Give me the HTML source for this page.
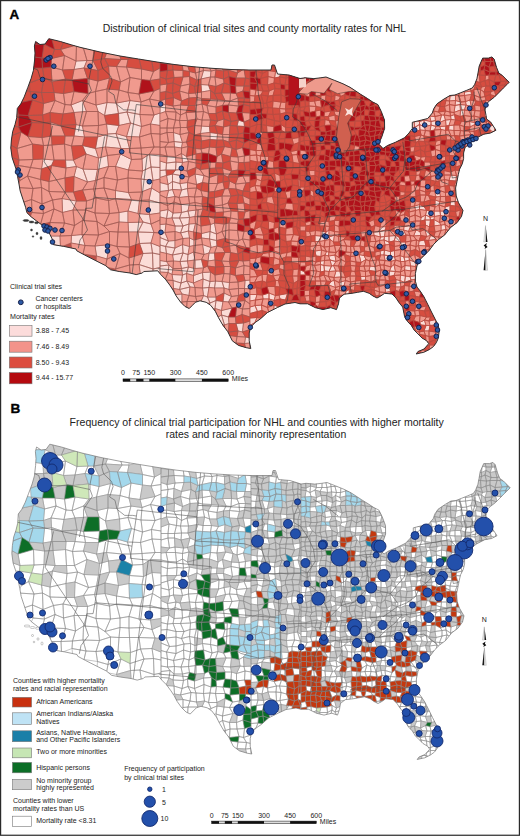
<!DOCTYPE html>
<html><head><meta charset="utf-8"><style>
html,body{margin:0;padding:0;background:#fff;}
body{width:520px;height:836px;position:relative;overflow:hidden;font-family:"Liberation Sans",sans-serif;color:#222;}
.t{position:absolute;white-space:nowrap;line-height:1;}
svg{position:absolute;left:0;top:0;}
</style></head><body>
<svg width="520" height="836" viewBox="0 0 520 836" font-family="Liberation Sans, sans-serif">
<defs><clipPath id="usA"><path d="M35.6,41.5 L40.0,44.5 L45.0,44.0 L48.8,38.7 L60.4,41.5 L71.9,45.0 L80.0,47.3 L100.0,52.0 L120.0,56.0 L138.5,59.0 L157.0,62.0 L175.0,64.6 L194.0,66.8 L212.0,68.3 L231.0,69.5 L249.0,70.0 L271.0,70.0 L272.0,65.0 L274.5,65.0 L277.5,74.0 L289.0,75.0 L300.0,78.5 L305.0,77.8 L313.8,78.6 L320.8,77.8 L326.0,77.0 L334.6,80.4 L343.0,83.8 L350.0,87.3 L355.4,90.8 L360.5,94.2 L367.5,98.5 L372.7,102.0 L377.9,104.6 L381.3,111.5 L384.5,120.0 L384.6,128.5 L381.5,137.7 L378.5,143.8 L383.0,148.5 L387.7,145.4 L395.4,142.3 L404.6,137.7 L409.0,133.0 L412.3,128.5 L412.3,122.3 L418.5,120.8 L427.7,118.5 L432.3,113.0 L433.8,108.5 L437.0,103.8 L444.0,99.0 L450.0,95.5 L455.0,95.0 L460.8,92.7 L466.5,90.4 L472.3,88.0 L474.6,84.6 L476.9,78.8 L478.0,73.0 L479.2,66.1 L482.7,58.1 L488.5,58.1 L491.9,56.9 L494.2,59.2 L496.5,67.3 L498.8,73.0 L502.3,75.4 L505.7,78.8 L509.2,82.3 L506.9,84.6 L503.4,88.0 L498.8,92.7 L494.2,97.3 L489.6,100.8 L486.1,104.2 L485.0,110.0 L486.1,115.7 L486.5,119.0 L490.6,122.0 L496.0,130.2 L490.6,133.0 L483.8,134.2 L475.8,138.3 L470.4,142.3 L465.0,147.7 L463.6,153.0 L463.6,158.5 L462.3,163.8 L459.6,169.2 L458.3,174.6 L457.0,181.3 L455.6,188.0 L456.2,196.0 L458.5,202.7 L463.0,210.4 L461.5,216.5 L457.0,222.7 L450.8,227.3 L444.6,235.0 L438.5,239.6 L433.8,244.2 L429.2,250.4 L424.6,255.0 L420.0,259.6 L417.0,265.8 L415.4,273.5 L415.4,281.2 L417.0,287.0 L420.0,290.8 L423.8,296.5 L427.7,304.2 L431.5,312.0 L435.4,319.6 L438.3,325.4 L439.2,331.0 L438.3,338.0 L436.3,342.7 L433.5,346.5 L429.6,349.4 L423.8,352.3 L419.0,353.3 L416.2,354.0 L418.0,351.5 L424.0,349.0 L428.7,343.7 L426.7,340.8 L422.0,338.0 L418.0,334.0 L414.2,330.2 L411.3,325.4 L407.5,321.5 L404.6,316.7 L403.7,312.0 L402.7,307.1 L398.8,302.3 L396.0,298.0 L392.0,294.0 L384.6,293.3 L380.8,296.0 L377.0,298.0 L373.0,296.0 L369.2,293.3 L363.5,291.3 L357.7,292.3 L352.0,293.3 L344.2,294.2 L339.4,298.0 L338.5,303.8 L336.5,309.6 L330.8,307.7 L323.0,309.6 L315.4,307.7 L307.7,303.8 L300.0,303.8 L295.0,302.5 L285.0,304.0 L277.5,307.5 L267.5,312.5 L260.0,319.2 L255.4,322.3 L250.8,327.0 L249.2,333.0 L249.2,340.8 L250.8,348.5 L246.2,347.7 L238.5,345.4 L232.3,340.8 L227.7,331.5 L223.0,325.4 L218.5,317.7 L215.4,311.5 L210.8,305.4 L206.2,302.3 L200.0,300.8 L195.4,302.3 L192.3,305.4 L189.2,308.5 L185.0,306.5 L180.5,302.0 L176.2,296.0 L173.0,290.0 L170.0,285.4 L165.4,279.2 L160.8,274.6 L157.7,270.8 L143.8,271.5 L142.3,273.0 L136.2,274.6 L130.0,273.0 L119.2,271.5 L110.6,269.8 L105.4,265.5 L95.0,260.3 L84.6,255.0 L76.8,250.8 L76.0,249.0 L63.8,246.4 L53.5,244.7 L52.5,239.6 L49.8,234.2 L47.1,228.8 L41.7,224.8 L36.3,220.8 L31.0,216.7 L26.9,212.7 L25.6,207.3 L22.9,199.2 L20.2,191.0 L18.8,183.0 L17.5,176.3 L16.2,169.6 L14.8,165.6 L12.1,157.5 L10.8,148.0 L11.4,140.0 L12.7,131.5 L15.0,124.6 L16.7,117.7 L17.3,108.5 L20.8,103.8 L24.2,96.9 L27.7,87.7 L31.1,78.5 L33.4,70.4 L34.6,60.0 L35.0,53.0 L34.4,46.0 Z"/></clipPath>
<clipPath id="usB"><path d="M35.6,41.5 L40.0,44.5 L45.0,44.0 L48.8,38.7 L60.4,41.5 L71.9,45.0 L80.0,47.3 L100.0,52.0 L120.0,56.0 L138.5,59.0 L157.0,62.0 L175.0,64.6 L194.0,66.8 L212.0,68.3 L231.0,69.5 L249.0,70.0 L271.0,70.0 L272.0,65.0 L274.5,65.0 L277.5,74.0 L289.0,75.0 L300.0,78.5 L305.0,77.8 L313.8,78.6 L320.8,77.8 L326.0,77.0 L334.6,80.4 L343.0,83.8 L350.0,87.3 L355.4,90.8 L360.5,94.2 L367.5,98.5 L372.7,102.0 L377.9,104.6 L381.3,111.5 L384.5,120.0 L384.6,128.5 L381.5,137.7 L378.5,143.8 L383.0,148.5 L387.7,145.4 L395.4,142.3 L404.6,137.7 L409.0,133.0 L412.3,128.5 L412.3,122.3 L418.5,120.8 L427.7,118.5 L432.3,113.0 L433.8,108.5 L437.0,103.8 L444.0,99.0 L450.0,95.5 L455.0,95.0 L460.8,92.7 L466.5,90.4 L472.3,88.0 L474.6,84.6 L476.9,78.8 L478.0,73.0 L479.2,66.1 L482.7,58.1 L488.5,58.1 L491.9,56.9 L494.2,59.2 L496.5,67.3 L498.8,73.0 L502.3,75.4 L505.7,78.8 L509.2,82.3 L506.9,84.6 L503.4,88.0 L498.8,92.7 L494.2,97.3 L489.6,100.8 L486.1,104.2 L485.0,110.0 L486.1,115.7 L486.5,119.0 L490.6,122.0 L496.0,130.2 L490.6,133.0 L483.8,134.2 L475.8,138.3 L470.4,142.3 L465.0,147.7 L463.6,153.0 L463.6,158.5 L462.3,163.8 L459.6,169.2 L458.3,174.6 L457.0,181.3 L455.6,188.0 L456.2,196.0 L458.5,202.7 L463.0,210.4 L461.5,216.5 L457.0,222.7 L450.8,227.3 L444.6,235.0 L438.5,239.6 L433.8,244.2 L429.2,250.4 L424.6,255.0 L420.0,259.6 L417.0,265.8 L415.4,273.5 L415.4,281.2 L417.0,287.0 L420.0,290.8 L423.8,296.5 L427.7,304.2 L431.5,312.0 L435.4,319.6 L438.3,325.4 L439.2,331.0 L438.3,338.0 L436.3,342.7 L433.5,346.5 L429.6,349.4 L423.8,352.3 L419.0,353.3 L416.2,354.0 L418.0,351.5 L424.0,349.0 L428.7,343.7 L426.7,340.8 L422.0,338.0 L418.0,334.0 L414.2,330.2 L411.3,325.4 L407.5,321.5 L404.6,316.7 L403.7,312.0 L402.7,307.1 L398.8,302.3 L396.0,298.0 L392.0,294.0 L384.6,293.3 L380.8,296.0 L377.0,298.0 L373.0,296.0 L369.2,293.3 L363.5,291.3 L357.7,292.3 L352.0,293.3 L344.2,294.2 L339.4,298.0 L338.5,303.8 L336.5,309.6 L330.8,307.7 L323.0,309.6 L315.4,307.7 L307.7,303.8 L300.0,303.8 L295.0,302.5 L285.0,304.0 L277.5,307.5 L267.5,312.5 L260.0,319.2 L255.4,322.3 L250.8,327.0 L249.2,333.0 L249.2,340.8 L250.8,348.5 L246.2,347.7 L238.5,345.4 L232.3,340.8 L227.7,331.5 L223.0,325.4 L218.5,317.7 L215.4,311.5 L210.8,305.4 L206.2,302.3 L200.0,300.8 L195.4,302.3 L192.3,305.4 L189.2,308.5 L185.0,306.5 L180.5,302.0 L176.2,296.0 L173.0,290.0 L170.0,285.4 L165.4,279.2 L160.8,274.6 L157.7,270.8 L143.8,271.5 L142.3,273.0 L136.2,274.6 L130.0,273.0 L119.2,271.5 L110.6,269.8 L105.4,265.5 L95.0,260.3 L84.6,255.0 L76.8,250.8 L76.0,249.0 L63.8,246.4 L53.5,244.7 L52.5,239.6 L49.8,234.2 L47.1,228.8 L41.7,224.8 L36.3,220.8 L31.0,216.7 L26.9,212.7 L25.6,207.3 L22.9,199.2 L20.2,191.0 L18.8,183.0 L17.5,176.3 L16.2,169.6 L14.8,165.6 L12.1,157.5 L10.8,148.0 L11.4,140.0 L12.7,131.5 L15.0,124.6 L16.7,117.7 L17.3,108.5 L20.8,103.8 L24.2,96.9 L27.7,87.7 L31.1,78.5 L33.4,70.4 L34.6,60.0 L35.0,53.0 L34.4,46.0 Z" transform="translate(1,405.5)"/></clipPath></defs>
<g clip-path="url(#usA)"><rect x="0" y="30" width="520" height="340" fill="#c05048"/><path d="M76 61l11-.5l-3 7.5l-10 1.5zM71 105l11.5-4.5l4 11l-12.5 1zM96 105l11-2.5l-2.5 13l-6.5-4zM107 102.5l9.5 .5l2 10.5l-14 2zM116.5 103l13.5-2.5l-3 11.5l-8.5 1.5zM130 100.5l11 1.5l-1 12.5l-13-2.5zM118.5 113.5l8.5-1.5l3.5 11l-11.5 2.5zM127 112l13 2.5l1.5 12l-11-3.5zM154 115l6-2l0 12.5l-9.5-1.5zM76 124.5l6.5 1.5l2 11l-10.5-1zM106.5 124l12.5 1.5l-3 8l-8.5 .5zM130.5 123l11 3.5l-2 10.5l-13-.5zM97.5 137l10-3l-2 13l-10 1.5zM107.5 134l8.5-.5l5 15l-15.5-1.5zM116 133.5l10.5 3l3 12l-8.5 0zM82.5 145.5l13 3l3 9.5l-12.5-4zM43 159l11 1l-2.5 5.5l-10 3.5zM65.5 160l8 0l3 6.5l-10.5 1.5zM98.5 158l9-2.5l1 11l-11 3zM120.5 154l11 5.5l-3 10.5l-13-3.5zM142 159l7.5-5l1.5 13l-8.5 4zM149.5 154l10.5 .5l0 13l-9-.5zM76.5 166.5l6.5 2.5l4.5 13l-13.5-5.5zM83 169l14.5 .5l-2 11l-8 1.5zM142.5 171l8.5-4l2 13.5l-12-1.5zM151 167l9 .5l0 11.5l-7 1.5zM141 179l12 1.5l-1.5 7.5l-10 4zM115.5 190.5l13 2l3 7l-16-1zM151.5 188l8.5 5l0 10l-11-3zM62 198.5l14.5 2.5l-3.5 9l-10.5 2.5zM131.5 199.5l8 1l-1.5 13l-10-2.5zM149 200l11 3l0 10l-10.5 1.5zM119 212.5l9-1.5l0 11.5l-9-.5zM138 213.5l11.5 1l1.5 9.5l-8-2zM128 222.5l15-.5l-5 10l-9.5 0zM143 222l8 2l3 8.5l-16-.5zM49 236l11 0l.5 11l-10-4zM71.5 235.5l10.5-1l3 11l-14-2.5zM138 232l16 .5l-3 10.5l-11.5 .5zM95 246l14.5-1.5l-2.5 14.5l-10.5-3zM139.5 243.5l11.5-.5l1.5 10l-9.5 .5zM151 243l9 3.5l0 8l-7.5-1.5zM143 253.5l9.5-.5l.5 16l-14-4.5zM152.5 253l7.5 1.5l0 13l-7 1.5zM139 264.5l14 4.5l0 6.5l-12 4zM153 269l7-1.5l0 10l-7-2zM160 57.5l8.5-2l-1 8.5l-7.5-1zM203.5 70.5l7.5 .5l-.5 6l-9.5 2zM201 84.5l7.5 .5l2 5.5l-9 1.5zM160 105.5l5.5-1l0 7l-5.5 2zM238.5 120l5.5 2l.5 4.5l-7.5-.5zM201.5 126l8 .5l.5 6l-9.5 1zM173.5 132.5l6.5 2l2.5 8l-8.5-1zM210 132.5l7.5 1l-.5 6.5l-7-.5zM174 141.5l8.5 1l-1 5.5l-7-1zM167 156l8.5 .5l.5 5.5l-9.5 1zM181.5 153.5l5 3l2 5l-6 1zM160 161l6.5 2l-.5 7l-6 .5zM166.5 163l9.5-1l-.5 8l-9.5 0zM176 162l6.5 .5l-1.5 7l-5.5 .5zM160 170.5l6-.5l.5 5.5l-6.5 2zM175.5 170l5.5-.5l-.5 6l-8-1.5zM166.5 175.5l6-1.5l0 7.5l-4.5 3zM172.5 174l8 1.5l-.5 8l-7.5-2zM195 174l9 1.5l-1.5 7l-6 2zM160 182.5l8 2l.5 6l-8.5 1zM168 184.5l4.5-3l0 8l-4 1zM172.5 181.5l7.5 2l1.5 6.5l-9-.5zM180 183.5l7.5-1l0 6l-6 1.5zM168.5 190.5l4-1l2.5 7l-8.5 1.5zM181.5 190l6-1.5l1 8l-9.5 1zM181 204.5l8.5-1l-1.5 7.5l-6.5 1.5zM160 211l8-1.5l-1.5 9l-6.5-1.5zM168 209.5l5 3.5l-1 5l-5.5 .5zM173 213l8.5-.5l-2 5.5l-7.5 0zM181.5 212.5l6.5-1.5l1.5 6.5l-10 .5zM188 211l8-1l-1 6.5l-5.5 1zM172 218l7.5 0l3.5 8l-8 0zM179.5 218l10-.5l-.5 6.5l-6 2zM160 224.5l6-.5l-1 8.5l-5 1.5zM175 226l8 0l-2.5 7l-5.5-1.5zM183 226l6-2l-.5 7l-8 2zM189 224l6.5-.5l-2 8.5l-5-1zM210.5 224.5l4-1.5l2 11l-6.5-2.5zM160 234l5-1.5l3.5 8.5l-8.5-3.5zM180.5 233l8-2l1 7l-6.5 .5zM201.5 233.5l8.5-2l-.5 7.5l-8-1zM210 231.5l6.5 2.5l0 6.5l-7-1.5zM160 237.5l8.5 3.5l-3 5.5l-5.5-1.5zM168.5 241l6.5-.5l0 7.5l-9.5-1.5zM189.5 238l4.5 2l0 5.5l-4.5 1zM209.5 239l7 1.5l.5 5.5l-6 1.5zM160 245l5.5 1.5l1 7l-6.5-1.5zM165.5 246.5l9.5 1.5l-2.5 7l-6-1.5zM175 248l7.5-3.5l.5 8.5l-10.5 2zM182.5 244.5l7 2l-1.5 8l-5-1.5zM202.5 244.5l8.5 3l-2 5.5l-5 1.5zM172.5 255l10.5-2l-3 8.5l-6.5-.5zM183 253l5 1.5l-.5 6.5l-7.5 .5zM188 254.5l5.5-2.5l1.5 8l-7.5 1zM209 253l5.5 0l.5 7l-7 1zM160 260.5l6.5 1l2.5 3.5l-9 1zM180 261.5l7.5-.5l1 6l-7 1.5zM195 260l6.5-.5l2 8.5l-8.5 .5zM160 266l9-1l-1 7.5l-8-.5zM169 265l4 3.5l-1 6l-4-2zM181.5 268.5l7-1.5l-2 6.5l-4 1.5zM188.5 267l6.5 1.5l-1.5 7l-7-2zM172 274.5l10.5 .5l-1.5 8l-8-2.5zM182.5 275l4-1.5l.5 7.5l-6 2zM193.5 275.5l9-3l.5 6.5l-9.5 4zM202.5 272.5l8-.5l-.5 9.5l-7-2.5zM173 280.5l8 2.5l-1.5 6.5l-6-1zM181 283l6-2l3 6l-10.5 2.5zM187 281l6.5 2l1.5 4.5l-5-.5zM203 279l7 2.5l-1 6l-6.5 .5zM210 281.5l5.5-.5l-1 7l-5.5-.5zM215.5 281l6.5 .5l2 6.5l-9.5 0zM222 281.5l7.5 1l-.5 7l-5-1.5zM245 280.5l5-.5l0 9l-5.5-.5zM179.5 289.5l10.5-2.5l-1 8.5l-7-1.5zM202.5 288l6.5-.5l-1.5 9.5l-4-1.5zM175 294.5l7-.5l0 8l-7.5-.5zM203.5 295.5l4 1.5l2.5 6l-10 .5zM207.5 297l8.5 0l0 3.5l-6 2.5zM224 293l7.5 3.5l-3 5.5l-5.5-.5zM210 303l6-2.5l-1 8l-7.5 1.5zM216 300.5l7 1l-1.5 9l-6.5-2zM221.5 310.5l10.5-2.5l-3.5 9l-7-2zM217 317.5l4.5-2.5l3 10l-6.5 0zM221.5 315l7 2l.5 6.5l-4.5 1.5zM236 323.5l7.5-.5l-1 9l-4.5-1zM224.5 329.5l4 2.5l.5 3.5l-4.5 0zM245.5 337l4.5 1l0 5l-5.5 .5z" fill="#fbdcd7" stroke="#9c5851" stroke-width="0.6"/><path d="M60.5 49.5l16-4.5l-.5 16l-11.5-5.5zM76.5 45l7 3.5l3.5 12l-11 .5zM83.5 48.5l10.5-1.5l-1 13.5l-6 0zM108 49l10 1l3 9.5l-16.5-1zM51.5 58.5l13-3l-2 14.5l-11.5-3zM64.5 55.5l11.5 5.5l-2 8.5l-11.5 .5zM87 60.5l6 0l5 10l-14-2.5zM121 59.5l7 0l-1.5 7.5l-10-.5zM51 67l11.5 3l3 9l-13.5 3zM74 69.5l10-1.5l3.5 10.5l-15.5 1.5zM108.5 66l8 .5l4 15.5l-11-4zM116.5 66.5l10 .5l3.5 10.5l-9.5 4.5zM126.5 67l15 2l0 10.5l-11.5-2zM141.5 69l12 2.5l-3.5 9l-8.5-1zM153.5 71.5l6.5-3.5l0 11l-10 1.5zM87.5 78.5l10.5 2.5l-2.5 10.5l-7.5 2zM98 81l11.5-3l-2.5 11l-11.5 2.5zM120.5 82l9.5-4.5l-2 15l-9-2.5zM130 77.5l11.5 2l-2.5 14.5l-11-1.5zM54 92.5l9.5 1l1.5 11l-10-4zM63.5 93.5l10.5-2l-3 13.5l-6-.5zM74 91.5l14 2l-5.5 7l-11.5 4.5zM88 93.5l7.5-2l.5 13.5l-13.5-4.5zM95.5 91.5l11.5-2.5l0 13.5l-11 2.5zM107 89l12 1l-2.5 13l-9.5-.5zM119 90l9 2.5l2 8l-13.5 2.5zM128 92.5l11 1.5l2 8l-11-1.5zM139 94l15-3l-4.5 8l-8.5 3zM154 91l6-2.5l0 12.5l-10.5-2zM43.5 103.5l11.5-3l-5 12l-7.5 2.5zM55 100.5l10 4l-2 9.5l-13-1.5zM65 104.5l6 .5l3 7.5l-11 1.5zM82.5 100.5l13.5 4.5l2 6.5l-11.5 0zM141 102l8.5-3l4.5 16l-14-.5zM149.5 99l10.5 2l0 12l-6 2zM74 112.5l12.5-1l-4 14.5l-6.5-1.5zM86.5 111.5l11.5 0l.5 14l-16 .5zM98 111.5l6.5 4l2 8.5l-8 1.5zM140 114.5l14 .5l-3.5 9l-9 2.5zM50.5 122l10.5 3.5l4 10.5l-13.5 0zM82.5 126l16-.5l-1 11.5l-13 0zM98.5 125.5l8-1.5l1 10l-10 3zM119 125.5l11.5-2.5l-4 13.5l-10.5-3zM141.5 126.5l9-2.5l.5 9.5l-11.5 3.5zM150.5 124l9.5 1.5l0 8.5l-9-.5zM21 132l7 4.5l4.5 7.5l-15.5 4.5zM28 136.5l14 1l1.5 8l-11-1.5zM42 137.5l9.5-1.5l.5 9l-8.5 .5zM65 136l9 0l-2.5 10l-7-2zM74 136l10.5 1l-2 8.5l-11 .5zM126.5 136.5l13 .5l1.5 11l-11.5 .5zM139.5 137l11.5-3.5l3 13.5l-13 1zM151 133.5l9 .5l0 13l-6 0zM17 148.5l15.5-4.5l.5 15.5l-14 .5zM43.5 145.5l8.5-.5l2 15l-11-1zM52 145l12.5-1l1 16l-11.5 0zM64.5 144l7 2l2 14l-8 0zM95.5 148.5l10-1.5l2 8.5l-9 2.5zM105.5 147l15.5 1.5l-.5 5.5l-13 1.5zM121 148.5l8.5 0l2 11l-11-5.5zM129.5 148.5l11.5-.5l1 11l-10.5 .5zM141 148l13-1l-4.5 7l-7.5 5zM154 147l6 0l0 7.5l-10.5-.5zM19 160l14-.5l-2.5 8l-12-2zM33 159.5l10-.5l-1.5 10l-11-1.5zM73.5 160l12.5-6l-3 15l-6.5-2.5zM86 154l12.5 4l-1 11.5l-14.5-.5zM107.5 155.5l13-1.5l-5 12.5l-7 0zM131.5 159.5l10.5-.5l.5 12l-14-1zM18.5 165.5l12 2l-3 8.5l-7.5 4.5zM30.5 167.5l11 1.5l-1 10.5l-13-3.5zM51.5 165.5l14.5 2.5l-1 10l-16 3.5zM66 168l10.5-1.5l-2.5 10l-9 1.5zM97.5 169.5l11-3l-4.5 11l-8.5 3zM108.5 166.5l7 0l2 13.5l-13.5-2.5zM115.5 166.5l13 3.5l-.5 8l-10.5 2zM128.5 170l14 1l-1.5 8l-13-1zM20 180.5l7.5-4.5l5.5 12.5l-15.5-1zM27.5 176l13 3.5l1 8l-8.5 1zM40.5 179.5l8.5 2l0 10l-7.5-4zM49 181.5l16-3.5l.5 14l-16.5-.5zM74 176.5l13.5 5.5l-5 8l-9 2zM87.5 182l8-1.5l-2 8.5l-11 1zM95.5 180.5l8.5-3l0 10.5l-10.5 1zM104 177.5l13.5 2.5l-2 10.5l-11.5-2.5zM117.5 180l10.5-2l.5 14.5l-13-2zM128 178l13 1l.5 13l-13 .5zM153 180.5l7-1.5l0 14l-8.5-5zM17.5 187.5l15.5 1l-1.5 11l-13.5 4.5zM33 188.5l8.5-1l.5 16.5l-10.5-4.5zM41.5 187.5l7.5 4l3.5 8.5l-10.5 4zM49 191.5l16.5 .5l-3.5 6.5l-9.5 1.5zM65.5 192l8 0l3 9l-14.5-2.5zM82.5 190l11-1l2.5 9l-9.5 3zM93.5 189l10.5-1l4.5 12.5l-12.5-2.5zM104 188l11.5 2.5l0 8l-7 2zM128.5 192.5l13-.5l-2 8.5l-8-1zM141.5 192l10-4l-2.5 12l-9.5 .5zM18 204l13.5-4.5l.5 13l-11.5-3zM31.5 199.5l10.5 4.5l1.5 9.5l-11.5-1zM42 204l10.5-4l1.5 9l-10.5 4.5zM52.5 200l9.5-1.5l.5 14l-8.5-3.5zM76.5 201l10 0l-.5 9l-13 0zM86.5 201l9.5-3l-1 15l-9-3zM96 198l12.5 2.5l1 13l-14.5-.5zM108.5 200.5l7-2l3.5 14l-9.5 1zM115.5 198.5l16 1l-3.5 11.5l-9 1.5zM139.5 200.5l9.5-.5l.5 14.5l-11.5-1zM32 212.5l11.5 1l-3 11l-12-3.5zM43.5 213.5l10.5-4.5l-4 13.5l-9.5 2zM54 209l8.5 3.5l2 10.5l-14.5-.5zM62.5 212.5l10.5-2.5l1.5 15.5l-10-2.5zM73 210l13 0l-3.5 10.5l-8 5zM86 210l9 3l2 8.5l-14.5-1zM95 213l14.5 .5l-5.5 12.5l-7-4.5zM109.5 213.5l9.5-1l0 9.5l-15 4zM128 211l10 2.5l5 8.5l-15 .5zM149.5 214.5l10.5-1.5l0 7l-9 4zM50 222.5l14.5 .5l-4.5 13l-11 0zM64.5 223l10 2.5l-3 10l-11.5 .5zM74.5 225.5l8-5l-.5 14l-10.5 1zM82.5 220.5l14.5 1l1.5 13.5l-16.5-.5zM97 221.5l7 4.5l5.5 5.5l-11 3.5zM104 226l15-4l-1 10l-8.5-.5zM119 222l9 .5l.5 9.5l-10.5 0zM151 224l9-4l0 13l-6-.5zM60 236l11.5-.5l-.5 7.5l-10.5 4zM82 234.5l16.5 .5l-3.5 11l-10-.5zM98.5 235l11-3.5l0 13l-14.5 1.5zM109.5 231.5l8.5 .5l-1 14.5l-7.5-2zM118 232l10.5 0l1 15l-12.5-.5zM128.5 232l9.5 0l1.5 11.5l-10 3.5zM154 232.5l6 .5l0 13.5l-9-3.5zM71 243l14 2.5l-2 8.5l-10.5 3zM85 245.5l10 .5l1.5 10l-13.5-2zM109.5 244.5l7.5 2l3 7l-13 5.5zM117 246.5l12.5 .5l-.5 11l-9-4.5zM96.5 256l10.5 3l-1.5 8l-10 3zM107 259l13-5.5l-4.5 15.5l-10-2zM120 253.5l9 4.5l.5 7l-14 4zM129 258l14-4.5l-4 11l-9.5 .5zM115.5 269l14-4l1 15.5l-11.5-1zM129.5 265l9.5-.5l2 15l-10.5 1zM182 62.5l5 1l2.5 8l-6.5-1zM194.5 64.5l8-.5l1 6.5l-8 2.5zM202.5 64l5-.5l3.5 7.5l-7.5-.5zM207.5 63.5l7.5-1l1 7.5l-5 1zM215 62.5l6 3l2.5 5.5l-7.5-1zM229 63.5l8 .5l.5 9l-9.5-3zM173 70l10 .5l0 6.5l-9 .5zM189.5 71.5l6 1.5l1.5 7l-7.5-3.5zM195.5 73l8-2.5l-2.5 8.5l-4 1zM211 71l5-1l-1 7l-4.5 0zM237.5 73l6.5-4l1.5 9l-9.5 0zM183 77l6.5-.5l.5 7.5l-9.5 2zM201 79l9.5-2l-2 8l-7.5-.5zM210.5 77l4.5 0l1 9.5l-7.5-1.5zM215 77l8.5 2l.5 4l-8 3.5zM160 85l7-1l-1 7.5l-6 1zM180.5 86l9.5-2l-1.5 9.5l-9-2.5zM235.5 86l8.5 0l-1 5l-7 2.5zM179.5 91l9 2.5l.5 4.5l-7.5 3zM188.5 93.5l7-.5l1.5 4.5l-8 .5zM195.5 93l6-1l0 6.5l-4.5-1zM201.5 92l9-1.5l0 8.5l-9-.5zM221.5 93l9 0l-.5 8l-5-.5zM230.5 93l5.5 .5l2 4.5l-8 3zM160 101l5.5-2l0 5.5l-5.5 1zM173.5 97.5l8 3.5l-1 4l-7.5 1zM197 97.5l4.5 1l.5 5.5l-7 1.5zM210.5 99l7 .5l-1.5 7.5l-9-1.5zM217.5 99.5l7.5 1l-2.5 5l-6.5 1.5zM225 100.5l5 .5l-1.5 4l-6 .5zM230 101l8-3l.5 8l-10-1zM165.5 104.5l7.5 1.5l3 6l-10.5-.5zM173 106l7.5-1l0 10l-4.5-3zM180.5 105l8 .5l-2.5 7l-5.5 2.5zM195 105.5l7-1.5l1.5 7.5l-8 .5zM202 104l5 1.5l1.5 8l-5-2zM207 105.5l9 1.5l0 6.5l-7.5 0zM228.5 105l10 1l-2 7l-8-.5zM160 113.5l5.5-2l2.5 7l-8 3zM165.5 111.5l10.5 .5l-.5 8l-7.5-1.5zM176 112l4.5 3l-1 5.5l-4-.5zM180.5 115l5.5-2.5l1.5 8l-8 0zM186 112.5l9.5-.5l1.5 7l-9.5 1.5zM195.5 112l8-.5l-1.5 8.5l-5-1zM203.5 111.5l5 2l2 6.5l-8.5 0zM242 112.5l8 .5l0 6.5l-6 2.5zM160 121.5l8-3l-1 9.5l-7 0zM168 118.5l7.5 1.5l-2 8l-6.5 0zM175.5 120l4 .5l1 7l-7 .5zM179.5 120.5l8 0l-.5 7l-6.5 0zM197 119l5 1l-.5 6l-7-.5zM202 120l8.5 0l-1 6.5l-8-.5zM217.5 121l6.5-2l-.5 8l-8.5-1.5zM160 128l7 0l0 4.5l-7 2zM167 128l6.5 0l0 4.5l-6.5 0zM173.5 128l7-.5l-.5 7l-6.5-2zM180.5 127.5l6.5 0l2 5l-9 2zM194.5 125.5l7 .5l-1 7.5l-6 1.5zM223.5 127l6.5-1.5l-.5 9l-7 0zM160 134.5l7-2l1.5 10l-8.5-1zM167 132.5l6.5 0l.5 9l-5.5 1zM180 134.5l9-2l-2.5 9.5l-4 .5zM200.5 133.5l9.5-1l0 7l-8.5 1.5zM217.5 133.5l5 1l.5 5.5l-6 0zM222.5 134.5l7 0l-.5 7.5l-6-2zM160 141.5l8.5 1l-3.5 4.5l-5 .5zM168.5 142.5l5.5-1l.5 5.5l-9.5 0zM182.5 142.5l4-.5l1.5 4.5l-6.5 1.5zM160 147.5l5-.5l2 9l-7-1.5zM165 147l9.5 0l1 9.5l-8.5-.5zM174.5 147l7 1l0 5.5l-6 3zM181.5 148l6.5-1.5l-1.5 10l-5-3zM195.5 148.5l5.5 .5l1 4l-6 1zM201 149l8.5-2l-1 6.5l-6.5-.5zM209.5 147l6.5 .5l1 9l-8.5-3zM224.5 146.5l7.5 1.5l-1.5 8.5l-9-2.5zM236 149.5l6.5-2l2 8.5l-6.5 1zM160 154.5l7 1.5l-.5 7l-6.5-2zM175.5 156.5l6-3l1 9l-6.5-.5zM186.5 156.5l9.5-2.5l0 9l-7.5-1.5zM217 156.5l4.5-2.5l1.5 9l-7-.5zM230.5 156.5l7.5 .5l.5 5.5l-8.5-1.5zM238 157l6.5-1l-.5 6.5l-5.5 0zM244.5 156l5.5-1l0 7l-6 .5zM182.5 162.5l6-1l-1.5 9.5l-6-1.5zM188.5 161.5l7.5 1.5l0 4.5l-9 3.5zM208.5 162.5l7.5 0l-.5 5.5l-6.5 .5zM230 161l8.5 1.5l-.5 7.5l-6.5 1zM181 169.5l6 1.5l2 6l-8.5-1.5zM196 167.5l4 2l4 6l-9-1.5zM200 169.5l9-1l.5 9l-5.5-2zM222.5 168l9 3l-3.5 6l-4.5-2zM160 177.5l6.5-2l1.5 9l-8-2zM180.5 175.5l8.5 1.5l-1.5 5.5l-7.5 1zM189 177l6-3l1.5 10.5l-9-2zM204 175.5l5.5 2l-1 6l-6-1zM209.5 177.5l8.5-3l-.5 9l-9 0zM238 177l5-1l3 7l-10.5 1zM243 176l7 0l0 6.5l-4 .5zM187.5 182.5l9 2l0 3.5l-9 .5zM208.5 183.5l9 0l-3 8l-5.5 .5zM217.5 183.5l5.5-1.5l1.5 7l-10 2.5zM229.5 181l6 3l.5 5l-7.5-.5zM235.5 184l10.5-1l-3 8l-7-2zM160 191.5l8.5-1l-2 7.5l-6.5-3zM172.5 189.5l9 .5l-2.5 7.5l-4-1zM187.5 188.5l9-.5l-2 9l-6-.5zM196.5 188l4.5 2.5l1.5 6l-8 .5zM201 190.5l8 1.5l-.5 6l-6-1.5zM224.5 189l4-.5l2.5 7.5l-9 0zM160 195l6.5 3l1 7.5l-7.5-3zM166.5 198l8.5-1.5l-1 5.5l-6.5 3.5zM175 196.5l4 1l2 7l-7-2.5zM179 197.5l9.5-1l1 7l-8.5 1zM188.5 196.5l6 .5l.5 5.5l-5.5 1zM194.5 197l8-.5l-.5 7.5l-7-1.5zM214.5 197.5l7.5-1.5l.5 9l-8 1zM222 196l9 0l-3 7l-5.5 2zM242.5 195.5l7.5 3.5l0 6l-6-2zM160 202.5l7.5 3l.5 4l-8 1.5zM167.5 205.5l6.5-3.5l-1 11l-5-3.5zM174 202l7 2.5l.5 8l-8.5 .5zM189.5 203.5l5.5-1l1 7.5l-8 1zM195 202.5l7 1.5l1 5l-7 1zM214.5 206l8-1l1 7l-8 .5zM222.5 205l5.5-2l3 8l-7.5 1zM237 203.5l7-.5l1 9l-7-.5zM196 210l7-1l-2.5 8l-5.5-.5zM223.5 212l7.5-1l-.5 7l-7.5-1.5zM231 211l7 .5l.5 8l-8-1.5zM245 212l5-1.5l0 8l-6.5 .5zM160 217l6.5 1.5l-.5 5.5l-6 .5zM166.5 218.5l5.5-.5l3 8l-9-2zM189.5 217.5l5.5-1l.5 7l-6.5 .5zM195 216.5l5.5 .5l.5 9l-5.5-2.5zM208 216.5l6.5 2l0 4.5l-4 1.5zM230.5 218l8 1.5l-1 4l-8.5-.5zM166 224l9 2l0 5.5l-10 1zM195.5 223.5l5.5 2.5l.5 7.5l-8-1.5zM201 226l9.5-1.5l-.5 7l-8.5 2zM214.5 223l9.5 1l-2 7.5l-5.5 2.5zM224 224l5-1l0 7l-7 1.5zM229 223l8.5 .5l0 7l-8.5-.5zM165 232.5l10-1l0 9l-6.5 .5zM175 231.5l5.5 1.5l2.5 5.5l-8 2zM188.5 231l5 1l.5 8l-4.5-2zM216.5 234l5.5-2.5l3 7l-8.5 2zM222 231.5l7-1.5l0 9.5l-4-1zM229 230l8.5 .5l1.5 10l-10-1zM237.5 230.5l6.5 1l-1.5 7.5l-3.5 1.5zM244 231.5l6-.5l0 9l-7.5-1zM175 240.5l8-2l-.5 6l-7.5 3.5zM183 238.5l6.5-.5l0 8.5l-7-2zM194 240l7.5-2l1 6.5l-8.5 1zM201.5 238l8 1l1.5 8.5l-8.5-3zM229 239.5l10 1l-2.5 4.5l-7 1zM239 240.5l3.5-1.5l3.5 8.5l-9.5-2.5zM242.5 239l7.5 1l0 8l-4-.5zM189.5 246.5l4.5-1l-.5 6.5l-5.5 2.5zM194 245.5l8.5-1l1.5 10l-10.5-2.5zM211 247.5l6-1.5l-2.5 7l-5.5 0zM217 246l5.5 1.5l2.5 5l-10.5 .5zM229.5 246l7-1l1.5 9l-7.5-1.5zM160 252l6.5 1.5l0 8l-6.5-1zM166.5 253.5l6 1.5l1 6l-7 .5zM193.5 252l10.5 2.5l-2.5 5l-6.5 .5zM204 254.5l5-1.5l-1 8l-6.5-1.5zM225 252.5l5.5 0l-1 9l-8-.5zM166.5 261.5l7-.5l-.5 7.5l-4-3.5zM173.5 261l6.5 .5l1.5 7l-8.5 0zM187.5 261l7.5-1l0 8.5l-6.5-1.5zM208 261l7-1l.5 7l-8-1zM221.5 261l8 .5l1 5l-6.5 0zM239 260.5l4 .5l1 4.5l-8.5 2.5zM243 261l7-.5l0 6l-6-1zM173 268.5l8.5 0l1 6.5l-10.5-.5zM195 268.5l8.5-.5l-1 4.5l-9 3zM203.5 268l4-2l3 6l-8 .5zM224 266.5l6.5 0l-.5 7.5l-6-.5zM235.5 268l8.5-2.5l-.5 9l-8 1zM244 265.5l6 1l0 8l-6.5 0zM160 272l8 .5l-3 7.5l-5 1zM168 272.5l4 2l1 6l-8-.5zM186.5 273.5l7 2l0 7.5l-6.5-2zM210.5 272l4.5 3l.5 6l-5.5 .5zM215 275l9-1.5l-2 8l-6.5-.5zM224 273.5l6 .5l-.5 8.5l-7.5-1zM230 274l5.5 1.5l2.5 6.5l-8.5 .5zM243.5 274.5l6.5 0l0 5.5l-5 .5zM165 280l8 .5l.5 8l-5.5 1.5zM193.5 283l9.5-4l-.5 9l-7.5-.5zM229.5 282.5l8.5-.5l.5 6.5l-9.5 1zM238 282l7-1.5l-.5 8l-6 0zM173.5 288.5l6 1l2.5 4.5l-7 .5zM190 287l5 .5l.5 9l-6.5-1zM195 287.5l7.5 .5l1 7.5l-8 1zM209 287.5l5.5 .5l1.5 9l-8.5 0zM214.5 288l9.5 0l0 5l-8 4zM224 288l5 1.5l2.5 7l-7.5-3.5zM229 289.5l9.5-1l0 7l-7 1zM238.5 288.5l6 0l0 4.5l-6 2.5zM244.5 288.5l5.5 .5l0 6l-5.5-2zM182 294l7 1.5l-2 6l-5 .5zM189 295.5l6.5 1l1.5 5l-10 0zM195.5 296.5l8-1l-3.5 8l-3-2zM231.5 296.5l7-1l-1.5 6l-8.5 .5zM244.5 293l5.5 2l0 9l-5-3.5zM182 302l5-.5l-.5 9l-5.5 0zM187 301.5l10 0l-4 6l-6.5 3zM223 301.5l5.5 .5l3.5 6l-10.5 2.5zM228.5 302l8.5-.5l-.5 5.5l-4.5 1zM237 301.5l8-1l-2.5 8.5l-6-2zM245 300.5l5 3.5l0 4.5l-7.5 .5zM215 308.5l6.5 2l0 4.5l-4.5 2.5zM236.5 307l6 2l-.5 5.5l-6.5 2.5zM242.5 309l7.5-.5l0 8.5l-8-2.5zM228.5 317l7 0l.5 6.5l-7 0zM224.5 325l4.5-1.5l-.5 8.5l-4-2.5zM243.5 323l6.5-2l0 8.5l-7.5 2.5zM238 331l4.5 1l3 5l-8.5-.5zM229 335.5l8 1l-1 6.5l-5.5 .5zM237 336.5l8.5 .5l-1 6.5l-8.5-.5zM244.5 343.5l5.5-.5l0 8.5l-4-2z" fill="#f09a8e" stroke="#9c5851" stroke-width="0.6"/><path d="M51.5 38l13.5 .5l-4.5 11l-6 0zM65 38.5l8.5-.5l3 7l-16 4.5zM44 44l10.5 5.5l-3 9l-9.5-.5zM54.5 49.5l6 0l4 6l-13 3zM94 47l14 2l-3.5 9.5l-11.5 2zM118 50l11-2l-1 11.5l-7 0zM93 60.5l11.5-2l4 7.5l-10.5 4.5zM104.5 58.5l16.5 1l-4.5 7l-8-.5zM128 59.5l10.5-3l3 12.5l-15-2zM138.5 56.5l12.5 0l2.5 15l-12-2.5zM151 56.5l9 3.5l0 8l-6.5 3.5zM30.5 68l12 0l1.5 9.5l-14.5 5.5zM42.5 68l8.5-1l1 15l-8-4.5zM62.5 70l11.5-.5l-2 10.5l-6.5-1zM84 68l14 2.5l0 10.5l-10.5-2.5zM98 70.5l10.5-4.5l1 12l-11.5 3zM29.5 83l14.5-5.5l-2.5 15l-11.5-1zM44 77.5l8 4.5l2 10.5l-12.5 0zM52 82l13.5-3l-2 14.5l-9.5-1zM65.5 79l6.5 1l2 11.5l-10.5 2zM109.5 78l11 4l-1.5 8l-12-1zM150 80.5l10-1.5l0 9.5l-6 2.5zM17.5 89.5l12.5 2l2.5 8.5l-16 3.5zM30 91.5l11.5 1l2 11l-11-3.5zM41.5 92.5l12.5 0l1 8l-11.5 3zM32.5 100l11 3.5l-1 11.5l-14.5 .5zM8 113l10.5 2l0 12l-10.5-2zM28 115.5l14.5-.5l1 8l-11.5-.5zM42.5 115l7.5-2.5l.5 9.5l-7 1zM50 112.5l13 1.5l-2 11.5l-10.5-3.5zM63 114l11-1.5l2 12l-15 1zM104.5 115.5l14-2l.5 12l-12.5-1.5zM8 125l10.5 2l2.5 5l-13 5zM32 122.5l11.5 .5l-1.5 14.5l-14-1zM43.5 123l7-1l1 14l-9.5 1.5zM61 125.5l15-1l-2 11.5l-9 0zM8 137l13-5l-4 16.5l-9-5zM51.5 136l13.5 0l-.5 8l-12.5 1zM84.5 137l13 0l-2 11.5l-13-3zM8 143.5l9 5l2 11.5l-11-4zM32.5 144l11 1.5l-.5 13.5l-10 .5zM71.5 146l11-.5l3.5 8.5l-12.5 6zM8 156l11 4l-.5 5.5l-10.5 0zM54 160l11.5 0l.5 8l-14.5-2.5zM41.5 169l10-3.5l-2.5 16l-8.5-2zM65 178l9-1.5l-.5 15.5l-8 0zM73.5 192l9-2l4 11l-10 0zM40.5 224.5l9.5-2l-1 13.5l-7.5-2.5zM129.5 247l10-3.5l3.5 10l-14 4.5zM167.5 64l5 .5l.5 5.5l-5.5 .5zM172.5 64.5l9.5-2l1 8l-10-.5zM187 63.5l7.5 1l1 8.5l-6-1.5zM221 65.5l8-2l-1 6.5l-4.5 1zM237 64l6 0l1 5l-6.5 4zM160 71.5l7.5-1l-1.5 8.5l-6-2zM167.5 70.5l5.5-.5l1 7.5l-8 1.5zM183 70.5l6.5 1l0 5l-6.5 .5zM216 70l7.5 1l0 8l-8.5-2zM223.5 71l4.5-1l1 6.5l-5.5 2.5zM228 70l9.5 3l-1.5 5l-7-1.5zM244 69l6 1l0 9l-4.5-1zM160 77l6 2l1 5l-7 1zM166 79l8-1.5l-1 5.5l-6 1zM174 77.5l9-.5l-2.5 9l-7.5-3zM189.5 76.5l7.5 3.5l-2.5 6.5l-4.5-2.5zM197 80l4-1l0 5.5l-6.5 2zM223.5 79l5.5-2.5l1 8.5l-6-2zM236 78l9.5 0l-1.5 8l-8.5 0zM245.5 78l4.5 1l0 7l-6 0zM167 84l6-1l-.5 10.5l-6.5-2zM173 83l7.5 3l-1 5l-7 2.5zM190 84l4.5 2.5l1 6.5l-7 .5zM194.5 86.5l6.5-2l.5 7.5l-6 1zM208.5 85l7.5 1.5l-1.5 7l-4-3zM216 86.5l8-3.5l-2.5 10l-7 .5zM224 83l6 2l.5 8l-9 0zM244 86l6 0l0 6l-7-1zM160 92.5l6-1l-.5 7.5l-5.5 2zM166 91.5l6.5 2l1 4l-8 1.5zM172.5 93.5l7-2.5l2 10l-8-3.5zM210.5 90.5l4 3l3 6l-7-.5zM214.5 93.5l7-.5l3.5 7.5l-7.5-1zM236 93.5l7-2.5l1.5 7l-6.5 0zM165.5 99l8-1.5l-.5 8.5l-7.5-1.5zM181.5 101l7.5-3l-.5 7.5l-8-.5zM189 98l8-.5l-2 8l-6.5 0zM201.5 98.5l9 .5l-3.5 6.5l-5-1.5zM238 98l6.5 0l-1 6.5l-5 1.5zM244.5 98l5.5 .5l0 7.5l-6.5-1.5zM188.5 105.5l6.5 0l.5 6.5l-9.5 .5zM216 107l6.5-1.5l0 5.5l-6.5 2.5zM243.5 104.5l6.5 1.5l0 7l-8-.5zM208.5 113.5l7.5 0l1.5 7.5l-7-1zM216 113.5l6.5-2.5l1.5 8l-6.5 2zM222.5 111l6 1.5l2.5 9l-7-2.5zM228.5 112.5l8 .5l2 7l-7.5 1.5zM187.5 120.5l9.5-1.5l-2.5 6.5l-7.5 2zM210.5 120l7 1l-2.5 4.5l-5.5 1zM224 119l7 2.5l-1 4l-6.5 1.5zM231 121.5l7.5-1.5l-1.5 6l-7-.5zM244 122l6-2.5l0 8l-5.5-1zM187 127.5l7.5-2l0 9.5l-5.5-2.5zM209.5 126.5l5.5-1l2.5 8l-7.5-1zM215 125.5l8.5 1.5l-1 7.5l-5-1zM230 125.5l7 .5l1.5 8l-9 .5zM237 126l7.5 .5l-1 6.5l-5 1zM189 132.5l5.5 2.5l-1 4.5l-7 2.5zM194.5 135l6-1.5l1 7.5l-8-1.5zM229.5 134.5l9-.5l-2 6l-7.5 2zM238.5 134l5-1l.5 10l-7.5-3zM186.5 142l7-2.5l2 9l-7.5-2zM193.5 139.5l8 1.5l-.5 8l-5.5-.5zM201.5 141l8.5-1.5l-.5 7.5l-8.5 2zM210 139.5l7 .5l-1 7.5l-6.5-.5zM217 140l6 0l1.5 6.5l-8.5 1zM223 140l6 2l3 6l-7.5-1.5zM229 142l7.5-2l-.5 9.5l-4-1.5zM236.5 140l7.5 3l-1.5 4.5l-6.5 2zM244 143l6-3l0 9l-7.5-1.5zM188 146.5l7.5 2l.5 5.5l-9.5 2.5zM216 147.5l8.5-1l-3 7.5l-4.5 2.5zM232 148l4 1.5l2 7.5l-7.5-.5zM196 154l6-1l-.5 11l-5.5-1zM221.5 154l9 2.5l-.5 4.5l-7 2zM196 163l5.5 1l-1.5 5.5l-4-2zM201.5 164l7-1.5l.5 6l-9 1zM216 162.5l7 .5l-.5 5l-7 0zM223 163l7-2l1.5 10l-9-3zM238.5 162.5l5.5 0l1.5 8l-7.5-.5zM244 162.5l6-.5l0 8.5l-4.5 0zM166 170l9.5 0l-3 4l-6 1.5zM187 171l9-3.5l-1 6.5l-6 3zM209 168.5l6.5-.5l2.5 6.5l-8.5 3zM215.5 168l7 0l1 7l-5.5-.5zM231.5 171l6.5-1l0 7l-10 0zM245.5 170.5l4.5 0l0 5.5l-7 0zM218 174.5l5.5 .5l-.5 7l-5.5 1.5zM223.5 175l4.5 2l1.5 4l-6.5 1zM228 177l10 0l-2.5 7l-6-3zM196.5 184.5l6-2l-1.5 8l-4.5-2.5zM202.5 182.5l6 1l.5 8.5l-8-1.5zM223 182l6.5-1l-1 7.5l-4 .5zM246 183l4-.5l0 9l-7-.5zM209 192l5.5-.5l0 6l-6 .5zM214.5 191.5l10-2.5l-2.5 7l-7.5 1.5zM228.5 188.5l7.5 .5l2.5 6l-7.5 1zM236 189l7 2l-.5 4.5l-4-.5zM243 191l7 .5l0 7.5l-7.5-3.5zM202.5 196.5l6 1.5l-.5 5l-6 1zM208.5 198l6-.5l0 8.5l-6.5-3zM231 196l7.5-1l-1.5 8.5l-9-.5zM238.5 195l4 .5l1.5 7.5l-7 .5zM202 204l6-1l2 8.5l-7-2.5zM228 203l9 .5l1 8l-7-.5zM244 203l6 2l0 5.5l-5 1.5zM203 209l7 2.5l-2 5l-7.5 .5zM210 211.5l5.5 1l-1 6l-6.5-2zM215.5 212.5l8-.5l-.5 4.5l-8.5 2zM238 211.5l7 .5l-1.5 7l-5 .5zM200.5 217l7.5-.5l2.5 8l-9.5 1.5zM214.5 218.5l8.5-2l1 7.5l-9.5-1zM223 216.5l7.5 1.5l-1.5 5l-5 1zM238.5 219.5l5-.5l1 7l-7-2.5zM244.5 226l5.5 0l0 5l-6 .5zM193.5 232l8 1.5l0 4.5l-7.5 2zM216.5 240.5l8.5-2l-2.5 9l-5.5-1.5zM225 238.5l4 1l.5 6.5l-7 1.5zM222.5 247.5l7-1.5l1 6.5l-5.5 0zM236.5 245l9.5 2.5l-3.5 4l-4.5 2.5zM214.5 253l10.5-.5l-3.5 8.5l-6.5-1zM230.5 252.5l7.5 1.5l1 6.5l-9.5 1zM238 254l4.5-2.5l.5 9.5l-4-.5zM242.5 251.5l7.5 2l0 7l-7 .5zM201.5 259.5l6.5 1.5l-.5 5l-4 2zM215 260l6.5 1l2.5 5.5l-8.5 .5zM229.5 261.5l9.5-1l-3.5 7.5l-5-1.5zM207.5 266l8 1l-.5 8l-4.5-3zM215.5 267l8.5-.5l0 7l-9 1.5zM230.5 266.5l5 1.5l0 7.5l-5.5-1.5zM235.5 275.5l8-1l1.5 6l-7 1.5zM216 297l8-4l-1 8.5l-7-1zM238.5 295.5l6-2.5l.5 7.5l-8 1zM235.5 317l6.5-2.5l1.5 8.5l-7.5 .5zM242 314.5l8 2.5l0 4l-6.5 2zM218 325l6.5 0l0 4.5l-7 2zM229 323.5l7 0l2 7.5l-9.5 1zM228.5 332l9.5-1l-1 5.5l-8-1zM242.5 332l7.5-2.5l0 8.5l-4.5-1zM236 343l8.5 .5l1.5 6l-8.5 2z" fill="#d64d40" stroke="#9c5851" stroke-width="0.6"/><path d="M29 34.5l14.5 2.5l.5 7l-16.5 .5zM43.5 37l8 1l3 11.5l-10.5-5.5zM27.5 44.5l16.5-.5l-2 14l-11.5-1.5zM30.5 56.5l11.5 1.5l.5 10l-12 0zM42 58l9.5 .5l-.5 8.5l-8.5 1zM72 80l15.5-1.5l.5 15l-14-2zM141.5 79.5l8.5 1l4 10.5l-15 3zM16.5 103.5l16-3.5l-4.5 15.5l-9.5-.5zM18.5 115l9.5 .5l4 7l-13.5 4.5zM18.5 127l13.5-4.5l-4 14l-7-4.5zM160 63l7.5 1l0 6.5l-7.5 1zM243 64l7 1.5l0 4.5l-6-1zM229 76.5l7 1.5l-.5 8l-5.5-1zM230 85l5.5 1l.5 7.5l-5.5-.5zM243 91l7 1l0 6.5l-5.5-.5zM222.5 105.5l6-.5l0 7.5l-6-1.5zM238.5 106l5-1.5l-1.5 8l-5.5 .5zM236.5 113l5.5-.5l2 9.5l-5.5-2zM244.5 126.5l5.5 1l0 6l-6.5-.5zM243.5 133l6.5 .5l0 6.5l-6 3zM242.5 147.5l7.5 1.5l0 6l-5.5 1zM202 153l6.5 .5l0 9l-7 1.5zM208.5 153.5l8.5 3l-1 6l-7.5 0zM238 170l7.5 .5l-2.5 5.5l-5 1zM208 203l6.5 3l1 6.5l-5.5-1zM243.5 219l6.5-.5l0 7.5l-5.5 0zM237.5 223.5l7 2.5l-.5 5.5l-6.5-1zM246 247.5l4 .5l0 5.5l-7.5-2zM232 308l4.5-1l-1 10l-7 0z" fill="#b0121b" stroke="#9c5851" stroke-width="0.6"/><path d="M275.5 71.5l6 .5l-2 5l-5 1zM250 294.5l7 0l-1.5 5.5l-5.5 1zM262.5 295l6.5-2l0 6l-6 0zM269 293l6.5 2.5l-1.5 5l-5-1.5zM279 295l8.5-1.5l-2 6.5l-5.5-1zM250 307l5-1.5l2.5 6l-7.5 2zM255 305.5l6.5-.5l.5 5.5l-4.5 1zM274 305l6.5 2.5l0 4.5l-7 0zM250 318l7-.5l-2 5l-5 3zM250 325.5l5-3l2.5 8.5l-7.5-1.5zM464.5 92l6.5-1l.5 3.5l-7 1zM450 96l5.5-1l0 5.5l-6 .5zM455.5 100.5l5.5 1.5l-1 2.5l-5 1zM465.5 101.5l4.5-1.5l1.5 7l-5.5-2zM429 106l7-.5l-2.5 5.5l-4.5 0zM455 105.5l5-1l.5 5.5l-6.5 2.5zM460 104.5l6 .5l-1.5 5l-4 0zM460.5 110l4 0l-.5 5.5l-4 1zM429.5 116l5.5 .5l.5 4l-4.5 1zM441.5 115l2.5 0l1.5 5l-6 2.5zM450.5 116l4-1.5l1 5.5l-4.5-.5zM409 122.5l5-2.5l.5 7.5l-6-.5zM414 120l5.5 1.5l0 3l-5 3zM419.5 121.5l4.5-1.5l.5 7l-5-2.5zM424 120l7 1.5l0 3.5l-6.5 2zM431 121.5l4.5-1l.5 6l-5-1.5zM435.5 120.5l4 2l0 4l-3.5 0zM445.5 120l5.5-.5l-2 6l-3 .5zM469.5 121.5l5.5 1l0 2l-5 2.5zM408.5 127l6 .5l0 4.5l-5-1zM414.5 127.5l5-3l.5 5.5l-5.5 2zM419.5 124.5l5 2.5l1 3.5l-5.5-.5zM431 125l5 1.5l-1.5 3.5l-4.5 1zM439.5 126.5l6.5-.5l-.5 4.5l-4.5-1zM449 125.5l5-.5l0 5.5l-5.5-.5zM489 126l7-1l-2 7l-4-1.5zM450.5 175l6 .5l-.5 5.5l-7-.5zM456.5 175.5l3.5 2l.5 3.5l-4.5 0zM434.5 191l5-.5l1 6l-4.5 .5zM456 197l5.5-1.5l-.5 6.5l-6-.5zM435 200l5 1.5l-1 3.5l-4 2zM450.5 201.5l4.5 0l.5 4.5l-5.5-.5zM414.5 206l5-1.5l0 5l-4 1zM419.5 204.5l5 2.5l2 3.5l-7-1zM445 207l5-1.5l0 5.5l-5 0zM426.5 210.5l2.5 0l1 6.5l-4.5-2zM434 211l6 0l.5 4.5l-6 1zM440 211l5 0l-.5 5.5l-4-1zM421 217.5l4.5-2.5l-.5 5l-4.5 1zM425.5 215l4.5 2l.5 3l-5.5 0zM430 217l4.5-.5l-.5 3l-3.5 .5zM425 220l5.5 0l-1 7l-4-2zM434 219.5l5.5 3l1.5 2.5l-7 1zM380 227l6-.5l-.5 3.5l-6 1.5zM404 226.5l7-1l-2.5 6l-5-1.5zM441 225l4-.5l1 5l-5 1zM321 231l5 1l-2 4.5l-3-.5zM326 232l3-2l0 7l-5-.5zM373.5 232l6-.5l1 5.5l-6.5-1.5zM379.5 231.5l6-1.5l-1 6.5l-4 .5zM399.5 229.5l4 .5l2.5 5l-7 2zM416 230l4 1.5l1 4l-7.5 .5zM425 229.5l3.5 2l2 4l-4 1zM315 235.5l6 .5l-1.5 5.5l-4.5 0zM321 236l3 .5l1 4l-5.5 1zM324 236.5l5 .5l1 2.5l-5 1zM329 237l5.5-2l-1 7l-3.5-2.5zM380.5 237l4-.5l-.5 3.5l-4.5 .5zM384.5 236.5l4.5-.5l0 6l-5-2zM389 236l7-.5l-2 5.5l-5 1zM396 235.5l3 1.5l2 5l-7-1zM430.5 235.5l3.5 1l2 3l-7.5 1zM384 240l5 2l.5 2.5l-4.5 .5zM401 242l4.5 0l0 4l-6-.5zM419 241l5.5-1l1.5 6l-7.5-.5zM399.5 245.5l6 .5l-.5 4.5l-4-1zM315 251l6.5-1l-.5 6.5l-5-.5zM326.5 251.5l2.5 .5l-.5 4l-3.5-1zM380 251l4.5-1l-.5 5l-3.5 0zM384.5 250l6 1.5l0 4.5l-6.5-1zM390.5 251.5l4-1l0 6.5l-4-1zM328.5 256l6.5-1l1 6.5l-6-1.5zM359 254.5l5 1l2 4l-5 3zM384 255l6.5 1l.5 5.5l-6-1zM390.5 256l4 1l1 3l-4.5 1.5zM400 255.5l4 1.5l1 4.5l-4.5 0zM404 257l5 0l.5 3l-4.5 1.5zM320.5 261l4-.5l-.5 5l-3.5-1zM330 260l6 1.5l-2.5 4l-2 .5zM409.5 260l7 2.5l-1 4l-5-.5zM320.5 264.5l3.5 1l.5 5.5l-4 1zM324 265.5l7.5 .5l-2.5 5.5l-4.5-.5zM331.5 266l2-.5l2.5 5.5l-7 .5zM370 266l5 .5l1.5 5l-7.5-1zM391 267l3-2.5l1.5 7l-6-.5zM405 265.5l5.5 .5l.5 5l-6.5-1zM300 270l4.5 1.5l1 3.5l-5.5 0zM336 271l4 0l1 6l-7 .5zM384.5 270l5 1l-.5 5.5l-4.5-2zM389.5 271l6 .5l-1.5 4l-5 1zM360.5 276.5l5 0l0 3.5l-4.5 .5zM400.5 275l5 1l-1 6.5l-4.5-2zM405.5 276l4.5 .5l1 3.5l-6.5 2.5zM410 276.5l6.5-1l-1.5 4l-4 .5zM416.5 275.5l4 0l.5 6l-6-2zM331 281.5l3-1.5l1.5 7.5l-7-2.5zM339 282.5l6.5-2l-1.5 5.5l-4 0zM396 279.5l4 1l1 6.5l-5.5 0zM385 285l4.5 0l1 6.5l-5 1zM346 291l3.5-1.5l-.5 5.5l-4 0zM419.5 322.5l5-2.5l1.5 5.5l-5-.5zM429 321l7-1.5l-1 5.5l-5 .5zM436 319.5l3.5 1l2 6.5l-6.5-2zM426 325.5l4 0l-1 5.5l-5 0zM435.5 335.5l3.5 1l.5 5l-3.5-2zM416 345.5l3 1.5l2 3l-7 2z" fill="#fbdcd7" stroke="#b94c42" stroke-width="0.75"/><path d="M268 70.5l7.5 1l-1 6.5l-6.5-1.5zM268 76.5l6.5 1.5l-.5 5l-6.5 2zM250 89l6 1l-1 6l-5-.5zM256 90l7 1l-2 4l-6 1zM269 91l6-2.5l-2 7l-5 .5zM250 95.5l5 .5l-.5 5.5l-4.5 1zM273 101l8 1l-1.5 6.5l-7-.5zM281 102l5 .5l-.5 6.5l-6-.5zM279.5 108.5l6 .5l.5 3.5l-6 1.5zM266.5 125.5l7.5 1l-.5 5.5l-6.5 1zM281 124.5l4.5 3l.5 5.5l-4.5-2.5zM255 133l8.5-1.5l-3 6l-3.5 2zM292 138.5l7-1l0 5l-5.5 2zM257 143l4 1l1.5 6.5l-6.5 0zM250 149.5l6 1l.5 4.5l-6.5 .5zM256 150.5l6.5 0l-2 5.5l-4-1zM290.5 151.5l7.5-1.5l-1 4.5l-5 .5zM250 155.5l6.5-.5l1 7l-7.5-1.5zM256.5 155l4 1l0 6l-3 0zM260.5 156l8 .5l0 4l-8 1.5zM292 155l5-.5l2.5 9l-6.5-1zM268.5 160.5l5 1l.5 7.5l-7-1zM255.5 172.5l7.5 .5l-1.5 8l-5-2zM274.5 173l5.5 2.5l.5 5.5l-5 .5zM256.5 179l5 2l-1 5l-5.5-.5zM298 179l2 1l0 7.5l-1.5-1.5zM250 187.5l5-2l1.5 6l-6.5 1zM255 185.5l5.5 .5l1.5 6.5l-5.5-1zM274 187.5l6.5 0l0 3.5l-6 .5zM285 192l6-1.5l-.5 7.5l-3.5 .5zM267 197l5.5-.5l2 8l-8-2zM286 203l7 .5l.5 7l-9-1.5zM250 223.5l6.5-3l-2 9l-4.5-1.5zM268.5 221l6 1.5l-.5 6l-5.5 1zM279 222.5l7 0l0 6l-7.5-1.5zM254.5 229.5l6-3l3 8.5l-9-.5zM274 228.5l4.5-1.5l.5 7l-5-1.5zM286 228.5l7-1.5l.5 7.5l-8 .5zM254.5 234.5l9 .5l0 4.5l-7.5-1zM285.5 235l8-.5l-2.5 6.5l-5 .5zM293.5 234.5l6 1l-1.5 6l-7-.5zM274.5 240.5l6-1.5l0 7.5l-6.5 1zM291 241l7 .5l0 5l-7-1zM298 241.5l2-1l0 4l-2 2zM250 246.5l7-2l.5 8.5l-7.5 0zM257 244.5l6.5 .5l-.5 8.5l-5.5-.5zM274 247.5l6.5-1l.5 7l-7-2.5zM263 253.5l6-1l.5 5l-8.5-1zM269 252.5l5-1.5l0 6.5l-4.5 0zM274 251l7 2.5l-1.5 6l-5.5-2zM281 253.5l6-1l-1 4.5l-6.5 2.5zM287 252.5l4.5-1l0 5.5l-5.5 0zM250 258.5l6-.5l-1.5 6.5l-4.5-1zM256 258l5-1.5l-.5 6l-6 2zM274 257.5l5.5 2l.5 4.5l-7 1.5zM291.5 257l7 .5l0 6l-7-1zM298.5 257.5l1.5-.5l0 8l-1.5-1.5zM254.5 264.5l6-2l2.5 8l-8.5-.5zM280 264l4.5 .5l.5 6l-6-2zM250 268.5l4.5 1.5l3 6.5l-7.5 .5zM267 270.5l6 0l0 5.5l-5.5-1.5zM273 270.5l6-2l1.5 6l-7.5 1.5zM293 269.5l5.5-.5l-.5 7l-5.5 0zM250 277l7.5-.5l-3 6l-4.5 0zM257.5 276.5l4.5-2l.5 6.5l-8 1.5zM262 274.5l5.5 0l-1 8l-4-1.5zM273 276l7.5-1.5l-2 6l-3 0zM292.5 276l5.5 0l0 4.5l-4.5 3zM275.5 280.5l3 0l1.5 6.5l-5-.5zM250 289.5l6.5-2l.5 7l-7 0zM267 286.5l8 0l.5 9l-6.5-2.5zM257 294.5l5.5 .5l.5 4l-7.5 1zM275.5 295.5l3.5-.5l1 4l-6 1.5zM250 301l5.5-1l-.5 5.5l-5 1.5zM255.5 300l7.5-1l-1.5 6l-6.5 .5zM263 299l6 0l-1.5 8.5l-6-2.5zM269 299l5 1.5l0 4.5l-6.5 2.5zM261.5 305l6 2.5l1.5 5.5l-7-2.5zM267.5 307.5l6.5-2.5l-.5 7l-4.5 1zM257 317.5l6 1l0 5.5l-8-1.5zM250 341.5l4.5-.5l0 7.5l-4.5-1zM315.5 75l5.5 .5l0 6.5l-5.5 0zM321 75.5l3.5 0l1.5 6.5l-5 0zM473.5 74.5l6 .5l.5 7.5l-5.5-1.5zM485.5 75.5l3.5-.5l0 4.5l-4 1zM340 81l5.5 0l-1 4.5l-5 1.5zM305 85l4 2l1 4l-6 .5zM309 87l5-2.5l1.5 7.5l-5.5-1zM339.5 87l5-1.5l.5 5l-6 1.5zM344.5 85.5l5 .5l1 4.5l-5.5 0zM465.5 85.5l4-.5l1.5 6l-6.5 1zM469.5 85l6 0l-1.5 4.5l-3 1.5zM481.5 87l4.5-1l-2 6l-3.5-2.5zM304 91.5l6-.5l-.5 6l-4.5-1.5zM315.5 92l4.5-2l1 5.5l-6 .5zM339 92l6-1.5l0 4l-4.5 2zM449 92l6-1.5l.5 4.5l-5.5 1zM455 90.5l4 0l0 5.5l-3.5-1zM459 90.5l5.5 1.5l0 3.5l-5.5 .5zM474 89.5l6.5 0l-.5 8l-6.5-2.5zM480.5 89.5l3.5 2.5l1 4.5l-5 1zM491 91.5l3.5-1l1.5 6l-6-2zM500 91l4-.5l1 6l-5.5-2zM321 95.5l5-.5l-.5 5.5l-5-.5zM335 95l5.5 1.5l-1.5 3.5l-4.5 1zM439 97.5l7-1.5l0 4.5l-5-1zM446 96l4 0l-.5 5l-3.5-.5zM455.5 95l3.5 1l2 6l-5.5-1.5zM459 96l5.5-.5l1 6l-4.5 .5zM464.5 95.5l7-1l-1.5 5.5l-4.5 1.5zM473.5 95l6.5 2.5l0 4l-4-.5zM480 97.5l5-1l1 3.5l-6 1.5zM309 101.5l5.5-.5l1.5 5.5l-7-.5zM314.5 101l6-1l1 7.5l-5.5-1zM446 100.5l3.5 .5l0 3.5l-5 2zM449.5 101l6-.5l-.5 5l-5.5-1zM461 102l4.5-.5l.5 3.5l-6-.5zM470 100l6 1l-1.5 4l-3 2zM486 100l5 1l-2.5 5.5l-4-1zM309 106l7 .5l-.5 4.5l-6 1.5zM436 105.5l4 1l-1.5 5.5l-5-1zM444.5 106.5l5-2l.5 7.5l-4.5-1zM449.5 104.5l5.5 1l-1 7l-4-.5zM466 105l5.5 2l-2.5 3.5l-4.5-.5zM474.5 105l6 1l0 5l-5.5-.5zM484.5 105.5l4 1l2.5 3.5l-6.5-.5zM315.5 111l5-1l0 6l-4.5 1zM324.5 112l6.5-1l-2.5 5.5l-4.5 0zM334 111l5.5 .5l1 5.5l-5.5-2zM339.5 111.5l6.5 .5l0 4l-5.5 1zM429 111l4.5 0l1.5 5.5l-5.5-.5zM433.5 111l5 1l3 3l-6.5 1.5zM438.5 112l7-1l-1.5 4l-2.5 0zM445.5 111l4.5 1l.5 4l-6.5-1zM450 112l4 .5l.5 2l-4 1.5zM454 112.5l6.5-2.5l-.5 6.5l-5.5-2zM464.5 110l4.5 .5l2.5 6l-7.5-1zM469 110.5l6 0l-1 5.5l-2.5 .5zM475 110.5l5.5 .5l-.5 6.5l-6-1.5zM484.5 109.5l6.5 .5l-.5 6l-6 .5zM328.5 116.5l6.5-1.5l.5 6l-6.5-.5zM416 117l3 .5l.5 4l-5.5-1.5zM419 117.5l5-2l0 4.5l-4.5 1.5zM424 115.5l5.5 .5l1.5 5.5l-7-1.5zM435 116.5l6.5-1.5l-2 7.5l-4-2zM444 115l6.5 1l.5 3.5l-5.5 .5zM464 115.5l7.5 1l-2 5l-3.5 .5zM471.5 116.5l2.5-.5l1 6.5l-5.5-1zM474 116l6 1.5l-.5 4l-4.5 1zM325 119.5l4 1l2 4.5l-6.5 .5zM335.5 121l3.5-1l0 6.5l-2.5 1zM439.5 122.5l6-2.5l.5 6l-6.5 .5zM451 119.5l4.5 .5l-1.5 5l-5 .5zM461.5 121l4.5 1l-2 4.5l-4.5-1.5zM466 122l3.5-.5l.5 5.5l-6-.5zM479.5 121.5l7 .5l-.5 3l-4.5 .5zM486.5 122l2-1.5l.5 5.5l-3-1zM424.5 127l6.5-2l-1 6l-4.5-.5zM436 126.5l3.5 0l1.5 3l-6.5 .5zM454 125l5.5 0l1 5.5l-6.5 0zM459.5 125l4.5 1.5l0 4.5l-3.5-.5zM470 127l5-2.5l-1 7l-5-.5zM475 124.5l6.5 1l-2.5 4l-5 2zM486 125l3 1l1 4.5l-6 1zM420 130l5.5 .5l-1.5 5.5l-3-1zM425.5 130.5l4.5 .5l.5 6l-6.5-1zM434.5 130l6.5-.5l-1 6l-5 1.5zM441 129.5l4.5 1l.5 5l-6 0zM445.5 130.5l3-.5l2.5 6l-5-.5zM448.5 130l5.5 .5l.5 5l-3.5 .5zM454 130.5l6.5 0l-1 5.5l-5-.5zM460.5 130.5l3.5 .5l0 4.5l-4.5 .5zM464 131l5 0l2 3.5l-7 1zM469 131l5 .5l1 5l-4-2zM490 130.5l4 1.5l-.5 5l-3 0zM414.5 136.5l6.5-1.5l-2.5 6l-2.5 1.5zM421 135l3 1l.5 5.5l-6-.5zM446 135.5l5 .5l-.5 4l-4 0zM451 136l3.5-.5l1.5 5l-5.5-.5zM459.5 136l4.5-.5l2 6l-5.5 0zM464 135.5l7-1l-1.5 6.5l-3.5 .5zM479 135l7.5-.5l-1.5 6l-5-1zM436 141l5-1l-.5 4.5l-5.5 1.5zM466 141.5l3.5-.5l1 6l-5.5 0zM354.5 145.5l5 1l-.5 3.5l-5.5 1.5zM410 147l5-.5l-1 5.5l-3.5 0zM435 146l5.5-1.5l0 6.5l-5-1.5zM451 147l5-.5l0 4.5l-6.5-1zM300 150l6 1l.5 3.5l-6.5 .5zM430.5 151l5-1.5l0 6.5l-4 1zM435.5 149.5l5 1.5l.5 6.5l-5.5-1.5zM449.5 150l6.5 1l-1.5 5l-5-.5zM414 155l7 2l-.5 2.5l-4.5 1.5zM421 157l5-.5l-1.5 5.5l-4-2.5zM441 157.5l4.5-1.5l0 4.5l-4.5 1zM460.5 156.5l5-1.5l-.5 6l-5.5-.5zM424.5 162l5.5 0l1 4l-7 1.5zM456.5 160l3 .5l1.5 5l-5.5 1.5zM439.5 166.5l5 0l-.5 4l-4 1zM309 170.5l6 0l0 5l-5 .5zM416 171.5l5-1l-1.5 4.5l-3.5 .5zM425.5 170l4 1.5l1.5 5l-7 .5zM429.5 171.5l7-1l-1 5l-4.5 1zM444 170.5l6.5 1.5l0 3l-6.5 0zM450.5 172l4.5-2l1.5 5.5l-6-.5zM455 170l6 .5l-1 7l-3.5-2zM404 176l5.5-.5l1 5.5l-5.5 1zM416 175.5l3.5-.5l1 5l-5.5 1zM431 176.5l4.5-1l.5 6l-5.5-1.5zM435.5 175.5l6 1l-2.5 4.5l-3 .5zM441.5 176.5l2.5-1.5l.5 4.5l-5.5 1.5zM444 175l6.5 0l-1.5 5.5l-4.5-1zM400.5 181.5l4.5 .5l1 4l-7-1zM410.5 181l4.5 0l-1 3.5l-3 1zM420.5 180l5.5 0l-.5 7l-5.5-.5zM439 181l5.5-1.5l.5 6.5l-5 1zM444.5 179.5l4.5 1l0 5l-4 .5zM456 181l4.5 0l-2 4.5l-4.5 .5zM300 187l4.5 0l-.5 3l-4 2zM411 185.5l3-1l1.5 6l-4.5 1.5zM414 184.5l6 2l-.5 3.5l-4 .5zM420 186.5l5.5 .5l0 5l-6-2zM430.5 186.5l3.5-1.5l.5 6l-4 0zM440 187l5-1l.5 6.5l-6-2zM449 185.5l5 .5l.5 4.5l-4 1zM454 186l4.5-.5l.5 5.5l-4.5-.5zM310.5 190l3 1.5l.5 5.5l-4-2zM400 191.5l5 .5l0 3l-5 1zM411 192l4.5-1.5l.5 6l-6.5 .5zM419.5 190l6 2l.5 3l-6 0zM430.5 191l4 0l1.5 6l-7.5-1.5zM439.5 190.5l6 2l0 4l-5 0zM445.5 192.5l5-1l-.5 4.5l-4.5 .5zM454.5 190.5l4.5 .5l2.5 4.5l-5.5 1.5zM394 197l6-1l-1 6.5l-3.5-1.5zM420 195l6 0l-2 7l-3.5 0zM426 195l2.5 .5l2 4.5l-6.5 2zM436 197l4.5-.5l-.5 5l-5-1.5zM440.5 196.5l5 0l.5 6l-6-1zM450 196l6 1l-1 4.5l-4.5 0zM411 200l4.5 1l-1 5l-4.5 1zM415.5 201l5 1l-1 2.5l-5 1.5zM440 201.5l6 1l-1 4.5l-6-2zM410 207l4.5-1l1 4.5l-6.5 1.5zM429.5 205.5l5.5 1.5l-1 4l-5-.5zM435 207l4-2l1 6l-6 0zM439 205l6 2l0 4l-5 0zM395 210l6 2.5l-1.5 3.5l-3 1zM401 212.5l4.5-2.5l-1 4.5l-5 1.5zM409 212l6.5-1.5l-.5 4.5l-5.5 2zM415.5 210.5l4-1l1.5 8l-6-2.5zM419.5 209.5l7 1l-1 4.5l-4.5 2.5zM429 210.5l5 .5l.5 5.5l-4.5 .5zM445 211l5 0l-1 5l-4.5 .5zM455.5 211.5l5-1.5l-1.5 6.5l-2.5 .5zM330 215l6.5 1l-2 4.5l-5.5 1zM399.5 216l5-1.5l1 7l-4.5-.5zM404.5 214.5l5 2.5l0 5l-4-.5zM409.5 217l5.5-2l.5 6l-6 1zM415 215l6 2.5l-.5 3.5l-5 0zM434.5 216.5l6-1l-1 7l-5.5-3zM440.5 215.5l4 1l0 4l-5 2zM444.5 216.5l4.5-.5l1 5.5l-5.5-1zM459 216.5l4.5-.5l.5 5.5l-3-1zM305 222.5l6-1.5l0 4l-5 1zM320 222l4.5-1l.5 5l-5.5 0zM324.5 221l4.5 .5l.5 5l-4.5-.5zM334.5 220.5l5 0l-.5 6l-4.5-1.5zM368.5 222l5.5-2.5l1 6l-4 1.5zM381.5 220.5l4.5-1l0 7l-6 .5zM405.5 221.5l4 .5l1.5 3.5l-7 1zM409.5 222l6-1l-1.5 5.5l-3-1zM415.5 221l5 0l-.5 4.5l-6 1zM439.5 222.5l5-2l.5 4l-4 .5zM444.5 220.5l5.5 1l-.5 6l-4.5-3zM450 221.5l6-2l-1 5.5l-5.5 2.5zM300 226l6 0l-.5 5l-5.5 0zM325 226l4.5 .5l-.5 3.5l-3 2zM334.5 225l4.5 1.5l.5 5.5l-5-.5zM375 225.5l5 1.5l-.5 4.5l-6 .5zM394 225.5l5-.5l.5 4.5l-5.5 2zM399 225l5 1.5l-.5 3.5l-4-.5zM411 225.5l3 1l2 3.5l-7.5 1.5zM414 226.5l6-1l0 6l-4-1.5zM425.5 225l4 2l-1 4.5l-3.5-2zM434 226l7-1l0 5.5l-6 1.5zM445 224.5l4.5 3l1 4l-4.5-2zM449.5 227.5l5.5-2.5l-.5 5l-4 1.5zM305.5 231l4 .5l1.5 4.5l-5 1zM309.5 231.5l6-1l-.5 5l-4 .5zM315.5 230.5l5.5 .5l0 5l-6-.5zM329 230l5.5 1.5l0 3.5l-5.5 2zM334.5 231.5l5 .5l-1 4.5l-4-1.5zM360.5 231.5l5.5-1l-1 6l-3.5 .5zM370 230l3.5 2l.5 3.5l-3.5 .5zM385.5 230l3.5 0l0 6l-4.5 .5zM389 230l5 1.5l2 4l-7 .5zM403.5 230l5 1.5l1.5 4l-4-.5zM408.5 231.5l7.5-1.5l-2.5 6l-3.5-.5zM420 231.5l5-2l1.5 7l-5.5-1zM435 232l6-1.5l-2.5 6.5l-4.5-.5zM441 230.5l5-1l-2 7.5l-5.5 0zM446 229.5l4.5 2l-.5 3.5l-6 2zM334.5 235l4 1.5l.5 5.5l-5.5 0zM338.5 236.5l7.5 .5l-2.5 2.5l-4.5 2.5zM370.5 236l3.5-.5l2 6l-6 0zM374 235.5l6.5 1.5l-1 3.5l-3.5 1zM406 235l4 .5l1 5.5l-5.5 1zM410 235.5l3.5 .5l3 4l-5.5 1zM413.5 236l7.5-.5l-2 5.5l-2.5-1zM426.5 236.5l4-1l-2 5l-4-.5zM434 236.5l4.5 .5l1.5 5l-4-2.5zM438.5 237l5.5 0l2 2.5l-6 2.5zM300 241l4 1l1.5 3.5l-5.5 1zM311 241.5l4 0l1 4l-6 1zM315 241.5l4.5 0l1 4l-4.5 0zM319.5 241.5l5.5-1l-1 6.5l-3.5-1.5zM325 240.5l5-1l-.5 7l-5.5 .5zM330 239.5l3.5 2.5l1 3.5l-5 1zM339 242l4.5-2.5l3 6.5l-5.5-.5zM343.5 239.5l7.5 .5l-.5 6.5l-4-.5zM356 241l5-1l-1 6l-6.5 .5zM361 240l4 1.5l-.5 5.5l-4.5-1zM370 241.5l6 0l-2 6l-5-2zM376 241.5l3.5-1l.5 5.5l-6 1.5zM379.5 240.5l4.5-.5l1 5l-5 1zM394 241l7 1l-1.5 3.5l-5 1zM405.5 242l5.5-1l-1 4l-4.5 1zM411 241l5.5-1l-.5 6.5l-6-1.5zM416.5 240l2.5 1l-.5 4.5l-2.5 1zM428.5 240.5l7.5-1l-1 5.5l-5.5 1.5zM436 239.5l4 2.5l0 2.5l-5 .5zM310 246.5l6-1l-1 5.5l-5-1zM316 245.5l4.5 0l1 4.5l-6.5 1zM320.5 245.5l3.5 1.5l2.5 4.5l-5-1.5zM324 247l5.5-.5l-.5 5.5l-2.5-.5zM329.5 246.5l5-1l1.5 7l-7-.5zM334.5 245.5l6.5 0l-2 4.5l-3 2.5zM341 245.5l5.5 .5l-.5 6l-7-2zM346.5 246l4 .5l.5 6l-5-.5zM350.5 246.5l3 0l1.5 6l-4 0zM353.5 246.5l6.5-.5l1 6l-6 .5zM364.5 247l4.5-1.5l1.5 6.5l-6-1zM369 245.5l5 2l1 4.5l-4.5 0zM385 245l4.5-.5l1 7l-6-1.5zM394.5 246.5l5-1l1.5 4l-6.5 1zM405.5 246l4.5-1l.5 6l-5.5-.5zM410 245l6 1.5l-.5 3l-5 1.5zM416 246.5l2.5-1l1.5 6.5l-4.5-2.5zM418.5 245.5l7.5 .5l-1 3.5l-5 2.5zM426 246l3.5 .5l-.5 3.5l-4-.5zM429.5 246.5l5.5-1.5l-.5 5.5l-5.5-.5zM321.5 250l5 1.5l-1.5 3.5l-4 1.5zM329 252l7 .5l-1 2.5l-6.5 1zM336 252.5l3-2.5l0 7.5l-4-2.5zM346 252l5 .5l-.5 4l-6-2zM351 252.5l4 0l0 3.5l-4.5 .5zM355 252.5l6-.5l-2 2.5l-4 1.5zM361 252l3.5-1l-.5 4.5l-5-1zM375 252l5-1l.5 4l-5.5 1.5zM394.5 250.5l6.5-1l-1 6l-5.5 1.5zM401 249.5l4 1l-1 6.5l-4-1.5zM405 250.5l5.5 .5l-1.5 6l-5 0zM420 252l5-2.5l-.5 6.5l-4.5 1.5zM425 249.5l4 .5l1.5 4.5l-6 1.5zM305.5 256l5.5 1l0 3.5l-5.5 1.5zM311 257l5-1l0 6l-5-1.5zM321 256.5l4-1.5l-.5 5.5l-4 .5zM325 255l3.5 1l1.5 4l-5.5 .5zM335 255l4 2.5l2 2l-5 2zM339 257.5l5.5-3l1.5 7.5l-5-2.5zM350.5 256.5l4.5-.5l1 6l-6-1zM355 256l4-1.5l2 8l-5-.5zM364 255.5l7.5 1.5l-2 4l-3.5-1.5zM371.5 257l3.5-.5l1.5 3.5l-7 1zM380.5 255l3.5 0l1 5.5l-6-.5zM394.5 257l5.5-1.5l.5 6l-5-1.5zM409 257l5.5-2.5l2 8l-7-2.5zM414.5 254.5l5.5 3l1 5l-4.5 0zM420 257.5l4.5-1.5l1.5 4l-5 2.5zM300 262l5.5 0l.5 4l-6 .5zM311 260.5l5 1.5l-1.5 3.5l-3.5-1zM316 262l4.5-1l0 3.5l-6 1zM324.5 260.5l5.5-.5l1.5 6l-7.5-.5zM336 261.5l5-2l-2.5 6.5l-5-.5zM341 259.5l5 2.5l-1.5 4.5l-6-.5zM350 261l6 1l0 4l-5.5-.5zM361 262.5l5-3l-2 6.5l-4.5 .5zM366 259.5l3.5 1.5l.5 5l-6 0zM369.5 261l7-1l-1.5 6.5l-5-.5zM376.5 260l2.5 0l1 5l-5 1.5zM379 260l6 .5l-1 4.5l-4 0zM385 260.5l6 1l0 5.5l-7-2zM391 261.5l4.5-1.5l-1.5 4.5l-3 2.5zM395.5 260l5 1.5l1 6l-7.5-3zM400.5 261.5l4.5 0l0 4l-3.5 2zM405 261.5l4.5-1.5l1 6l-5.5-.5zM416.5 262.5l4.5 0l0 3l-5.5 1zM306 266l5-1.5l-1 6l-5.5 1zM311 264.5l3.5 1l2 5.5l-6.5-.5zM314.5 265.5l6-1l0 7.5l-4-1zM333.5 265.5l5 .5l1.5 5l-4 0zM350.5 265.5l5.5 .5l-1 5.5l-4-.5zM359.5 266.5l4.5-.5l1.5 5.5l-6-1zM364 266l6 0l-1 4.5l-3.5 1zM375 266.5l5-1.5l1 5l-4.5 1.5zM380 265l4 0l.5 5l-3.5 0zM384 265l7 2l-1.5 4l-5-1zM394 264.5l7.5 3l-1 4.5l-5-.5zM401.5 267.5l3.5-2l-.5 4.5l-4 2zM410.5 266l5 .5l.5 3.5l-5 1zM415.5 266.5l5.5-1l-2 6l-3-1.5zM310 270.5l6.5 .5l-1.5 6l-5-1.5zM316.5 271l4 1l-1 4.5l-4.5 .5zM324.5 271l4.5 .5l-.5 5l-4.5-1.5zM329 271.5l7-.5l-2 6.5l-5.5-1zM340 271l3.5 1l2 5.5l-4.5-.5zM351 271l4 .5l1 4.5l-6 0zM359.5 270.5l6 1l0 5l-5 0zM365.5 271.5l3.5-1l2 5l-5.5 1zM376.5 271.5l4.5-1.5l-1 6.5l-5.5-1.5zM381 270l3.5 0l0 4.5l-4.5 2zM395.5 271.5l5 .5l0 3l-6.5 .5zM400.5 272l4-2l1 6l-5-1zM404.5 270l6.5 1l-1 5.5l-4.5-.5zM411 271l5-1l.5 5.5l-6.5 1zM305.5 275l4.5 .5l0 5.5l-5-.5zM310 275.5l5 1.5l.5 4l-5.5 0zM315 277l4.5-.5l1 4.5l-5 0zM319.5 276.5l4.5-1.5l2.5 6l-6 0zM324 275l4.5 1.5l2.5 5l-4.5-.5zM328.5 276.5l5.5 1l0 2.5l-3 1.5zM334 277.5l7-.5l-2 5.5l-5-2.5zM341 277l4.5 .5l0 3l-6.5 2zM345.5 277.5l4.5-1.5l.5 6l-5-1.5zM350 276l6 0l-.5 5l-5 1zM365.5 276.5l5.5-1l0 6.5l-5.5-2zM371 275.5l3.5-.5l.5 5l-4 2zM374.5 275l5.5 1.5l-.5 3.5l-4.5 0zM380 276.5l4.5-2l1 5.5l-6 0zM384.5 274.5l4.5 2l.5 4.5l-4-1zM394 275.5l6.5-.5l-.5 5.5l-4-1zM315.5 281l5 0l.5 5l-5.5-.5zM320.5 281l6 0l-2 5l-3.5 0zM334 280l5 2.5l1 3.5l-4.5 1.5zM345.5 280.5l5 1.5l.5 4.5l-7-.5zM350.5 282l5-1l-.5 4l-4 1.5zM355.5 281l5.5-.5l-1 5.5l-5-1zM379.5 280l6 0l-.5 5l-6 1.5zM400 280.5l4.5 2l0 3l-3.5 1.5zM411 280l4-.5l-1 7.5l-5-1zM415 279.5l6 2l0 3l-7 2.5zM328.5 285l7 2.5l0 2l-4.5 2.5zM335.5 287.5l4.5-1.5l-1 4.5l-3.5-1zM340 286l4 0l2 5l-7-.5zM351 286.5l4-1.5l-.5 5.5l-5-1zM374.5 287.5l4.5-1l.5 5.5l-5.5-2zM379 286.5l6-1.5l.5 7.5l-6-.5zM395.5 287l5.5 0l-2 4.5l-3.5-1zM404.5 285.5l4.5 .5l0 6l-5-1.5zM409 286l5 1l0 4l-5 1zM304.5 290.5l5-.5l0 5.5l-5 .5zM335.5 289.5l3.5 1l0 5l-5.5-.5zM339 290.5l7 .5l-1 4l-6 .5zM361.5 291l2 0l3 5l-5.5 1.5zM374 290l5.5 2l-.5 3.5l-3.5 .5zM379.5 292l6 .5l0 2.5l-6.5 .5zM385.5 292.5l5-1l-1 3.5l-4 0zM414 291l7 1l-1.5 5l-4-.5zM304.5 296l5-.5l.5 5.5l-4 .5zM315.5 297l5-2l-.5 7l-4.5 .5zM370.5 297.5l5-1.5l.5 4.5l-6.5 0zM424.5 297.5l6.5-2.5l-1 6.5l-5.5-.5zM315.5 302.5l4.5-.5l-1.5 5l-3-2zM405 301l4-.5l.5 5l-3.5 0zM415 301.5l4.5 .5l1.5 5l-5-2zM416 305l5 2l-2 3l-4.5 1zM421 307l5.5-1l-2 5l-5.5-1zM405.5 311l3.5-.5l1.5 4.5l-4 1.5zM409 310.5l5.5 .5l1 5l-5-1zM414.5 311l4.5-1l1 5.5l-4.5 .5zM399.5 316l7 .5l-.5 4l-7 .5zM415.5 316l4.5-.5l-.5 7l-6-2zM420 315.5l6.5 1.5l-2 3l-5 2.5zM426.5 317l4 0l-1.5 4l-4.5-1zM406 320.5l4 1l-1.5 5.5l-4.5-2zM424.5 320l4.5 1l1 4.5l-4 0zM414.5 327l6.5-2l-2 7l-3.5-1.5zM435 325l6.5 2l-1 3l-5 2zM415.5 330.5l3.5 1.5l1 2.5l-5 1zM419 332l5-1l1.5 4.5l-5.5-1zM424 331l5 0l0 5.5l-3.5-1zM429 331l6.5 1l0 3.5l-6.5 1zM435.5 332l5-2l-1.5 6.5l-3.5-1zM415 335.5l5-1l1.5 5.5l-5 1.5zM425.5 335.5l3.5 1l.5 5.5l-3.5 0zM426 342l3.5 0l0 3l-4 2zM436 339.5l3.5 2l-.5 5l-4.5-1.5zM429.5 345l5 0l1 6l-6.5 .5zM421 350l4 0l.5 5.5l-5.5 1.5z" fill="#f09a8e" stroke="#b94c42" stroke-width="0.75"/><path d="M268.5 61.5l4.5-3l1 9l-6-2.5zM250 64.5l7.5 .5l-1.5 6l-6 .5zM257.5 65l3-.5l2 9l-6.5-2.5zM260.5 64.5l7.5 .5l0 5.5l-5.5 3zM268 65l6 2.5l1.5 4l-7.5-1zM274 67.5l7-2.5l.5 7l-6-.5zM256 71l6.5 2.5l-2 5l-6-1zM262.5 73.5l5.5-3l0 6l-7.5 2zM281.5 72l5.5-1.5l-1 7.5l-6.5-1zM287 70.5l6 .5l-1 5.5l-6 1.5zM293 71l3.5-.5l.5 7l-5-1zM296.5 70.5l3.5 2l0 6.5l-3-1.5zM260.5 78.5l7.5-2l-.5 8.5l-6.5-.5zM274.5 78l5-1l1 7l-6.5-1zM279.5 77l6.5 1l-1 7l-4.5-1zM286 78l6-1.5l-.5 7.5l-6.5 1zM292 76.5l5 1l0 6l-5.5 .5zM257.5 83.5l3.5 1l2 6.5l-7-1zM261 84.5l6.5 .5l1.5 6l-6 0zM267.5 85l6.5-2l1 5.5l-6 2.5zM274 83l6.5 1l0 5l-5.5-.5zM285 85l6.5-1l1.5 5.5l-8 0zM297 83.5l3 1l0 4.5l-3.5-.5zM263 91l6 0l-1 5l-7-1zM275 88.5l5.5 .5l.5 6l-8 .5zM280.5 89l4.5 .5l0 7l-4-1.5zM255 96l6-1l2.5 8.5l-9-2zM261 95l7 1l-1.5 7l-3 .5zM268 96l5-.5l0 5.5l-6.5 2zM273 95.5l8-.5l0 7l-8-1zM281 95l4 1.5l1 6l-5-.5zM292.5 95l5.5 2l-1 3.5l-6 0zM298 97l2 .5l0 3.5l-3-.5zM250 102.5l4.5-1l1 7.5l-5.5 .5zM254.5 101.5l9 2l0 4.5l-8 1zM263.5 103.5l3-.5l1.5 4.5l-4.5 .5zM266.5 103l6.5-2l-.5 7l-4.5-.5zM286 102.5l5-2l1.5 8l-7 .5zM291 100.5l6 0l2 6l-6.5 2zM263.5 108l4.5-.5l-1 6.5l-6.5-.5zM268 107.5l4.5 .5l.5 6.5l-6-.5zM272.5 108l7 .5l.5 5.5l-7 .5zM285.5 109l7-.5l0 5l-6.5-1zM292.5 108.5l6.5-2l-2 7.5l-4.5-.5zM299 106.5l1 1.5l0 6l-3 0zM250 114.5l7 0l-.5 6.5l-6.5-2.5zM267 114l6 .5l1.5 6l-8-2zM273 114.5l7-.5l0 7.5l-5.5-1zM280 114l6-1.5l0 6.5l-6 2.5zM286 112.5l6.5 1l1 7l-7.5-1.5zM297 114l3 0l0 5l-2.5 2zM250 118.5l6.5 2.5l.5 3.5l-7 2.5zM256.5 121l7-2.5l-2 6l-4.5 0zM263.5 118.5l3 0l0 7l-5-1zM266.5 118.5l8 2l-.5 6l-7.5-1zM274.5 120.5l5.5 1l1 3l-7 2zM280 121.5l6-2.5l-.5 8.5l-4.5-3zM286 119l7.5 1.5l-1.5 7l-6.5 0zM293.5 120.5l4 .5l.5 5l-6 1.5zM297.5 121l2.5-2l0 6l-2 1zM250 127l7-2.5l-2 8.5l-5-.5zM257 124.5l4.5 0l2 7l-8.5 1.5zM261.5 124.5l5 1l.5 7.5l-3.5-1.5zM285.5 127.5l6.5 0l-1 4l-5 1.5zM292 127.5l6-1.5l-.5 4.5l-6.5 1zM298 126l2-1l0 6l-2.5-.5zM263.5 131.5l3.5 1.5l1.5 6l-8-1.5zM273.5 132l8-1.5l-3 8.5l-4-2zM281.5 130.5l4.5 2.5l-1 5.5l-6.5 .5zM291 131.5l6.5-1l1.5 7l-7 1zM250 139l7 .5l0 3.5l-7 1.5zM260.5 137.5l8 1.5l-.5 4l-7 1zM274.5 137l4 2l.5 3.5l-4 2zM278.5 139l6.5-.5l-.5 4.5l-5.5-.5zM285 138.5l7 0l1.5 6l-9-1.5zM299 137.5l1-.5l0 5.5l-1 0zM250 144.5l7-1.5l-1 7.5l-6-1zM261 144l7-1l-1 8l-4.5-.5zM275 144.5l4-2l0 7.5l-3.5 .5zM293.5 144.5l5.5-2l-1 7.5l-7.5 1.5zM299 142.5l1 0l0 8l-2-.5zM262.5 150.5l4.5 .5l1.5 5.5l-8-.5zM267 151l8.5-.5l-1.5 6.5l-5.5-.5zM279 150l5.5-1.5l3 9l-6.5-3zM284.5 148.5l6 3l1.5 3.5l-4.5 2.5zM268.5 156.5l5.5 .5l-.5 4.5l-5-1zM281 154.5l6.5 3l-2 3l-6.5 0zM287.5 157.5l4.5-2.5l1 7.5l-7.5-2zM297 154.5l3 2l0 4.5l-.5 2.5zM250 160.5l7.5 1.5l-2.5 7.5l-5-1zM257.5 162l3 0l2.5 5l-8 2.5zM273.5 161.5l5.5-1l-.5 7l-4.5 1.5zM285.5 160.5l7.5 2l0 5.5l-6 .5zM293 162.5l6.5 1l0 4.5l-6.5 0zM250 168.5l5 1l.5 3l-5.5 0zM255 169.5l8-2.5l0 6l-7.5-.5zM267 168l7 1l.5 4l-5.5 2.5zM274 169l4.5-1.5l1.5 8l-5.5-2.5zM287 168.5l6-.5l-2 6l-6.5 1zM293 168l6.5 0l-.5 6.5l-8-.5zM263 173l6 2.5l-.5 3.5l-7 2zM269 175.5l5.5-2.5l1 8.5l-7-2.5zM280 175.5l4.5-.5l0 4l-4 2zM284.5 175l6.5-1l1 5.5l-7.5-.5zM299 174.5l1-1l0 6.5l-2-1zM250 180.5l6.5-1.5l-1.5 6.5l-5 2zM261.5 181l7-2l-2 7l-6 0zM280.5 181l4-2l2.5 8l-6.5 .5zM284.5 179l7.5 .5l.5 5.5l-5.5 2zM292 179.5l6-.5l.5 7l-6-1zM292.5 185l6 1l0 4.5l-7.5 0zM298.5 186l1.5 1.5l0 5l-1.5-2zM250 192.5l6.5-1l0 8l-6.5-1zM262 192.5l5.5 1l-.5 3.5l-3.5 1.5zM267.5 193.5l7-2l-2 5l-5.5 .5zM274.5 191.5l6-.5l-1 7l-7-1.5zM280.5 191l4.5 1l2 6.5l-7.5-.5zM291 190.5l7.5 0l-1 6l-7 1.5zM298.5 190.5l1.5 2l0 5.5l-2.5-1.5zM250 198.5l6.5 1l1 6l-7.5-.5zM256.5 199.5l7-1l-2.5 4.5l-3.5 2.5zM263.5 198.5l3.5-1.5l-.5 5.5l-5.5 .5zM272.5 196.5l7 1.5l-1 7.5l-4-1zM279.5 198l7.5 .5l-1 4.5l-7.5 2.5zM290.5 198l7-1.5l1.5 7.5l-6-.5zM297.5 196.5l2.5 1.5l0 7l-1-1zM250 205l7.5 .5l0 3.5l-7.5 2.5zM261 203l5.5-.5l2.5 8.5l-7-1.5zM266.5 202.5l8 2l0 6.5l-5.5 0zM274.5 204.5l4 1l1.5 3.5l-5.5 2zM278.5 205.5l7.5-2.5l-1.5 6l-4.5 0zM293 203.5l6 .5l-1.5 7l-4-.5zM299 204l1 1l0 6l-2.5 0zM250 211.5l7.5-2.5l-.5 5.5l-7 2.5zM257.5 209l4.5 .5l0 5l-5 0zM262 209.5l7 1.5l-2 3.5l-5 0zM269 211l5.5 0l-.5 6l-7-2.5zM274.5 211l5.5-2l0 8l-6 0zM297.5 211l2.5 0l0 4.5l-2 0zM257 214.5l5 0l.5 7l-6-1zM267 214.5l7 2.5l.5 5.5l-6-1.5zM280 217l6-.5l0 6l-7 0zM286 216.5l6.5-1l1 6l-7.5 1zM292.5 215.5l5.5 0l-.5 5l-4 1zM298 215.5l2 0l0 5l-2.5 0zM256.5 220.5l6 1l-2 5l-6 3zM262.5 221.5l6-.5l0 8.5l-8-3zM274.5 222.5l4.5 0l-.5 4.5l-4.5 1.5zM293.5 221.5l4-1l-1 6l-3.5 .5zM297.5 220.5l2.5 0l0 8.5l-3.5-2.5zM260.5 226.5l8 3l.5 4l-5.5 1.5zM278.5 227l7.5 1.5l-.5 6.5l-6.5-1zM293 227l3.5-.5l3 9l-6-1zM296.5 226.5l3.5 2.5l0 6l-.5 .5zM263.5 235l5.5-1.5l-.5 6l-5 0zM279 234l6.5 1l.5 6.5l-5.5-2.5zM250 240.5l6-2l1 6l-7 2zM256 238.5l7.5 1l0 5.5l-6.5-.5zM268.5 239.5l6 1l-.5 7l-5-2.5zM280.5 239l5.5 2.5l1.5 5.5l-7-.5zM286 241.5l5-.5l0 4.5l-3.5 1.5zM263.5 245l5.5 0l0 7.5l-6 1zM280.5 246.5l7 .5l-.5 5.5l-6 1zM287.5 247l3.5-1.5l.5 6l-4.5 1zM250 253l7.5 0l-1.5 5l-6 .5zM257.5 253l5.5 .5l-2 3l-5 1.5zM296.5 252l3.5 1l0 4l-1.5 .5zM269.5 257.5l4.5 0l-1 8l-3.5-1zM279.5 259.5l6.5-2.5l-1.5 7.5l-4.5-.5zM286 257l5.5 0l0 5.5l-7 2zM250 263.5l4.5 1l0 5.5l-4.5-1.5zM260.5 262.5l9 2l-2.5 6l-4 0zM269.5 264.5l3.5 1l0 5l-6 0zM273 265.5l7-1.5l-1 4.5l-6 2zM284.5 264.5l7-2l1.5 7l-8 1zM291.5 262.5l7 1l0 5.5l-5.5 .5zM254.5 270l8.5 .5l-1 4l-4.5 2zM263 270.5l4 0l.5 4l-5.5 0zM279 268.5l6 2l1 6l-5.5-2zM285 270.5l8-1l-.5 6.5l-6.5 .5zM298.5 269l1.5 1.5l0 6l-2-.5zM267.5 274.5l5.5 1.5l2.5 4.5l-9 2zM280.5 274.5l5.5 2l0 4.5l-7.5-.5zM286 276.5l6.5-.5l1 7.5l-7.5-2.5zM298 276l2 .5l0 4l-2 0zM250 282.5l4.5 0l2 5l-6.5 2zM254.5 282.5l8-1.5l-1.5 7.5l-4.5-1zM262.5 281l4 1.5l.5 4l-6 2zM266.5 282.5l9-2l-.5 6l-8 0zM278.5 280.5l7.5 .5l-.5 7.5l-5.5-1.5zM286 281l7.5 2.5l-1 5.5l-7-.5zM293.5 283.5l4.5-3l-1 8l-4.5 .5zM298 280.5l2 0l0 7l-3 1zM256.5 287.5l4.5 1l1.5 6.5l-5.5-.5zM275 286.5l5 .5l-1 8l-3.5 .5zM280 287l5.5 1.5l2 5l-8.5 1.5zM292.5 289l4.5-.5l0 5.5l-3.5 1.5zM297 288.5l3-1l0 7.5l-3-1zM287.5 293.5l6 2l-2 5l-6-.5zM297 294l3 1l0 3.5l-.5 2zM274 300.5l6-1.5l.5 8.5l-6.5-2.5zM280 299l5.5 1l.5 6.5l-5.5 1zM285.5 300l6 .5l-1 5l-4.5 1zM291.5 300.5l8 0l-.5 6.5l-8.5-1.5zM299.5 300.5l.5-2l0 6l-1 2.5zM250 313.5l7.5-2l-.5 6l-7 .5zM257.5 311.5l4.5-1l1 8l-6-1zM262 310.5l7 2.5l.5 5.5l-6.5 0zM481 60.5l4 1l0 3.5l-4.5 2zM476 66l4.5 1l0 4l-5 1zM489 67l5.5-1l1.5 6l-6 0zM494.5 66l5 1l1.5 3.5l-5 1.5zM475.5 72l5-1l-1 4l-6-.5zM480.5 71l3.5-1.5l1.5 6l-6-.5zM324.5 75.5l5 1l.5 4.5l-4 1zM329.5 76.5l5-2l-.5 6.5l-4 0zM479.5 75l6 .5l-.5 5l-5 2zM489 75l7 0l-2 7l-5-2.5zM496 75l3 0l2 6.5l-7 .5zM499 75l5.5 1l2 5l-5.5 .5zM305 82.5l4.5-2l-.5 6.5l-4-2zM315.5 82l5.5 0l-2 4l-5-1.5zM321 82l5 0l.5 5l-7.5-1zM326 82l4-1l.5 5.5l-4 .5zM330 81l4 0l1.5 6l-5-.5zM334 81l6 0l-.5 6l-4 0zM345.5 81l6-1l-2 6l-5-.5zM474.5 81l5.5 1.5l1.5 4.5l-6-2zM480 82.5l5-2l1 5.5l-4.5 1zM485 80.5l4-1l1 6.5l-4 0zM489 79.5l5 2.5l1 3.5l-5 .5zM501 81.5l5.5-.5l-2 4l-5.5 .5zM506.5 81l3 1l-1 3.5l-4-.5zM300 84.5l5 .5l-1 6.5l-4 .5zM314 84.5l5 1.5l1 4l-4.5 2zM319 86l7.5 1l-1 3l-5.5 0zM330.5 86.5l5 .5l-1 3l-3.5 2.5zM335.5 87l4 0l-.5 5l-4.5-2zM475.5 85l6 2l-1 2.5l-6.5 0zM486 86l4 0l1 5.5l-7 .5zM490 86l5-.5l-.5 5l-3.5 1zM495 85.5l4 0l1 5.5l-5.5-.5zM499 85.5l5.5-.5l-.5 5.5l-4 .5zM504.5 85l4 .5l1.5 5l-6 0zM300 92l4-.5l1 4l-5-1zM325.5 90l5.5 2.5l.5 4.5l-5.5-2zM331 92.5l3.5-2.5l.5 5l-3.5 2zM334.5 90l4.5 2l1.5 4.5l-5.5-1.5zM356 91.5l4.5 0l-.5 4.5l-4 1zM445 90.5l4 1.5l1 4l-4 0zM471 91l3-1.5l-.5 5.5l-2-.5zM484 92l7-.5l-1 3l-5 2zM494.5 90.5l5.5 .5l-.5 3.5l-3.5 2zM309.5 97l5.5-1l-.5 5l-5.5 .5zM315 96l6-.5l-.5 4.5l-6 1zM326 95l5.5 2l-1 5l-5-1.5zM331.5 97l3.5-2l-.5 6l-4 1zM340.5 96.5l4.5-2l-.5 5.5l-5.5 0zM345 94.5l4.5 1.5l1.5 3.5l-6.5 .5zM349.5 96l6.5 1l-2 3.5l-3-1zM356 97l4-1l0 3.5l-6 1zM471.5 94.5l2 .5l2.5 6l-6-1zM485 96.5l5-2l1 6.5l-5-1zM490 94.5l6 2l-1 5l-4-.5zM300 101.5l5-1l.5 6l-5.5 1zM305 100.5l4 1l0 4.5l-3.5 .5zM334.5 101l4.5-1l2 7.5l-5.5-2.5zM339 100l5.5 0l.5 6l-4 1.5zM344.5 100l6.5-.5l0 6.5l-6 0zM351 99.5l3 1l0 6.5l-3-1zM354 100.5l6-1l0 7l-6 .5zM364 100.5l7 .5l-2 6l-3.5-2zM374.5 102.5l5.5-1.5l-1.5 5.5l-4.5-1zM434 101.5l7-2l-1 7l-4-1zM441 99.5l5 1l-1.5 6l-4.5 0zM476 101l4 .5l.5 4.5l-6-1zM480 101.5l6-1.5l-1.5 5.5l-4 .5zM300 107.5l5.5-1l-2 4.5l-3.5-.5zM305.5 106.5l3.5-.5l.5 6.5l-6-1.5zM316 106.5l5.5 1l-1 2.5l-5 1zM321.5 107.5l2-1l1 5.5l-4-2zM323.5 106.5l5.5-1.5l2 6l-6.5 1zM335.5 105l5.5 2.5l-1.5 4l-5.5-.5zM341 107.5l4-1.5l1 6l-6.5-.5zM345 106l6 0l0 4.5l-5 1.5zM351 106l3 1l2.5 4l-5.5-.5zM440 106.5l4.5 0l1 4.5l-7 1zM471.5 107l3-2l.5 5.5l-6 0zM480.5 106l4-.5l0 4l-4 1.5zM300 110.5l3.5 .5l1 5l-4.5 .5zM331 111l3 0l1 4l-6.5 1.5zM364.5 109.5l5 .5l-1 5.5l-4 0zM375 111l6-1.5l-1.5 7.5l-4.5-1zM480.5 111l4-1.5l0 7l-4.5 1zM304.5 116l5.5 1l-1.5 3.5l-3.5 1zM310 117l6 0l-1 3.5l-6.5 0zM320.5 116l3.5 .5l1 3l-5 .5zM324 116.5l4.5 0l.5 4l-4-1zM335 115l5.5 2l-1.5 3l-3.5 1zM340.5 117l5.5-1l-1.5 6l-5.5-2zM355.5 117.5l5-2.5l.5 6l-6 0zM360.5 115l4 .5l-.5 4.5l-3 1zM454.5 114.5l5.5 2l1.5 4.5l-6-1zM460 116.5l4-1l2 6.5l-4.5-1zM480 117.5l4.5-1l2 5.5l-7-.5zM484.5 116.5l6-.5l-2 4.5l-2 1.5zM305 121.5l3.5-1l3 5l-5 1zM308.5 120.5l6.5 0l-.5 7l-3-2zM320 120l5-.5l-.5 6l-5.5 1.5zM329 120.5l6.5 .5l1 6.5l-5.5-2.5zM339 120l5.5 2l-.5 3.5l-5 1zM349 121.5l6-.5l-.5 6.5l-5-1.5zM355 121l6 0l.5 6l-7 .5zM379 120l6 2.5l0 4.5l-4 .5zM455.5 120l6 1l-2 4l-5.5 0zM475 122.5l4.5-1l2 4l-6.5-1zM488.5 120.5l6 .5l1.5 4l-7 1zM311.5 125.5l3 2l1 2.5l-7 .5zM319 127l5.5-1.5l1.5 6.5l-5.5-.5zM331 125l5.5 2.5l-1 2.5l-4.5 .5zM344 125.5l5.5 .5l2 5l-7.5 1zM385 127l4-2l1 5.5l-5.5 1zM446 126l3-.5l-.5 4.5l-3 .5zM464 126.5l6 .5l-1 4l-5 0zM481.5 125.5l4.5-.5l-2 6.5l-5-2zM496 125l4 .5l.5 4l-6.5 2.5zM305.5 131l3-.5l1 5.5l-5.5 .5zM308.5 130.5l7-.5l-.5 6l-5.5 0zM315.5 130l5 1.5l0 4l-5.5 .5zM335.5 130l4 1.5l-.5 5l-4-1zM339.5 131.5l4.5 .5l1.5 5l-6.5-.5zM344 132l7.5-1l-1 5l-5 1zM351.5 131l2.5-1l2 4.5l-5.5 1.5zM354 130l5-.5l-.5 7l-2.5-2zM404.5 130.5l5 .5l.5 4.5l-6 .5zM409.5 131l5 1l0 4.5l-4.5-1zM414.5 132l5.5-2l1 5l-6.5 1.5zM474 131.5l5-2l0 5.5l-4 1.5zM479 129.5l5 2l2.5 3l-7.5 .5zM484 131.5l6-1l.5 6.5l-4-2.5zM300 136l4 .5l0 4l-4 1.5zM304 136.5l5.5-.5l0 4.5l-5.5 0zM309.5 136l5.5 0l.5 4.5l-6 0zM335 135.5l4 1l.5 4.5l-5-1zM396 136l3.5-.5l-1 5.5l-4-1zM410 135.5l4.5 1l1.5 6l-5-1.5zM424 136l6.5 1l-2 5l-4-.5zM435 137l5-1.5l1 4.5l-5 1zM440 135.5l6 0l.5 4.5l-5.5 0zM454.5 135.5l5 .5l1 5.5l-4.5-1zM471 134.5l4 2l1.5 4l-7 .5zM475 136.5l4-1.5l1 4.5l-3.5 1zM300 142l4-1.5l1 5l-5-1zM304 140.5l5.5 0l.5 5.5l-5-.5zM315.5 140.5l4.5 0l.5 5.5l-4.5 0zM320 140.5l4 0l.5 4.5l-4 1zM330 141.5l4.5-1.5l1 6.5l-5-1.5zM371 141.5l3.5-.5l1.5 4.5l-5.5-.5zM391 141.5l3.5-1.5l0 6.5l-4.5 .5zM394.5 140l4 1l3 4.5l-7 1zM398.5 141l6-1l0 7.5l-3-2zM411 141l5 1.5l-1 4l-5 .5zM416 142.5l2.5-1.5l1.5 5.5l-5 0zM418.5 141l6 .5l1.5 4l-6 1zM424.5 141.5l4 .5l1 2.5l-3.5 1zM428.5 142l7.5-1l-1 5l-5.5-1.5zM446.5 140l4 0l.5 7l-5.5-1.5zM450.5 140l5.5 .5l0 6l-5 .5zM456 140.5l4.5 1l-2 5.5l-2.5-.5zM460.5 141.5l5.5 0l-1 5.5l-6.5 0zM316 146l4.5 0l.5 4.5l-5 0zM324.5 145l6 0l0 5l-5-.5zM345.5 146l4-1.5l.5 6.5l-5 1zM349.5 144.5l5 1l-1 6l-3.5-.5zM401.5 145.5l3 2l1.5 3.5l-7-.5zM415 146.5l5 0l.5 3l-6.5 2.5zM420 146.5l6-1l-1.5 6.5l-4-2.5zM426 145.5l3.5-1l1 6.5l-6 1zM440.5 144.5l5 1l.5 6l-5.5-.5zM445.5 145.5l5.5 1.5l-1.5 3l-3.5 1.5zM458.5 147l6.5 0l-1 3.5l-3.5 1.5zM465 147l5.5 0l-.5 3l-6 .5zM316 150.5l5 0l-1.5 4.5l-3.5 1zM321 150.5l4.5-1l-.5 5.5l-5.5 0zM359 150l7 2l-1 4l-4.5-1zM410.5 152l3.5 0l0 3l-5 .5zM414 152l6.5-2.5l.5 7.5l-7-2zM420.5 149.5l4 2.5l1.5 4.5l-5 .5zM424.5 152l6-1l1 6l-5.5-.5zM440.5 151l5.5 .5l-.5 4.5l-4.5 1.5zM446 151.5l3.5-1.5l0 5.5l-4 .5zM456 151l4.5 1l0 4.5l-6-.5zM460.5 152l3.5-1.5l1.5 4.5l-5 1.5zM300 155l6.5-.5l-1.5 6l-5 1.5zM306.5 154.5l3.5 1.5l.5 5l-5.5-.5zM310 156l6 0l-1 5l-4.5 0zM316 156l3.5-1l-1 5l-3.5 1zM329.5 157l7-1l-1 4.5l-6.5 .5zM336.5 156l2-1l2 5l-5 .5zM345 157l4-1l0 6l-3-1.5zM380 155l5.5 0l-.5 4.5l-6 .5zM385.5 155l3 2l2.5 4.5l-6-2zM404.5 156l4.5-.5l0 5.5l-4.5 .5zM426 156.5l5.5 .5l-1.5 5l-5.5 0zM431.5 157l4-1l-.5 6l-5 0zM435.5 156l5.5 1.5l0 4l-6 .5zM445.5 156l4-.5l0 6l-4-1zM449.5 155.5l5 .5l2 4l-7 1.5zM310.5 161l4.5 0l1 5l-7 1zM315 161l3.5-1l0 6l-2.5 0zM318.5 160l6 .5l.5 6.5l-6.5-1zM364 162l5-.5l.5 4l-4 0zM379 160l6-.5l1.5 7l-7-2zM391 161.5l3.5 0l1.5 5l-5.5 0zM399 161l5.5 .5l0 5l-5 0zM430 162l5 0l-1 4l-3 0zM435 162l6-.5l-1.5 5l-5.5-.5zM445.5 160.5l4 1l1 5.5l-6-.5zM449.5 161.5l7-1.5l-1 7l-5 0zM459.5 160.5l5.5 .5l-1 4.5l-3 0zM300 164.5l5 2l.5 5.5l-5.5-2.5zM309 167l7-1l-1 4.5l-6 0zM316 166l2.5 0l1 6l-4.5-1.5zM318.5 166l6.5 1l.5 4l-6 1zM336 166.5l5 .5l-2 4.5l-4-1.5zM341 167l4-1l1 6l-7-.5zM354 166l7.5 1l-.5 4.5l-7.5-.5zM365.5 165.5l4 0l0 7l-3.5-2.5zM399.5 166.5l5 0l1 4l-6.5-.5zM419.5 165l4.5 2.5l1.5 2.5l-4.5 .5zM431 166l3 0l2.5 4.5l-7 1zM434 166l5.5 .5l.5 5l-3.5-1zM444.5 166.5l6 .5l0 5l-6.5-1.5zM450.5 167l5 0l-.5 3l-4.5 2zM455.5 167l5.5-1.5l0 5l-6-.5zM461 165.5l3 0l.5 5.5l-3.5-.5zM300 169.5l5.5 2.5l-.5 3.5l-5 0zM305.5 172l3.5-1.5l1 5.5l-5-.5zM315 170.5l4.5 1.5l-1 5.5l-3.5-2zM319.5 172l6-1l1 4.5l-8 2zM329 170.5l6-.5l0 4.5l-3.5 1.5zM339 171.5l7 .5l-1.5 3.5l-4 2zM346 172l4-.5l-.5 5.5l-5-1.5zM353.5 171l7.5 .5l-2.5 3.5l-4 2zM374.5 172l7 .5l-1.5 3.5l-6 0zM384.5 171.5l4.5 .5l2 3.5l-6.5 .5zM396 172l3-2l2 6.5l-7.5 0zM399 170l6.5 .5l-1.5 5.5l-3 .5zM409 170.5l7 1l0 4l-6.5 0zM421 170.5l4.5-.5l-1.5 7l-4.5-2zM436.5 170.5l3.5 1l1.5 5l-6-1zM440 171.5l4-1l0 4.5l-2.5 1.5zM300 175.5l5 0l.5 5.5l-5.5-.5zM305 175.5l5 .5l-1 6l-3.5-1zM310 176l5-.5l0 5l-6 1.5zM315 175.5l3.5 2l.5 4.5l-4-1.5zM318.5 177.5l8-2l-2.5 6l-5 .5zM340.5 177.5l4-2l0 6l-4.5-1zM344.5 175.5l5 1.5l.5 5l-5.5-.5zM365 175.5l4.5 .5l-.5 6l-4-1.5zM374 176l6 0l0 6l-4.5-1zM380 176l4.5 0l1.5 6l-6 0zM393.5 176.5l7.5 0l-.5 5l-6 0zM409.5 175.5l6.5 0l-1 5.5l-4.5 0zM424 177l7-.5l-.5 3.5l-4.5 0zM300 180.5l5.5 .5l-1 6l-4.5 0zM305.5 181l3.5 1l.5 4l-5 1zM324 181.5l6-2l-.5 5.5l-3.5 1.5zM330 179.5l4 2.5l0 3l-4.5 0zM350 182l4-1.5l2 4.5l-5.5 1.5zM390 180l4.5 1.5l1.5 5.5l-6.5-.5zM426 180l4.5 0l0 6.5l-5 .5zM430.5 180l5.5 1.5l-2 3.5l-3.5 1.5zM436 181.5l3-.5l1 6l-6-2zM449 180.5l7 .5l-2 5l-5-.5zM304.5 187l5-1l1 4l-6.5 0zM309.5 186l4.5-.5l-.5 6l-3-1.5zM314 185.5l5.5 0l1 5l-7 1zM334 185l7 .5l0 5l-6.5 2zM341 185.5l4.5 1l-.5 5l-4-1zM365 185.5l4 1.5l.5 3.5l-6-.5zM399 185l7 1l-1 6l-5-.5zM406 186l5-.5l0 6.5l-6 0zM425.5 187l5-.5l0 4.5l-5 1zM434 185l6 2l-.5 3.5l-5 .5zM445 186l4-.5l1.5 6l-5 1zM300 192l4-2l1 7l-5-1.5zM313.5 191.5l7-1l-2 4.5l-4.5 2zM334.5 192.5l6.5-2l-1.5 6.5l-5.5-1zM345 191.5l4 0l2.5 5.5l-8-1zM360.5 190l3 0l2.5 6l-5.5-1zM381.5 190.5l3.5 .5l-1 3.5l-4 3zM389 189.5l5 1l0 6.5l-3.5-.5zM405 192l6 0l-1.5 5l-4.5-2zM415.5 190.5l4-.5l.5 5l-4 1.5zM425.5 192l5-1l-2 4.5l-2.5-.5zM450.5 191.5l4-1l1.5 6.5l-6-1zM300 195.5l5 1.5l1 5l-6-.5zM305 197l5-2l0 6.5l-4 .5zM310 195l4 2l.5 3.5l-4.5 1zM314 197l4.5-2l2 6.5l-6-1zM318.5 195l6 2.5l1 4.5l-5-.5zM329 195l5 1l1 3.5l-4.5 2zM339.5 197l4-1l2 5.5l-5-1.5zM380 197.5l4-3l2 8l-6.5 0zM384 194.5l6.5 2l.5 3l-5 3zM400 196l5-1l-.5 5l-5.5 2.5zM405 195l4.5 2l1.5 3l-6.5 0zM409.5 197l6.5-.5l-.5 4.5l-4.5-1zM416 196.5l4-1.5l.5 7l-5-1zM428.5 195.5l7.5 1.5l-1 3l-4.5 0zM445.5 196.5l4.5-.5l.5 5.5l-4.5 1zM300 201.5l6 .5l-.5 4l-5.5-.5zM314.5 200.5l6 1l1 4l-6.5 0zM325.5 202l5-.5l-1 4l-4.5 1.5zM335 199.5l5.5 .5l0 7.5l-5.5-2.5zM376 200l3.5 2.5l.5 4l-5.5 0zM379.5 202.5l6.5 0l0 2.5l-6 1.5zM386 202.5l5-3l-1.5 5.5l-3.5 0zM404.5 200l6.5 0l-1 7l-4.5 0zM420.5 202l3.5 0l.5 5l-5-2.5zM424 202l6.5-2l-1 5.5l-5 1.5zM430.5 200l4.5 0l0 7l-5.5-1.5zM446 202.5l4.5-1l-.5 4l-5 1.5zM455 201.5l6 .5l-2 5l-3.5-1zM461 202l3-2l1.5 5l-6.5 2zM305.5 206l5.5 1l-2 4l-4.5-1zM311 207l4-1.5l.5 5l-6.5 .5zM346 205l2.5 1.5l2.5 5l-5 1zM374.5 206.5l5.5 0l-1 4l-3.5 1.5zM380 206.5l6-1.5l-.5 5l-6.5 .5zM386 205l3.5 0l1.5 7l-5.5-2zM405.5 207l4.5 0l-1 5l-3.5-2zM424.5 207l5-1.5l-.5 5l-2.5 0zM450 205.5l5.5 .5l0 5.5l-5.5-.5zM455.5 206l3.5 1l1.5 3l-5 1.5zM459 207l6.5-2l-.5 6l-4.5-1zM300 211.5l4.5-1.5l.5 7l-5-.5zM309 211l6.5-.5l.5 4l-5.5 1zM315.5 210.5l5.5 0l-1 5l-4-1zM321 210.5l4 2l0 5l-5-2zM334.5 210.5l5 .5l1 5.5l-4-.5zM351 211.5l3.5-1l1 5.5l-5 0zM361 210.5l3.5 1l1 4.5l-5 0zM364.5 211.5l4.5 0l2.5 5.5l-6-1zM379 210.5l6.5-.5l-1 7l-4-2zM385.5 210l5.5 2l-2 4l-4.5 1zM391 212l4-2l1.5 7l-7.5-1zM405.5 210l3.5 2l.5 5l-5-2.5zM450 211l5.5 .5l1 5.5l-7.5-1zM460.5 210l4.5 1l-1.5 5l-4.5 .5zM300 216.5l5 .5l0 5.5l-5-2.5zM316 214.5l4 1l0 6.5l-6 0zM320 215.5l5 2l-.5 3.5l-4.5 1zM325 217.5l5-2.5l-1 6.5l-4.5-.5zM336.5 216l4 .5l-1 4l-5 0zM340.5 216.5l5 .5l-1.5 3l-4.5 .5zM345.5 217l5-1l0 5l-6.5-1zM350.5 216l5 0l0 5.5l-5-.5zM355.5 216l5 0l-.5 5.5l-4.5 0zM360.5 216l5 0l0 4.5l-5.5 1zM371.5 217l3.5-2l-1 4.5l-5.5 2.5zM375 215l5.5 0l1 5.5l-7.5-1zM380.5 215l4 2l1.5 2.5l-4.5 1zM384.5 217l4.5-1l1.5 5.5l-4.5-2zM449 216l7.5 1l-.5 2.5l-6 2zM300 220l5 2.5l1 3.5l-6 0zM314 222l6 0l-.5 4l-4-.5zM329 221.5l5.5-1l0 4.5l-5 1.5zM350.5 221l5 .5l0 5.5l-4.5-2zM355.5 221.5l4.5 0l0 4l-4.5 1.5zM360 221.5l5.5-1l1 6l-6.5-1zM374 219.5l7.5 1l-1.5 6.5l-5-1.5zM386 219.5l4.5 2l-.5 4.5l-4 .5zM395 221l6 0l-2 4l-5 .5zM401 221l4.5 .5l-1.5 5l-5-1.5zM420.5 221l4.5-1l.5 5l-5.5 .5zM430.5 220l3.5-.5l0 6.5l-4.5 1zM456 219.5l5 1l0 6l-6-1.5zM306 226l5-1l-1.5 6.5l-4-.5zM311 225l4.5 .5l0 5l-6 1zM315.5 225.5l4 .5l1.5 5l-5.5-.5zM319.5 226l5.5 0l1 6l-5-1zM329.5 226.5l5-1.5l0 6.5l-5.5-1.5zM339 226.5l5-.5l2 4.5l-6.5 1.5zM344 226l7-1l-1 6.5l-4-1zM351 225l4.5 2l-.5 4.5l-5 0zM355.5 227l4.5-1.5l.5 6l-5.5 0zM360 225.5l6.5 1l-.5 4l-5.5 1zM366.5 226.5l4.5 .5l-1 3l-4 .5zM371 227l4-1.5l-1.5 6.5l-3.5-2zM386 226.5l4-.5l-1 4l-3.5 0zM390 226l4-.5l0 6l-5-1.5zM420 225.5l5.5-.5l-.5 4.5l-5 2zM429.5 227l4.5-1l1 6l-6.5-.5zM300 231l5.5 0l.5 6l-6-1zM339.5 232l6.5-1.5l0 6.5l-7.5-.5zM350 231.5l5 0l0 3.5l-6 1zM355 231.5l5.5 0l1 5.5l-6.5-2zM366 230.5l4-.5l.5 6l-5.5 .5zM394 231.5l5.5-2l-.5 7.5l-3-1.5zM428.5 231.5l6.5 .5l-1 4.5l-3.5-1zM300 236l6 1l-2 5l-4-1zM306 237l5-1l0 5.5l-7 .5zM311 236l4-.5l0 6l-4 0zM346 237l3-1l2 4l-7.5-.5zM355 235l6.5 2l-.5 3l-5 1zM365 236.5l5.5-.5l-.5 5.5l-5 0zM399 237l7-2l-.5 7l-4.5 0zM421 235.5l5.5 1l-2 3.5l-5.5 1zM304 242l7-.5l-1 5l-4.5-1zM333.5 242l5.5 0l2 3.5l-6.5 0zM351 240l5 1l-2.5 5.5l-3 0zM365 241.5l5 0l-1 4l-4.5 1.5zM389 242l5-1l.5 5.5l-5-2zM424.5 240l4 .5l1 6l-3.5-.5zM300 246.5l5.5-1l0 5.5l-5.5-.5zM305.5 245.5l4.5 1l0 3.5l-4.5 1zM360 246l4.5 1l0 4l-3.5 1zM374 247.5l6-1.5l0 5l-5 1zM380 246l5-1l-.5 5l-4.5 1zM389.5 244.5l5 2l0 4l-4 1zM300 250.5l5.5 .5l0 5l-5.5 0zM305.5 251l4.5-1l1 7l-5.5-1zM310 250l5 1l1 5l-5 1zM364.5 251l6 1l1 5l-7.5-1.5zM370.5 252l4.5 0l0 4.5l-3.5 .5zM410.5 251l5-1.5l-1 5l-5.5 2.5zM415.5 249.5l4.5 2.5l0 5.5l-5.5-3zM300 256l5.5 0l0 6l-5.5 0zM316 256l5 .5l-.5 4.5l-4.5 1zM344.5 254.5l6 2l-.5 4.5l-4 1zM375 256.5l5.5-1.5l-1.5 5l-2.5 0zM305.5 262l5.5-1.5l0 4l-5 1.5zM346 262l4-1l.5 4.5l-6 1zM356 262l5 .5l-1.5 4l-3.5-.5zM338.5 266l6 .5l-1 5.5l-3.5-1zM344.5 266.5l6-1l.5 5.5l-7.5 1zM356 266l3.5 .5l0 4l-4.5 1zM320.5 272l4-1l-.5 4l-4.5 1.5zM343.5 272l7.5-1l-1 5l-4.5 1.5zM355 271.5l4.5-1l1 6l-4.5-.5zM369 270.5l7.5 1l-2 3.5l-3.5 .5zM416 270l3 1.5l1.5 4l-4 0zM356 276l4.5 .5l.5 4l-5.5 .5zM389 276.5l5-1l2 4l-6.5 1.5zM305 280.5l5 .5l.5 5.5l-5-1.5zM310 281l5.5 0l0 4.5l-5 1zM326.5 281l4.5 .5l-2.5 3.5l-4 1zM361 280.5l4.5-.5l-.5 5.5l-5 .5zM365.5 280l5.5 2l-1 5l-5-1.5zM371 282l4-2l-.5 7.5l-4.5-.5zM375 280l4.5 0l-.5 6.5l-4.5 1zM385.5 280l4 1l0 4l-4.5 0zM389.5 281l6.5-1.5l-.5 7.5l-6-2zM404.5 282.5l6.5-2.5l-2 6l-4.5-.5zM305.5 285l5 1.5l-1 3.5l-5 .5zM321 286l3.5 0l0 5l-5.5 0zM324.5 286l4-1l2.5 7l-6.5-1zM344 286l7 .5l-1.5 3l-3.5 1.5zM355 285l5 1l1.5 5l-7-.5zM365 285.5l5 1.5l1.5 2.5l-8 1.5zM370 287l4.5 .5l-.5 2.5l-2.5-.5zM389.5 285l6 2l0 3.5l-5 1zM401 287l3.5-1.5l-.5 5l-5 1zM414 287l7-2.5l0 7.5l-7-1zM309.5 290l5-.5l1 7.5l-6-1.5zM319 291l5.5 0l-.5 5.5l-3.5-1.5zM331 292l4.5-2.5l-2 5.5l-4 2zM349.5 289.5l5 1l2 4l-7.5 .5zM354.5 290.5l7 .5l-.5 6.5l-4.5-3zM363.5 291l8-1.5l-1 8l-4-1.5zM371.5 289.5l2.5 .5l1.5 6l-5 1.5zM395.5 290.5l3.5 1l1.5 5.5l-5 0zM404 290.5l5 1.5l.5 3.5l-5 .5zM409 292l5-1l1.5 5.5l-6-1zM300 297l4.5-1l1.5 5.5l-6 1zM309.5 295.5l6 1.5l0 5.5l-5.5-1.5zM320.5 295l3.5 1.5l2 5l-6 .5zM324 296.5l5.5 .5l1.5 3l-5 1.5zM339 295.5l6-.5l-1 5.5l-4 0zM375.5 296l3.5-.5l1 5l-4 0zM379 295.5l6.5-.5l-1.5 5l-4 .5zM389.5 295l6 2l-.5 4.5l-4.5 0zM395.5 297l5 0l-1.5 4l-4 .5zM400.5 297l4-1l.5 5l-6 0zM409.5 295.5l6 1l-.5 5l-6-1zM415.5 296.5l4 .5l0 5l-4.5-.5zM419.5 297l5 .5l0 3.5l-5 1zM300 302.5l6-1l-.5 5l-5.5 0zM306 301.5l4-.5l.5 6.5l-5-1zM320 302l6-.5l.5 5.5l-8 0zM326 301.5l5-1.5l0 4.5l-4.5 2.5zM335.5 302.5l4.5-2l-.5 4.5l-5.5 1.5zM399 301l6 0l1 4.5l-7 .5zM409 300.5l6 1l1 3.5l-6.5 .5zM419.5 302l5-1l2 5l-5.5 1zM424.5 301l5.5 .5l0 3.5l-3.5 1zM310.5 307.5l5-2.5l-1 7l-5-1.5zM331 304.5l3 2l1.5 3l-6 .5zM334 306.5l5.5-1.5l-.5 7l-3.5-2.5zM399 306l7-.5l-.5 5.5l-6-.5zM409.5 305.5l6.5-.5l-1.5 6l-5.5-.5zM426.5 306l3.5-1l-.5 5.5l-5 .5zM430 305l6 1.5l-1.5 4l-5 0zM399.5 310.5l6 .5l1 5.5l-7-.5zM419 310l5.5 1l2 6l-6.5-1.5zM424.5 311l5-.5l1 6.5l-4 0zM429.5 310.5l5 0l-.5 5.5l-3.5 1zM406.5 316.5l4-1.5l-.5 6.5l-4-1zM410.5 315l5 1l-2 4.5l-3.5 1zM430.5 317l3.5-1l2 3.5l-7 1.5zM434 316l7.5 1l-2 3.5l-3.5-1zM408.5 327l6 0l1 3.5l-5 0zM421 325l5 .5l-2 5.5l-5 1zM430 325.5l5-.5l.5 7l-6.5-1zM420 334.5l5.5 1l.5 6.5l-4.5-2zM429 336.5l6.5-1l.5 4l-6.5 2.5zM429.5 342l6.5-2.5l-1.5 5.5l-5 0zM419 347l6.5 0l-.5 3l-4 0zM425.5 347l4-2l-.5 6.5l-4-1.5zM414 352l7-2l-1 7l-6 0zM425 350l4 1.5l2 5.5l-5.5-1.5z" fill="#d64d40" stroke="#b94c42" stroke-width="0.75"/><path d="M250 71.5l6-.5l-1.5 6.5l-4.5-.5zM250 77l4.5 .5l3 6l-7.5-.5zM254.5 77.5l6 1l.5 6l-3.5-1zM297 77.5l3 1.5l0 5.5l-3-1zM250 83l7.5 .5l-1.5 6.5l-6-1zM280.5 84l4.5 1l0 4.5l-4.5-.5zM291.5 84l5.5-.5l-.5 5l-3.5 1zM285 89.5l8 0l-.5 5.5l-7.5 1.5zM293 89.5l3.5-1l1.5 8.5l-5.5-2zM296.5 88.5l3.5 .5l0 8.5l-2-.5zM285 96.5l7.5-1.5l-1.5 5.5l-5 2zM297 100.5l3 .5l0 7l-1-1.5zM250 109.5l5.5-.5l1.5 5.5l-7 0zM255.5 109l8-1l-3 5.5l-3.5 1zM257 114.5l3.5-1l3 5l-7 2.5zM260.5 113.5l6.5 .5l-.5 4.5l-3 0zM292.5 113.5l4.5 .5l.5 7l-4-.5zM274 126.5l7-2l.5 6l-8 1.5zM250 132.5l5 .5l2 6.5l-7-.5zM267 133l6.5-1l1 5l-6 2zM286 133l5-1.5l1 7l-7 0zM297.5 130.5l2.5 .5l0 6l-1 .5zM257 139.5l3.5-2l.5 6.5l-4-1zM268.5 139l6-2l.5 7.5l-7-1.5zM268 143l7 1.5l.5 6l-8.5 .5zM279 142.5l5.5 .5l0 5.5l-5.5 1.5zM284.5 143l9 1.5l-3 7l-6-3zM275.5 150.5l3.5-.5l2 4.5l-7 2.5zM298 150l2 .5l0 6l-3-2zM274 157l7-2.5l-2 6l-5.5 1zM260.5 162l8-1.5l-1.5 7.5l-4-1zM279 160.5l6.5 0l1.5 8l-8.5-1zM299.5 163.5l.5-2.5l0 8.5l-.5-1.5zM263 167l4 1l2 7.5l-6-2.5zM278.5 167.5l8.5 1l-2.5 6.5l-4.5 .5zM299.5 168l.5 1.5l0 4l-1 1zM250 172.5l5.5 0l1 6.5l-6.5 1.5zM291 174l8 .5l-1 4.5l-6 .5zM268.5 179l7 2.5l-1.5 6l-7.5-1.5zM275.5 181.5l5-.5l0 6.5l-6.5 0zM260.5 186l6 0l1 7.5l-5.5-1zM266.5 186l7.5 1.5l.5 4l-7 2zM280.5 187.5l6.5-.5l-2 5l-4.5-1zM287 187l5.5-2l-1.5 5.5l-6 1.5zM256.5 191.5l5.5 1l1.5 6l-7 1zM287 198.5l3.5-.5l2.5 5.5l-7-.5zM257.5 205.5l3.5-2.5l1 6.5l-4.5-.5zM280 209l4.5 0l1.5 7.5l-6 .5zM284.5 209l9 1.5l-1 5l-6.5 1zM293.5 210.5l4 .5l.5 4.5l-5.5 0zM250 217l7-2.5l-.5 6l-6.5 3zM262 214.5l5 0l1.5 6.5l-6 .5zM274 217l6 0l-1 5.5l-4.5 0zM286 222.5l7.5-1l-.5 5.5l-7 1.5zM250 228l4.5 1.5l0 5l-4.5-2zM268.5 229.5l5.5-1l0 4l-5 1zM250 232.5l4.5 2l1.5 4l-6 2zM269 233.5l5-1l.5 8l-6-1zM274 232.5l5 1.5l1.5 5l-6 1.5zM299.5 235.5l.5-.5l0 5.5l-2 1zM263.5 239.5l5 0l.5 5.5l-5.5 0zM269 245l5 2.5l0 3.5l-5 1.5zM291 245.5l7 1l-1.5 5.5l-5-.5zM298 246.5l2-2l0 8.5l-3.5-1zM291.5 251.5l5 .5l2 5.5l-7-.5zM261 256.5l8.5 1l0 7l-9-2zM298.5 263.5l1.5 1.5l0 5.5l-1.5-1.5zM261 288.5l6-2l2 6.5l-6.5 2zM285.5 288.5l7 .5l1 6.5l-6-2zM293.5 295.5l3.5-1.5l2.5 6.5l-8 0zM481 55.5l2.5-.5l1.5 6.5l-4-1zM483.5 55l6.5 2l1 4.5l-6 0zM490 57l4.5-.5l-1 5l-2.5 0zM494.5 56.5l4-.5l2 4l-7 1.5zM476 60.5l5 0l-.5 6.5l-4.5-1zM485 61.5l6 0l-2 5.5l-4-2zM491 61.5l2.5 0l1 4.5l-5.5 1zM493.5 61.5l7-1.5l-1 7l-5-1zM480.5 67l4.5-2l-1 4.5l-3.5 1.5zM485 65l4 2l1 5l-6-2.5zM484 69.5l6 2.5l-1 3l-3.5 .5zM490 72l6 0l0 3l-7 0zM496 72l5-1.5l-2 4.5l-3 0zM501 70.5l3.5 0l0 5.5l-5.5-1zM300 75.5l4.5 .5l.5 6.5l-5-.5zM304.5 76l5 .5l0 4l-4.5 2zM309.5 76.5l6-1.5l0 7l-6-1.5zM504.5 76l5-.5l0 6.5l-3-1zM300 82l5 .5l0 2.5l-5-.5zM309.5 80.5l6 1.5l-1.5 2.5l-5 2.5zM494 82l7-.5l-2 4l-4 0zM509.5 82l2.5-.5l0 5.5l-3.5-1.5zM326.5 87l4-.5l.5 6l-5.5-2.5zM349.5 86l6-1l.5 6.5l-5.5-1zM310 91l5.5 1l-.5 4l-5.5 1zM320 90l5.5 0l.5 5l-5 .5zM345 90.5l5.5 0l-1 5.5l-4.5-1.5zM350.5 90.5l5.5 1l0 5.5l-6.5-1zM360.5 91.5l6 0l-3 5l-3.5-.5zM300 94.5l5 1l0 5l-5 1zM305 95.5l4.5 1.5l-.5 4.5l-4-1zM360 96l3.5 .5l.5 4l-4-1zM363.5 96.5l7-1.5l.5 6l-7-.5zM370.5 95l5.5 2l-1.5 5.5l-3.5-1.5zM320.5 100l5 .5l-2 6l-2 1zM325.5 100.5l5 1.5l-1.5 3l-5.5 1.5zM330.5 102l4-1l1 4l-6.5 0zM360 99.5l4 1l1.5 4.5l-5.5 1.5zM371 101l3.5 1.5l-.5 3l-5 1.5zM329 105l6.5 0l-1.5 6l-3 0zM354 107l6-.5l1 6l-4.5-1.5zM360 106.5l5.5-1.5l-1 4.5l-3.5 3zM365.5 105l3.5 2l.5 3l-5-.5zM369 107l5-1.5l1 5.5l-5.5-1zM374 105.5l4.5 1l2.5 3l-6 1.5zM378.5 106.5l5.5 0l2 4l-5-1zM303.5 111l6 1.5l.5 4.5l-5.5-1zM309.5 112.5l6-1.5l.5 6l-6 0zM320.5 110l4 2l-.5 4.5l-3.5-.5zM346 112l5-1.5l-.5 4l-4.5 1.5zM351 110.5l5.5 .5l-1 6.5l-5-3zM356.5 111l4.5 1.5l-.5 2.5l-5 2.5zM361 112.5l3.5-3l0 6l-4-.5zM369.5 110l5.5 1l0 5l-6.5-.5zM381 109.5l5 1l0 4.5l-6.5 2zM300 116.5l4.5-.5l.5 5.5l-5-.5zM316 117l4.5-1l-.5 4l-5 .5zM346 116l4.5-1.5l-1.5 7l-4.5 .5zM350.5 114.5l5 3l-.5 3.5l-6 .5zM364.5 115.5l4 0l1.5 5.5l-6-1zM368.5 115.5l6.5 .5l1 4.5l-6 .5zM375 116l4.5 1l-.5 3l-3 .5zM379.5 117l6.5-2l-1 7.5l-6-2.5zM300 121l5 .5l1.5 5l-6.5-1.5zM315 120.5l5-.5l-1 7l-4.5 .5zM344.5 122l4.5-.5l.5 4.5l-5.5-.5zM361 121l3-1l.5 5l-3 2zM364 120l6 1l0 4l-5.5 0zM370 121l6-.5l-1 6l-5-1.5zM376 120.5l3-.5l2 7.5l-6-1zM385 122.5l4-.5l0 3l-4 2zM300 125l6.5 1.5l-1 4.5l-5.5 1zM306.5 126.5l5-1l-3 5l-3 .5zM314.5 127.5l4.5-.5l1.5 4.5l-5-1.5zM324.5 125.5l6.5-.5l0 5.5l-5 1.5zM336.5 127.5l2.5-1l.5 5l-4-1.5zM339 126.5l5-1l0 6.5l-4.5-.5zM349.5 126l5 1.5l-.5 2.5l-2.5 1zM354.5 127.5l7-.5l-2.5 2.5l-5 .5zM361.5 127l3-2l1.5 5.5l-7-1zM364.5 125l5.5 0l-1.5 7l-2.5-1.5zM370 125l5 1.5l1 4l-7.5 1.5zM375 126.5l6 1l.5 2.5l-5.5 .5zM381 127.5l4-.5l-.5 4.5l-3-1.5zM300 132l5.5-1l-1.5 5.5l-4-.5zM320.5 131.5l5.5 .5l0 3l-5.5 .5zM326 132l5-1.5l0 5l-5-.5zM331 130.5l4.5-.5l-.5 5.5l-4 0zM359 129.5l7 1l-1.5 4.5l-6 1.5zM366 130.5l2.5 1.5l1.5 4.5l-5.5-1.5zM368.5 132l7.5-1.5l-1.5 5.5l-4.5 .5zM376 130.5l5.5-.5l-2.5 4.5l-4.5 1.5zM381.5 130l3 1.5l.5 5l-6-2zM430 131l4.5-1l.5 7l-4.5 0zM315 136l5.5-.5l-.5 5l-4.5 0zM320.5 135.5l5.5-.5l-2 5.5l-4 0zM326 135l5 .5l-1 6l-6-1zM331 135.5l4 0l-.5 4.5l-4.5 1.5zM339 136.5l6.5 .5l-1.5 5l-4.5-1zM345.5 137l5-1l-1 6.5l-5.5-.5zM350.5 136l5.5-1.5l-2 6.5l-4.5 1.5zM356 134.5l2.5 2l1.5 5l-6-.5zM358.5 136.5l6-1.5l1.5 5l-6 1.5zM364.5 135l5.5 1.5l1 5l-5-1.5zM370 136.5l4.5-.5l0 5l-3.5 .5zM374.5 136l4.5-1.5l0 6l-4.5 .5zM379 134.5l6 2l.5 5l-6.5-1zM399.5 135.5l4.5 .5l.5 4l-6 1zM404 136l6-.5l1 5.5l-6.5-1zM430.5 137l4.5 0l1 4l-7.5 1zM309.5 140.5l6 0l.5 5.5l-6 0zM324 140.5l6 1l.5 3.5l-6 0zM334.5 140l5 1l1 6.5l-5-1zM339.5 141l4.5 1l1.5 4l-5 1.5zM344 142l5.5 .5l0 2l-4 1.5zM349.5 142.5l4.5-1.5l.5 4.5l-5-1zM354 141l6 .5l-.5 5l-5-1zM360 141.5l6-1.5l-2 5.5l-4.5 1zM366 140l5 1.5l-.5 3.5l-6.5 .5zM374.5 141l4.5-.5l2.5 6l-5.5-1zM385.5 141.5l5.5 0l-1 5.5l-4.5-2zM404.5 140l6.5 1l-1 6l-5.5 .5zM441 140l5.5 0l-1 5.5l-5-1zM469.5 141l7-.5l-2.5 5.5l-3.5 1zM300 144.5l5 1l1 5.5l-6-1zM305 145.5l5 .5l-1 5l-3 0zM310 146l6 0l0 4.5l-7 .5zM320.5 146l4-1l1 4.5l-4.5 1zM330.5 145l5 1.5l-1 3.5l-4 0zM335.5 146.5l5 1l-1.5 4.5l-4.5-2zM340.5 147.5l5-1.5l-.5 6l-6 0zM359.5 146.5l4.5-1l2 6.5l-7-2zM364 145.5l6.5-.5l-1.5 6l-3 1zM370.5 145l5.5 .5l0 6.5l-7-1zM376 145.5l5.5 1l-2.5 4l-3 1.5zM381.5 146.5l4-1.5l0 7l-6.5-1.5zM385.5 145l4.5 2l1 5l-5.5 0zM390 147l4.5-.5l1 5l-4.5 .5zM394.5 146.5l7-1l-2.5 5l-3.5 1zM404.5 147.5l5.5-.5l.5 5l-4.5-1zM429.5 144.5l5.5 1.5l.5 3.5l-5 1.5zM456 146.5l2.5 .5l2 5l-4.5-1zM306 151l3 0l1 5l-3.5-1.5zM309 151l7-.5l0 5.5l-6 0zM325.5 149.5l5 .5l-1 7l-4.5-2zM330.5 150l4 0l2 6l-7 1zM334.5 150l4.5 2l-.5 3l-2 1zM339 152l6 0l0 5l-6.5-2zM345 152l5-1l-1 5l-4 1zM350 151l3.5 .5l.5 4l-5 .5zM353.5 151.5l5.5-1.5l1.5 5l-6.5 .5zM366 152l3-1l2.5 6.5l-6.5-1.5zM369 151l7 1l-1 3.5l-3.5 2zM376 152l3-1.5l1 4.5l-5 .5zM379 150.5l6.5 1.5l0 3l-5.5 0zM385.5 152l5.5 0l-2.5 5l-3-2zM391 152l4.5-.5l1 4l-8 1.5zM395.5 151.5l3.5-1l1.5 4l-4 1zM399 150.5l7 .5l-1.5 5l-4-1.5zM406 151l4.5 1l-1.5 3.5l-4.5 .5zM319.5 155l5.5 0l-.5 5.5l-6-.5zM325 155l4.5 2l-.5 4l-4.5-.5zM338.5 155l6.5 2l1 3.5l-5.5-.5zM349 156l5-.5l0 6l-5 .5zM354 155.5l6.5-.5l-1.5 6.5l-5 0zM360.5 155l4.5 1l-1 6l-5-.5zM365 156l6.5 1.5l-2.5 4l-5 .5zM371.5 157.5l3.5-2l-1 5.5l-5 .5zM375 155.5l5-.5l-1 5l-5 1zM388.5 157l8-1.5l-2 6l-3.5 0zM396.5 155.5l4-1l-1.5 6.5l-4.5 .5zM400.5 154.5l4 1.5l0 5.5l-5.5-.5zM409 155.5l5-.5l2 6l-7 0zM454.5 156l6 .5l-1 4l-3-.5zM300 162l5-1.5l0 6l-5-2zM305 160.5l5.5 .5l-1.5 6l-4-.5zM324.5 160.5l4.5 .5l0 5l-4 1zM329 161l6.5-.5l.5 6l-7-.5zM335.5 160.5l5-.5l.5 7l-5-.5zM340.5 160l5.5 .5l-1 5.5l-4 1zM346 160.5l3 1.5l1 3.5l-5 .5zM349 162l5-.5l0 4.5l-4-.5zM354 161.5l5 0l2.5 5.5l-7.5-1zM359 161.5l5 .5l1.5 3.5l-4 1.5zM369 161.5l5-.5l2 4.5l-6.5 0zM374 161l5-1l.5 4.5l-3.5 1zM385 159.5l6 2l-.5 5l-4 0zM394.5 161.5l4.5-.5l.5 5.5l-3.5 0zM404.5 161.5l4.5-.5l.5 6l-5-.5zM409 161l7 0l-1 4l-5.5 2zM416 161l4.5-1.5l-1 5.5l-4.5 0zM420.5 159.5l4 2.5l-.5 5.5l-4.5-2.5zM441 161.5l4.5-1l-1 6l-5 0zM305 166.5l4 .5l0 3.5l-3.5 1.5zM325 167l4-1l0 4.5l-3.5 .5zM329 166l7 .5l-1 3.5l-6 .5zM345 166l5-.5l0 6l-4 .5zM350 165.5l4 .5l-.5 5l-3.5 .5zM361.5 167l4-1.5l.5 4.5l-5 1.5zM369.5 165.5l6.5 0l-1.5 6.5l-5 .5zM376 165.5l3.5-1l2 8l-7-.5zM379.5 164.5l7 2l-2 5l-3 1zM386.5 166.5l4 0l-1.5 5.5l-4.5-.5zM390.5 166.5l5.5 0l0 5.5l-7 0zM396 166.5l3.5 0l-.5 3.5l-3 2zM404.5 166.5l5 .5l-.5 3.5l-3.5 0zM409.5 167l5.5-2l1 6.5l-7-1zM415 165l4.5 0l1.5 5.5l-5 1zM424 167.5l7-1.5l-1.5 5.5l-4-1.5zM325.5 171l3.5-.5l2.5 5.5l-5-.5zM335 170l4 1.5l1.5 6l-5.5-3zM350 171.5l3.5-.5l1 6l-5 0zM361 171.5l5-1.5l-1 5.5l-6.5-.5zM366 170l3.5 2.5l0 3.5l-4.5-.5zM369.5 172.5l5-.5l-.5 4l-4.5 0zM381.5 172.5l3-1l0 4.5l-4.5 0zM389 172l7 0l-2.5 4.5l-2.5-1zM405.5 170.5l3.5 0l.5 5l-5.5 .5zM326.5 175.5l5 .5l-1.5 3.5l-6 2zM331.5 176l3.5-1.5l-1 7.5l-4-2.5zM335 174.5l5.5 3l-.5 3l-6 1.5zM349.5 177l5 0l-.5 3.5l-4 1.5zM354.5 177l4-2l1.5 6l-6-.5zM358.5 175l6.5 .5l0 5l-5 .5zM369.5 176l4.5 0l1.5 5l-6.5 1zM384.5 176l6.5-.5l-1 4.5l-4 2zM391 175.5l2.5 1l1 5l-4.5-1.5zM401 176.5l3-.5l1 6l-4.5-.5zM419.5 175l4.5 2l2 3l-5.5 0zM309 182l6-1.5l-1 5l-4.5 .5zM315 180.5l4 1.5l.5 3.5l-5.5 0zM319 182l5-.5l2 5l-6.5-1zM334 182l6-1.5l1 5l-7-.5zM340 180.5l4.5 1l1 5l-4.5-1zM344.5 181.5l5.5 .5l.5 4.5l-5 0zM354 180.5l6 .5l1 3.5l-5 .5zM360 181l5-.5l0 5l-4-1zM365 180.5l4 1.5l0 5l-4-1.5zM369 182l6.5-1l-1 5.5l-5.5 .5zM375.5 181l4.5 1l-.5 5l-5-.5zM380 182l6 0l.5 4.5l-7 .5zM386 182l4-2l-.5 6.5l-3 0zM394.5 181.5l6 0l-1.5 3.5l-3 2zM405 182l5.5-1l.5 4.5l-5 .5zM415 181l5.5-1l-.5 6.5l-6-2zM319.5 185.5l6.5 1l-1 5l-4.5-1zM326 186.5l3.5-1.5l1 5l-5.5 1.5zM329.5 185l4.5 0l.5 7.5l-4-2.5zM345.5 186.5l5 0l-1.5 5l-4 0zM350.5 186.5l5.5-1.5l-1 6l-6 .5zM356 185l5-.5l-.5 5.5l-5.5 1zM361 184.5l4 1l-1.5 4.5l-3 0zM369 187l5.5-.5l0 5l-5-1zM374.5 186.5l5 .5l2 3.5l-7 1zM379.5 187l7-.5l-1.5 4.5l-3.5-.5zM386.5 186.5l3 0l-.5 3l-4 1.5zM389.5 186.5l6.5 .5l-2 3.5l-5-1zM396 187l3-2l1 6.5l-6-1zM304 190l6.5 0l-.5 5l-5 2zM320.5 190.5l4.5 1l-.5 6l-6-2.5zM325 191.5l5.5-1.5l-1.5 5l-4.5 2.5zM330.5 190l4 2.5l-.5 3.5l-5-1zM341 190.5l4 1l-1.5 4.5l-4 1zM349 191.5l6-.5l-.5 4l-3 2zM355 191l5.5-1l0 5l-6 0zM363.5 190l6 .5l-1 5l-2.5 .5zM369.5 190.5l5 1l1.5 5.5l-7.5-1.5zM374.5 191.5l7-1l-1.5 7l-4-.5zM385 191l4-1.5l1.5 7l-6.5-2zM394 190.5l6 1l0 4.5l-6 1zM324.5 197.5l4.5-2.5l1.5 6.5l-5 .5zM334 196l5.5 1l1 3l-5.5-.5zM343.5 196l8 1l-3 3.5l-3 1zM351.5 197l3-2l.5 4.5l-6.5 1zM354.5 195l6 0l-.5 7l-5-2.5zM360.5 195l5.5 1l-1 5.5l-5 .5zM366 196l2.5-.5l3 5l-6.5 1zM368.5 195.5l7.5 1.5l0 3l-4.5 .5zM376 197l4 .5l-.5 5l-3.5-2.5zM390.5 196.5l3.5 .5l1.5 4l-4.5-1.5zM306 202l4-.5l1 5.5l-5.5-1zM310 201.5l4.5-1l.5 5l-4 1.5zM320.5 201.5l5 .5l-.5 5l-3.5-1.5zM330.5 201.5l4.5-2l0 5.5l-5.5 .5zM340.5 200l5 1.5l.5 3.5l-5.5 2.5zM345.5 201.5l3-1l0 6l-2.5-1.5zM348.5 200.5l6.5-1l-1.5 6l-5 1zM355 199.5l5 2.5l1.5 5l-8-1.5zM360 202l5-.5l-.5 3.5l-3 2zM365 201.5l6.5-1l-2 6l-5-1.5zM371.5 200.5l4.5-.5l-1.5 6.5l-5 0zM391 199.5l4.5 1.5l-.5 5.5l-5.5-1.5zM395.5 201l3.5 1.5l.5 3l-4.5 1zM399 202.5l5.5-2.5l1 7l-6-1.5zM300 205.5l5.5 .5l-1 4l-4.5 1.5zM315 205.5l6.5 0l-.5 5l-5.5 0zM321.5 205.5l3.5 1.5l0 5.5l-4-2zM325 207l4.5-1.5l0 5.5l-4.5 1.5zM329.5 205.5l5.5-.5l-.5 5.5l-5 .5zM335 205l5.5 2.5l-1 3.5l-5-.5zM340.5 207.5l5.5-2.5l0 7.5l-6.5-1.5zM348.5 206.5l5-1l1 5l-3.5 1zM353.5 205.5l8 1.5l-.5 3.5l-6.5 0zM361.5 207l3-2l0 6.5l-3.5-1zM364.5 205l5 1.5l-.5 5l-4.5 0zM369.5 206.5l5 0l1 5.5l-6.5-.5zM389.5 205l5.5 1.5l0 3.5l-4 2zM395 206.5l4.5-1l1.5 7l-6-2.5zM399.5 205.5l6 1.5l0 3l-4.5 2.5zM304.5 210l4.5 1l1.5 4.5l-5.5 1.5zM325 212.5l4.5-1.5l.5 4l-5 2.5zM329.5 211l5-.5l2 5.5l-6.5-1zM339.5 211l6.5 1.5l-.5 4.5l-5-.5zM346 212.5l5-1l-.5 4.5l-5 1zM354.5 210.5l6.5 0l-.5 5.5l-5 0zM369 211.5l6.5 .5l-.5 3l-3.5 2zM375.5 212l3.5-1.5l1.5 4.5l-5.5 0zM305 217l5.5-1.5l.5 5.5l-6 1.5zM310.5 215.5l5.5-1l-2 7.5l-3-1zM365.5 216l6 1l-3 5l-3-1.5zM389 216l7.5 1l-1.5 4l-4.5 .5zM396.5 217l3-1l1.5 5l-6 0zM456.5 217l2.5-.5l2 4l-5-1zM311 221l3 1l1.5 3.5l-4.5-.5zM339.5 220.5l4.5-.5l0 6l-5 .5zM344 220l6.5 1l.5 4l-7 1zM365.5 220.5l3 1.5l2.5 5l-4.5-.5zM390.5 221.5l4.5-.5l-1 4.5l-4 .5zM346 230.5l4 1l-1 4.5l-3 1zM349 236l6-1l1 6l-5-1zM361.5 237l3.5-.5l0 5l-4-1.5zM339 250l7 2l-1.5 2.5l-5.5 3zM300 266.5l6-.5l-1.5 5.5l-4.5-1.5zM304.5 271.5l5.5-1l0 5l-4.5-.5zM300 275l5.5 0l-.5 5.5l-5 0zM300 280.5l5 0l.5 4.5l-5.5 2.5zM300 287.5l5.5-2.5l-1 5.5l-4.5 0zM310.5 286.5l5-1l-1 4l-5 .5zM315.5 285.5l5.5 .5l-2 5l-4.5-1.5zM360 286l5-.5l-1.5 5.5l-2 0zM300 290.5l4.5 0l0 5.5l-4.5 1zM314.5 289.5l4.5 1.5l1.5 4l-5 2zM324.5 291l6.5 1l-1.5 5l-5.5-.5zM390.5 291.5l5-1l0 6.5l-6-2zM399 291.5l5-1l.5 5.5l-4 1zM421 292l3.5-1l0 6.5l-5-.5zM329.5 297l4-2l2 7.5l-4.5-2.5zM333.5 295l5.5 .5l1 5l-4.5 2zM404.5 296l5-.5l-.5 5l-4 .5zM310 301l5.5 1.5l0 2.5l-5 2.5zM331 300l4.5 2.5l-1.5 4l-3-2zM395 301.5l4-.5l0 5l-3.5 1zM315.5 305l3 2l1 3.5l-5 1.5zM318.5 307l8 0l-1.5 4l-5.5-.5zM326.5 307l4.5-2.5l-1.5 5.5l-4.5 1zM406 305.5l3.5 0l-.5 5l-3.5 .5zM410 321.5l3.5-1l1 6.5l-6 0zM413.5 320.5l6 2l1.5 2.5l-6.5 2z" fill="#b0121b" stroke="#b94c42" stroke-width="0.75"/>
<path d="M298.0,93.3 L307.3,94.2 L311.4,91.6 L324.1,93.3 L331.9,83.2 L328.9,89.4 L337.6,93.7 L349.3,91.5 L362.0,91.5 L360.5,85.6 L327.3,76.4 L320.5,73.2 L318.2,76.9 L306.9,83.4 L298.0,93.3 Z" fill="#ee9a8c" stroke="#5a3a35" stroke-width="0.6"/>
<path d="M288.7,74 L299,76 L299,105 L288.7,105 Z" fill="#b5121c" stroke="#8a2a2a" stroke-width="0.5"/>
<path d="M299,79 L306,78 L306,87 L299,88 Z" fill="#f6d2ca"/>
<path d="M341.7,101.8 L338.6,117.8 L336.4,136.3 L339.9,148.3 L341.1,153.1 L345.6,152.8 L349.6,146.3 L351.3,135.2 L347.7,123.2 L355.2,110.4 L361.1,100.1 L358.5,99.1 L349.9,98.7 L341.7,101.8 Z" fill="#d0604f" stroke="#5a3a35" stroke-width="0.7"/>
<path d="M345,108 L349,110 L353,107 L352,112 L353,116 L349,114 L345,116 L347,112 Z" fill="#fbe3dd"/>
<path d="M31.4,67.3 L37.7,69.9 L40.1,77.7 L52.6,80.2 L66.6,80.1 L71.9,80.4 L89.0,84.0M95.2,48.6 L89.0,78.9 L89.0,84.0M89.0,84.0 L91.4,90.6 L82.6,103.7 L82.6,111.2 L78.4,131.5M16.1,116.7 L131.0,140.7M52.5,125.9 L44.2,161.8 L84.2,220.6M84.2,220.6 L87.5,230.0 L80.0,240.0 L78.3,248.3M104.6,136.5 L92.1,208.1 L85.7,208.3 L84.2,220.6M94.0,197.2 L277.7,212.4M141.0,204.2 L132.1,274.0M147.2,155.3 L141.0,204.2M131.0,140.7 L129.3,152.8 L210.2,161.2M103.1,50.2 L100.8,61.9 L102.6,68.3 L110.5,75.9 L112.1,81.0 L108.6,91.4 L114.0,94.8 L116.0,103.8 L123.7,109.9 L131.6,109.9 L135.4,110.5M136.3,104.5 L131.0,140.7M136.3,104.5 L196.1,111.3M199.9,63.4 L192.2,159.9M210.2,161.2 L207.2,210.5M209.4,173.5 L271.2,175.4M198.1,209.9 L197.7,216.1 L193.3,271.7 L157.7,268.6M197.7,216.1 L226.3,217.7 L225.3,241.7 L233.1,244.0 L239.8,247.9 L249.6,250.7 L258.4,252.7 L269.3,250.9 L279.4,254.1M197.0,99.9 L260.5,102.8M255.4,66.1 L257.1,79.3 L258.5,94.9 L260.5,102.8 L261.3,110.6 L261.1,132.4M194.1,135.5 L243.0,138.2 L251.7,140.8 L261.0,144.6M259.8,132.4 L261.0,144.6M261.1,132.4 L306.9,131.8M261.0,144.6 L264.9,156.9 L266.9,168.2M266.9,168.2 L306.5,167.3M298.0,93.3 L296.6,101.8 L293.4,109.1 L292.7,117.0 L299.7,121.1 L306.9,131.8 L312.5,143.8 L314.3,156.0 L306.5,167.3 L307.1,178.4 L318.5,187.8 L329.6,210.7 L325.1,223.4 L321.8,236.0 L313.6,248.8 L312.4,261.2 L313.6,273.6 L309.0,286.1M271.2,175.4 L277.7,186.5 L277.8,212.4 L277.7,218.6M277.7,218.6 L320.4,217.4 L318.6,223.7 L325.1,223.4M279.6,218.6 L279.7,232.2 L279.4,254.1 L283.8,261.9M283.8,261.9 L312.4,261.2M283.8,261.9 L284.0,274.3 L289.1,286.7 L287.6,299.1 L286.4,302.8M309.0,286.1 L328.0,285.3 L330.6,295.4M312.5,143.8 L337.7,142.3M340.7,151.2 L343.2,185.1 L343.0,191.3 L339.9,200.2M343.7,151.0 L365.1,149.1 L377.2,148.6M365.0,149.9 L368.1,181.7M329.6,210.7 L339.9,200.2 L344.5,198.6 L353.7,196.7 L363.1,185.9 L368.1,181.7 L379.0,185.6 L389.6,188.1 L396.0,179.8 L403.3,171.4 L405.1,158.7M405.0,158.3 L402.8,141.7M326.6,217.1 L340.9,215.0 L400.9,209.1M381.9,211.4 L396.8,200.9 L396.8,197.8 L389.6,188.1M319.9,236.1 L377.9,231.7M377.9,231.7 L385.1,224.7 L394.0,217.5 L400.9,209.1M401.0,209.7 L455.8,201.3M340.3,234.9 L341.1,247.3 L341.0,284.6 L342.0,291.9M365.5,232.9 L372.0,258.5 L375.0,265.7 L376.1,281.8M376.1,281.8 L349.7,284.0 L351.3,292.9M376.1,281.8 L377.8,285.3 L404.9,282.3 L412.5,281.4M389.7,230.5 L399.9,241.7 L404.9,249.9 L415.8,264.1M377.9,231.7 L389.7,230.5M389.7,230.5 L396.2,227.2 L409.2,225.6 L412.2,230.1 L422.8,228.6 L435.8,238.6M396.8,200.9 L405.9,197.3 L414.5,191.1 L418.1,183.0 L427.3,175.4 L432.1,170.9M432.1,170.9 L425.2,168.2 L416.5,170.8 L416.1,168.1M406.6,169.5 L449.5,162.6M406.6,169.5 L405.0,158.3M432.1,170.9 L439.4,174.7 L441.5,181.8 L448.6,184.3M449.5,162.6 L452.3,178.0 L459.1,176.7M409.0,137.5 L409.5,140.8 L448.2,134.3 L455.6,141.0M455.6,141.0 L463.5,143.9M455.6,141.0 L452.8,151.0 L456.9,157.7 L452.2,162.4M458.4,95.0 L462.3,111.6 L464.7,121.7 L464.4,130.5 L465.0,142.3 L465.7,143.4M474.0,91.7 L474.5,97.8 L470.9,109.8 L471.7,120.5M464.7,122.0 L485.2,117.5M464.5,130.8 L479.3,127.6 L481.2,136.3M483.0,126.9 L486.1,131.5M476.7,87.4 L485.9,112.7M312.4,94.0 L324.6,100.6 L337.2,110.6" fill="none" stroke="#3a3a3a" stroke-width="0.6"/></g>
<path d="M35.6,41.5 L40.0,44.5 L45.0,44.0 L48.8,38.7 L60.4,41.5 L71.9,45.0 L80.0,47.3 L100.0,52.0 L120.0,56.0 L138.5,59.0 L157.0,62.0 L175.0,64.6 L194.0,66.8 L212.0,68.3 L231.0,69.5 L249.0,70.0 L271.0,70.0 L272.0,65.0 L274.5,65.0 L277.5,74.0 L289.0,75.0 L300.0,78.5 L305.0,77.8 L313.8,78.6 L320.8,77.8 L326.0,77.0 L334.6,80.4 L343.0,83.8 L350.0,87.3 L355.4,90.8 L360.5,94.2 L367.5,98.5 L372.7,102.0 L377.9,104.6 L381.3,111.5 L384.5,120.0 L384.6,128.5 L381.5,137.7 L378.5,143.8 L383.0,148.5 L387.7,145.4 L395.4,142.3 L404.6,137.7 L409.0,133.0 L412.3,128.5 L412.3,122.3 L418.5,120.8 L427.7,118.5 L432.3,113.0 L433.8,108.5 L437.0,103.8 L444.0,99.0 L450.0,95.5 L455.0,95.0 L460.8,92.7 L466.5,90.4 L472.3,88.0 L474.6,84.6 L476.9,78.8 L478.0,73.0 L479.2,66.1 L482.7,58.1 L488.5,58.1 L491.9,56.9 L494.2,59.2 L496.5,67.3 L498.8,73.0 L502.3,75.4 L505.7,78.8 L509.2,82.3 L506.9,84.6 L503.4,88.0 L498.8,92.7 L494.2,97.3 L489.6,100.8 L486.1,104.2 L485.0,110.0 L486.1,115.7 L486.5,119.0 L490.6,122.0 L496.0,130.2 L490.6,133.0 L483.8,134.2 L475.8,138.3 L470.4,142.3 L465.0,147.7 L463.6,153.0 L463.6,158.5 L462.3,163.8 L459.6,169.2 L458.3,174.6 L457.0,181.3 L455.6,188.0 L456.2,196.0 L458.5,202.7 L463.0,210.4 L461.5,216.5 L457.0,222.7 L450.8,227.3 L444.6,235.0 L438.5,239.6 L433.8,244.2 L429.2,250.4 L424.6,255.0 L420.0,259.6 L417.0,265.8 L415.4,273.5 L415.4,281.2 L417.0,287.0 L420.0,290.8 L423.8,296.5 L427.7,304.2 L431.5,312.0 L435.4,319.6 L438.3,325.4 L439.2,331.0 L438.3,338.0 L436.3,342.7 L433.5,346.5 L429.6,349.4 L423.8,352.3 L419.0,353.3 L416.2,354.0 L418.0,351.5 L424.0,349.0 L428.7,343.7 L426.7,340.8 L422.0,338.0 L418.0,334.0 L414.2,330.2 L411.3,325.4 L407.5,321.5 L404.6,316.7 L403.7,312.0 L402.7,307.1 L398.8,302.3 L396.0,298.0 L392.0,294.0 L384.6,293.3 L380.8,296.0 L377.0,298.0 L373.0,296.0 L369.2,293.3 L363.5,291.3 L357.7,292.3 L352.0,293.3 L344.2,294.2 L339.4,298.0 L338.5,303.8 L336.5,309.6 L330.8,307.7 L323.0,309.6 L315.4,307.7 L307.7,303.8 L300.0,303.8 L295.0,302.5 L285.0,304.0 L277.5,307.5 L267.5,312.5 L260.0,319.2 L255.4,322.3 L250.8,327.0 L249.2,333.0 L249.2,340.8 L250.8,348.5 L246.2,347.7 L238.5,345.4 L232.3,340.8 L227.7,331.5 L223.0,325.4 L218.5,317.7 L215.4,311.5 L210.8,305.4 L206.2,302.3 L200.0,300.8 L195.4,302.3 L192.3,305.4 L189.2,308.5 L185.0,306.5 L180.5,302.0 L176.2,296.0 L173.0,290.0 L170.0,285.4 L165.4,279.2 L160.8,274.6 L157.7,270.8 L143.8,271.5 L142.3,273.0 L136.2,274.6 L130.0,273.0 L119.2,271.5 L110.6,269.8 L105.4,265.5 L95.0,260.3 L84.6,255.0 L76.8,250.8 L76.0,249.0 L63.8,246.4 L53.5,244.7 L52.5,239.6 L49.8,234.2 L47.1,228.8 L41.7,224.8 L36.3,220.8 L31.0,216.7 L26.9,212.7 L25.6,207.3 L22.9,199.2 L20.2,191.0 L18.8,183.0 L17.5,176.3 L16.2,169.6 L14.8,165.6 L12.1,157.5 L10.8,148.0 L11.4,140.0 L12.7,131.5 L15.0,124.6 L16.7,117.7 L17.3,108.5 L20.8,103.8 L24.2,96.9 L27.7,87.7 L31.1,78.5 L33.4,70.4 L34.6,60.0 L35.0,53.0 L34.4,46.0 Z" fill="none" stroke="#333" stroke-width="1.0"/>
<ellipse cx="26" cy="220.5" rx="3" ry="1" fill="#3a3a3a" stroke="#222" stroke-width="0.4"/><ellipse cx="31.5" cy="222" rx="2.5" ry="1" fill="#3a3a3a" stroke="#222" stroke-width="0.4"/><ellipse cx="36.5" cy="222.8" rx="2" ry="1" fill="#3a3a3a" stroke="#222" stroke-width="0.4"/><ellipse cx="31.5" cy="230" rx="1" ry="1" fill="#3a3a3a" stroke="#222" stroke-width="0.4"/><ellipse cx="37" cy="233.5" rx="1" ry="1.3" fill="#3a3a3a" stroke="#222" stroke-width="0.4"/><ellipse cx="41" cy="238" rx="1" ry="1.6" fill="#3a3a3a" stroke="#222" stroke-width="0.4"/><ellipse cx="33" cy="236.5" rx="0.8" ry="0.8" fill="#3a3a3a" stroke="#222" stroke-width="0.4"/><g fill="#2d5aa5" stroke="#15204a" stroke-width="1"><circle cx="46.2" cy="60.0" r="2.3"/><circle cx="50.0" cy="57.5" r="2.3"/><circle cx="48.0" cy="58.5" r="2.3"/><circle cx="53.8" cy="66.2" r="2.3"/><circle cx="90.0" cy="66.2" r="2.3"/><circle cx="42.5" cy="79.5" r="2.3"/><circle cx="34.5" cy="96.2" r="2.3"/><circle cx="160.7" cy="104.0" r="2.3"/><circle cx="255.7" cy="119.0" r="2.3"/><circle cx="286.7" cy="117.7" r="2.3"/><circle cx="294.3" cy="129.3" r="2.3"/><circle cx="298.3" cy="96.7" r="2.3"/><circle cx="258.3" cy="135.7" r="2.3"/><circle cx="263.3" cy="162.7" r="2.3"/><circle cx="286.7" cy="159.0" r="2.3"/><circle cx="321.3" cy="139.0" r="2.3"/><circle cx="334.7" cy="139.0" r="2.3"/><circle cx="338.0" cy="150.0" r="2.3"/><circle cx="336.3" cy="156.7" r="2.3"/><circle cx="305.7" cy="156.7" r="2.3"/><circle cx="374.7" cy="143.3" r="2.3"/><circle cx="378.0" cy="141.7" r="2.3"/><circle cx="378.0" cy="150.0" r="2.3"/><circle cx="393.0" cy="150.0" r="2.3"/><circle cx="394.7" cy="158.3" r="2.3"/><circle cx="414.7" cy="130.0" r="2.3"/><circle cx="424.7" cy="125.0" r="2.3"/><circle cx="438.0" cy="123.3" r="2.3"/><circle cx="469.7" cy="108.3" r="2.3"/><circle cx="449.7" cy="150.0" r="2.3"/><circle cx="459.7" cy="145.0" r="2.3"/><circle cx="463.0" cy="141.7" r="2.3"/><circle cx="468.0" cy="140.0" r="2.3"/><circle cx="469.7" cy="145.0" r="2.3"/><circle cx="456.3" cy="158.3" r="2.3"/><circle cx="439.7" cy="156.7" r="2.3"/><circle cx="363.0" cy="158.3" r="2.3"/><circle cx="494.3" cy="87.7" r="2.3"/><circle cx="486.0" cy="105.0" r="2.3"/><circle cx="477.7" cy="123.3" r="2.3"/><circle cx="482.7" cy="120.0" r="2.3"/><circle cx="484.3" cy="126.7" r="2.3"/><circle cx="472.0" cy="137.0" r="2.3"/><circle cx="466.0" cy="141.0" r="2.3"/><circle cx="462.0" cy="146.0" r="2.3"/><circle cx="458.0" cy="150.0" r="2.3"/><circle cx="18.3" cy="170.0" r="2.3"/><circle cx="20.0" cy="175.0" r="2.3"/><circle cx="17.5" cy="172.0" r="2.3"/><circle cx="29.5" cy="209.5" r="2.3"/><circle cx="42.0" cy="207.5" r="2.3"/><circle cx="44.0" cy="226.0" r="2.3"/><circle cx="47.0" cy="227.0" r="2.3"/><circle cx="50.0" cy="228.3" r="2.3"/><circle cx="45.0" cy="230.0" r="2.3"/><circle cx="48.0" cy="231.0" r="2.3"/><circle cx="55.0" cy="230.0" r="2.3"/><circle cx="62.0" cy="230.5" r="2.3"/><circle cx="52.5" cy="242.0" r="2.3"/><circle cx="107.5" cy="246.0" r="2.3"/><circle cx="107.5" cy="251.0" r="2.3"/><circle cx="113.8" cy="259.0" r="2.3"/><circle cx="121.7" cy="151.7" r="2.3"/><circle cx="149.3" cy="181.7" r="2.3"/><circle cx="148.3" cy="210.0" r="2.3"/><circle cx="161.0" cy="232.3" r="2.3"/><circle cx="181.3" cy="168.3" r="2.3"/><circle cx="182.0" cy="176.7" r="2.3"/><circle cx="286.3" cy="158.3" r="2.3"/><circle cx="304.7" cy="156.7" r="2.3"/><circle cx="322.3" cy="166.0" r="2.3"/><circle cx="329.7" cy="176.7" r="2.3"/><circle cx="323.0" cy="179.0" r="2.3"/><circle cx="308.0" cy="178.3" r="2.3"/><circle cx="299.7" cy="191.7" r="2.3"/><circle cx="299.7" cy="195.0" r="2.3"/><circle cx="318.0" cy="191.7" r="2.3"/><circle cx="321.3" cy="193.3" r="2.3"/><circle cx="279.0" cy="190.0" r="2.3"/><circle cx="260.3" cy="168.3" r="2.3"/><circle cx="263.7" cy="162.7" r="2.3"/><circle cx="283.0" cy="222.7" r="2.3"/><circle cx="250.3" cy="232.7" r="2.3"/><circle cx="301.3" cy="241.7" r="2.3"/><circle cx="324.7" cy="236.0" r="2.3"/><circle cx="326.3" cy="236.7" r="2.3"/><circle cx="256.3" cy="266.0" r="2.3"/><circle cx="271.3" cy="270.7" r="2.3"/><circle cx="336.3" cy="155.0" r="2.3"/><circle cx="339.7" cy="156.7" r="2.3"/><circle cx="362.7" cy="157.3" r="2.3"/><circle cx="376.0" cy="150.0" r="2.3"/><circle cx="394.3" cy="151.7" r="2.3"/><circle cx="396.0" cy="156.7" r="2.3"/><circle cx="409.3" cy="160.0" r="2.3"/><circle cx="439.3" cy="156.7" r="2.3"/><circle cx="437.7" cy="170.0" r="2.3"/><circle cx="442.7" cy="166.7" r="2.3"/><circle cx="456.0" cy="158.3" r="2.3"/><circle cx="452.7" cy="163.3" r="2.3"/><circle cx="451.0" cy="193.3" r="2.3"/><circle cx="431.0" cy="213.3" r="2.3"/><circle cx="446.0" cy="211.7" r="2.3"/><circle cx="348.7" cy="168.3" r="2.3"/><circle cx="355.3" cy="176.0" r="2.3"/><circle cx="371.0" cy="181.7" r="2.3"/><circle cx="382.7" cy="170.0" r="2.3"/><circle cx="412.7" cy="200.0" r="2.3"/><circle cx="427.7" cy="186.7" r="2.3"/><circle cx="437.7" cy="191.7" r="2.3"/><circle cx="361.0" cy="193.3" r="2.3"/><circle cx="381.0" cy="220.0" r="2.3"/><circle cx="406.0" cy="220.0" r="2.3"/><circle cx="412.7" cy="225.0" r="2.3"/><circle cx="353.3" cy="220.0" r="2.3"/><circle cx="357.7" cy="238.3" r="2.3"/><circle cx="369.3" cy="232.7" r="2.3"/><circle cx="379.3" cy="246.7" r="2.3"/><circle cx="397.7" cy="231.7" r="2.3"/><circle cx="401.0" cy="233.3" r="2.3"/><circle cx="389.3" cy="258.3" r="2.3"/><circle cx="404.3" cy="246.7" r="2.3"/><circle cx="417.7" cy="261.7" r="2.3"/><circle cx="424.3" cy="251.7" r="2.3"/><circle cx="444.3" cy="218.3" r="2.3"/><circle cx="451.0" cy="221.7" r="2.3"/><circle cx="386.0" cy="273.3" r="2.3"/><circle cx="356.0" cy="253.3" r="2.3"/><circle cx="380.0" cy="246.3" r="2.3"/><circle cx="390.0" cy="257.5" r="2.3"/><circle cx="402.5" cy="247.5" r="2.3"/><circle cx="423.8" cy="252.5" r="2.3"/><circle cx="418.8" cy="261.3" r="2.3"/><circle cx="385.0" cy="272.5" r="2.3"/><circle cx="343.8" cy="288.8" r="2.3"/><circle cx="387.5" cy="286.3" r="2.3"/><circle cx="413.8" cy="286.3" r="2.3"/><circle cx="406.3" cy="293.8" r="2.3"/><circle cx="412.5" cy="301.3" r="2.3"/><circle cx="418.8" cy="306.3" r="2.3"/><circle cx="406.3" cy="306.3" r="2.3"/><circle cx="408.8" cy="313.8" r="2.3"/><circle cx="407.5" cy="317.5" r="2.3"/><circle cx="418.8" cy="327.5" r="2.3"/><circle cx="436.3" cy="325.0" r="2.3"/><circle cx="437.5" cy="330.0" r="2.3"/><circle cx="436.3" cy="336.3" r="2.3"/><circle cx="255.7" cy="265.0" r="2.3"/><circle cx="250.3" cy="286.7" r="2.3"/><circle cx="246.3" cy="295.0" r="2.3"/><circle cx="238.7" cy="305.0" r="2.3"/><circle cx="270.7" cy="303.3" r="2.3"/><circle cx="250.3" cy="327.3" r="2.3"/><circle cx="327.3" cy="297.3" r="2.3"/><circle cx="343.7" cy="288.3" r="2.3"/><circle cx="455.0" cy="148.0" r="2.3"/><circle cx="458.0" cy="146.0" r="2.3"/><circle cx="461.0" cy="144.0" r="2.3"/><circle cx="464.0" cy="142.5" r="2.3"/><circle cx="467.0" cy="141.5" r="2.3"/><circle cx="470.0" cy="140.5" r="2.3"/><circle cx="473.0" cy="139.5" r="2.3"/><circle cx="476.0" cy="138.5" r="2.3"/><circle cx="437.0" cy="172.0" r="2.3"/><circle cx="439.0" cy="170.0" r="2.3"/><circle cx="441.0" cy="168.0" r="2.3"/><circle cx="443.0" cy="166.0" r="2.3"/><circle cx="440.0" cy="175.0" r="2.3"/><circle cx="438.0" cy="177.0" r="2.3"/><circle cx="488.0" cy="126.0" r="2.3"/><circle cx="486.0" cy="129.0" r="2.3"/></g>
<g clip-path="url(#usB)"><rect x="0" y="430" width="520" height="340" fill="#fff"/>
<path d="M30 440l14.5 2.5l.5 7l-16.5 .5zM45 449.5l10.5 5.5l-3 9l-9.5-.5zM55.5 455l6 0l4 6l-13 3zM109 454.5l10 1l3 9.5l-16.5-1zM119 455.5l11-2l-1 11.5l-7 0zM31.5 462l11.5 1.5l.5 10l-12 0zM52.5 464l13-3l-2 14.5l-11.5-3zM65.5 461l11.5 5.5l-2 8.5l-11.5 .5zM77 466.5l11-.5l-3 7.5l-10 1.5zM88 466l6 0l5 10l-14-2.5zM122 465l7 0l-1.5 7.5l-10-.5zM139.5 462l12.5 0l2.5 15l-12-2.5zM142.5 474.5l12 2.5l-3.5 9l-8.5-1zM154.5 477l6.5-3.5l0 11l-10 1.5zM88.5 484l10.5 2.5l-2.5 10.5l-7.5 2zM99 486.5l11.5-3l-2.5 11l-11.5 2.5zM110.5 483.5l11 4l-1.5 8l-12-1zM121.5 487.5l9.5-4.5l-2 15l-9-2.5zM131 483l11.5 2l-2.5 14.5l-11-1.5zM151 486l10-1.5l0 9.5l-6 2.5zM42.5 498l12.5 0l1 8l-11.5 3zM55 498l9.5 1l1.5 11l-10-4zM64.5 499l10.5-2l-3 13.5l-6-.5zM75 497l14 2l-5.5 7l-11.5 4.5zM120 495.5l9 2.5l2 8l-13.5 2.5zM140 499.5l15-3l-4.5 8l-8.5 3zM155 496.5l6-2.5l0 12.5l-10.5-2zM44.5 509l11.5-3l-5 12l-7.5 2.5zM56 506l10 4l-2 9.5l-13-1.5zM66 510l6 .5l3 7.5l-11 1.5zM72 510.5l11.5-4.5l4 11l-12.5 1zM97 510.5l11-2.5l-2.5 13l-6.5-4zM108 508l9.5 .5l2 10.5l-14 2zM117.5 508.5l13.5-2.5l-3 11.5l-8.5 1.5zM131 506l11 1.5l-1 12.5l-13-2.5zM142 507.5l8.5-3l4.5 16l-14-.5zM150.5 504.5l10.5 2l0 12l-6 2zM51 518l13 1.5l-2 11.5l-10.5-3.5zM99 517l6.5 4l2 8.5l-8 1.5zM119.5 519l8.5-1.5l3.5 11l-11.5 2.5zM128 517.5l13 2.5l1.5 12l-11-3.5zM141 520l14 .5l-3.5 9l-9 2.5zM155 520.5l6-2l0 12.5l-9.5-1.5zM44.5 528.5l7-1l1 14l-9.5 1.5zM77 530l6.5 1.5l2 11l-10.5-1zM83.5 531.5l16-.5l-1 11.5l-13 0zM131.5 528.5l11 3.5l-2 10.5l-13-.5zM142.5 532l9-2.5l.5 9.5l-11.5 3.5zM151.5 529.5l9.5 1.5l0 8.5l-9-.5zM66 541.5l9 0l-2.5 10l-7-2zM75 541.5l10.5 1l-2 8.5l-11 .5zM98.5 542.5l10-3l-2 13l-10 1.5zM108.5 539.5l8.5-.5l5 15l-15.5-1.5zM117 539l10.5 3l3 12l-8.5 0zM127.5 542l13 .5l1.5 11l-11.5 .5zM140.5 542.5l11.5-3.5l3 13.5l-13 1zM152 539l9 .5l0 13l-6 0zM18 554l15.5-4.5l.5 15.5l-14 .5zM33.5 549.5l11 1.5l-.5 13.5l-10 .5zM53 550.5l12.5-1l1 16l-11.5 0zM65.5 549.5l7 2l2 14l-8 0zM72.5 551.5l11-.5l3.5 8.5l-12.5 6zM83.5 551l13 3l3 9.5l-12.5-4zM106.5 552.5l15.5 1.5l-.5 5.5l-13 1.5zM122 554l8.5 0l2 11l-11-5.5zM130.5 554l11.5-.5l1 11l-10.5 .5zM142 553.5l13-1l-4.5 7l-7.5 5zM155 552.5l6 0l0 7.5l-10.5-.5zM9 561.5l11 4l-.5 5.5l-10.5 0zM34 565l10-.5l-1.5 10l-11-1.5zM44 564.5l11 1l-2.5 5.5l-10 3.5zM66.5 565.5l8 0l3 6.5l-10.5 1.5zM74.5 565.5l12.5-6l-3 15l-6.5-2.5zM99.5 563.5l9-2.5l1 11l-11 3zM132.5 565l10.5-.5l.5 12l-14-1zM19.5 571l12 2l-3 8.5l-7.5 4.5zM52.5 571l14.5 2.5l-1 10l-16 3.5zM67 573.5l10.5-1.5l-2.5 10l-9 1.5zM77.5 572l6.5 2.5l4.5 13l-13.5-5.5zM84 574.5l14.5 .5l-2 11l-8 1.5zM109.5 572l7 0l2 13.5l-13.5-2.5zM129.5 575.5l14 1l-1.5 8l-13-1zM143.5 576.5l8.5-4l2 13.5l-12-1.5zM152 572.5l9 .5l0 11.5l-7 1.5zM21 586l7.5-4.5l5.5 12.5l-15.5-1zM28.5 581.5l13 3.5l1 8l-8.5 1zM41.5 585l8.5 2l0 10l-7.5-4zM50 587l16-3.5l.5 14l-16.5-.5zM75 582l13.5 5.5l-5 8l-9 2zM88.5 587.5l8-1.5l-2 8.5l-11 1zM118.5 585.5l10.5-2l.5 14.5l-13-2zM142 584.5l12 1.5l-1.5 7.5l-10 4zM154 586l7-1.5l0 14l-8.5-5zM18.5 593l15.5 1l-1.5 11l-13.5 4.5zM34 594l8.5-1l.5 16.5l-10.5-4.5zM42.5 593l7.5 4l3.5 8.5l-10.5 4zM50 597l16.5 .5l-3.5 6.5l-9.5 1.5zM66.5 597.5l8 0l3 9l-14.5-2.5zM83.5 595.5l11-1l2.5 9l-9.5 3zM94.5 594.5l10.5-1l4.5 12.5l-12.5-2.5zM105 593.5l11.5 2.5l0 8l-7 2zM116.5 596l13 2l3 7l-16-1zM129.5 598l13-.5l-2 8.5l-8-1zM142.5 597.5l10-4l-2.5 12l-9.5 .5zM152.5 593.5l8.5 5l0 10l-11-3zM19 609.5l13.5-4.5l.5 13l-11.5-3zM32.5 605l10.5 4.5l1.5 9.5l-11.5-1zM43 609.5l10.5-4l1.5 9l-10.5 4.5zM53.5 605.5l9.5-1.5l.5 14l-8.5-3.5zM63 604l14.5 2.5l-3.5 9l-10.5 2.5zM77.5 606.5l10 0l-.5 9l-13 0zM87.5 606.5l9.5-3l-1 15l-9-3zM97 603.5l12.5 2.5l1 13l-14.5-.5zM109.5 606l7-2l3.5 14l-9.5 1zM116.5 604l16 1l-3.5 11.5l-9 1.5zM132.5 605l8 1l-1.5 13l-10-2.5zM140.5 606l9.5-.5l.5 14.5l-11.5-1zM150 605.5l11 3l0 10l-10.5 1.5zM33 618l11.5 1l-3 11l-12-3.5zM44.5 619l10.5-4.5l-4 13.5l-9.5 2zM55 614.5l8.5 3.5l2 10.5l-14.5-.5zM63.5 618l10.5-2.5l1.5 15.5l-10-2.5zM74 615.5l13 0l-3.5 10.5l-8 5zM87 615.5l9 3l2 8.5l-14.5-1zM96 618.5l14.5 .5l-5.5 12.5l-7-4.5zM110.5 619l9.5-1l0 9.5l-15 4zM120 618l9-1.5l0 11.5l-9-.5zM129 616.5l10 2.5l5 8.5l-15 .5zM139 619l11.5 1l1.5 9.5l-8-2zM41.5 630l9.5-2l-1 13.5l-7.5-2.5zM51 628l14.5 .5l-4.5 13l-11 0zM65.5 628.5l10 2.5l-3 10l-11.5 .5zM75.5 631l8-5l-.5 14l-10.5 1zM83.5 626l14.5 1l1.5 13.5l-16.5-.5zM98 627l7 4.5l5.5 5.5l-11 3.5zM105 631.5l15-4l-1 10l-8.5-.5zM120 627.5l9 .5l.5 9.5l-10.5 0zM129 628l15-.5l-5 10l-9.5 0zM144 627.5l8 2l3 8.5l-16-.5zM152 629.5l9-4l0 13l-6-.5zM50 641.5l11 0l.5 11l-10-4zM61 641.5l11.5-.5l-.5 7.5l-10.5 4zM72.5 641l10.5-1l3 11l-14-2.5zM83 640l16.5 .5l-3.5 11l-10-.5zM99.5 640.5l11-3.5l0 13l-14.5 1.5zM110.5 637l8.5 .5l-1 14.5l-7.5-2zM119 637.5l10.5 0l1 15l-12.5-.5zM129.5 637.5l9.5 0l1.5 11.5l-10 3.5zM139 637.5l16 .5l-3 10.5l-11.5 .5zM72 648.5l14 2.5l-2 8.5l-10.5 3zM86 651l10 .5l1.5 10l-13.5-2zM96 651.5l14.5-1.5l-2.5 14.5l-10.5-3zM110.5 650l7.5 2l3 7l-13 5.5zM130.5 652.5l10-3.5l3.5 10l-14 4.5zM140.5 649l11.5-.5l1.5 10l-9.5 .5zM152 648.5l9 3.5l0 8l-7.5-1.5zM97.5 661.5l10.5 3l-1.5 8l-10 3zM108 664.5l13-5.5l-4.5 15.5l-10-2zM121 659l9 4.5l.5 7l-14 4zM130 663.5l14-4.5l-4 11l-9.5 .5zM144 659l9.5-.5l.5 16l-14-4.5zM153.5 658.5l7.5 1.5l0 13l-7 1.5zM130.5 670.5l9.5-.5l2 15l-10.5 1zM140 670l14 4.5l0 6.5l-12 4zM154 674.5l7-1.5l0 10l-7-2zM161 463l8.5-2l-1 8.5l-7.5-1zM173.5 470l9.5-2l1 8l-10-.5zM183 468l5 1l2.5 8l-6.5-1zM195.5 470l8-.5l1 6.5l-8 2.5zM203.5 469.5l5-.5l3.5 7.5l-7.5-.5zM208.5 469l7.5-1l1 7.5l-5 1zM216 468l6 3l2.5 5.5l-7.5-1zM230 469l8 .5l.5 9l-9.5-3zM238 469.5l6 0l1 5l-6.5 4zM174 475.5l10 .5l0 6.5l-9 .5zM196.5 478.5l8-2.5l-2.5 8.5l-4 1zM204.5 476l7.5 .5l-.5 6l-9.5 2zM212 476.5l5-1l-1 7l-4.5 0zM217 475.5l7.5 1l0 8l-8.5-2zM245 474.5l6 1l0 9l-4.5-1zM161 482.5l6 2l1 5l-7 1zM167 484.5l8-1.5l-1 5.5l-6 1zM175 483l9-.5l-2.5 9l-7.5-3zM246.5 483.5l4.5 1l0 7l-6 0zM161 490.5l7-1l-1 7.5l-6 1zM168 489.5l6-1l-.5 10.5l-6.5-2zM181.5 491.5l9.5-2l-1.5 9.5l-9-2.5zM202 490l7.5 .5l2 5.5l-9 1.5zM236.5 491.5l8.5 0l-1 5l-7 2.5zM180.5 496.5l9 2.5l.5 4.5l-7.5 3zM189.5 499l7-.5l1.5 4.5l-8 .5zM196.5 498.5l6-1l0 6.5l-4.5-1zM202.5 497.5l9-1.5l0 8.5l-9-.5zM222.5 498.5l9 0l-.5 8l-5-.5zM231.5 498.5l5.5 .5l2 4.5l-8 3zM237 499l7-2.5l1.5 7l-6.5 0zM161 506.5l5.5-2l0 5.5l-5.5 1zM174.5 503l8 3.5l-1 4l-7.5 1zM198 503l4.5 1l.5 5.5l-7 1.5zM211.5 504.5l7 .5l-1.5 7.5l-9-1.5zM218.5 505l7.5 1l-2.5 5l-6.5 1.5zM226 506l5 .5l-1.5 4l-6 .5zM231 506.5l8-3l.5 8l-10-1zM239 503.5l6.5 0l-1 6.5l-5 1.5zM161 511l5.5-1l0 7l-5.5 2zM166.5 510l7.5 1.5l3 6l-10.5-.5zM174 511.5l7.5-1l0 10l-4.5-3zM181.5 510.5l8 .5l-2.5 7l-5.5 2.5zM196 511l7-1.5l1.5 7.5l-8 .5zM203 509.5l5 1.5l1.5 8l-5-2zM208 511l9 1.5l0 6.5l-7.5 0zM229.5 510.5l10 1l-2 7l-8-.5zM166.5 517l10.5 .5l-.5 8l-7.5-1.5zM177 517.5l4.5 3l-1 5.5l-4-.5zM181.5 520.5l5.5-2.5l1.5 8l-8 0zM187 518l9.5-.5l1.5 7l-9.5 1.5zM204.5 517l5 2l2 6.5l-8.5 0zM243 518l8 .5l0 6.5l-6 2.5zM161 527l8-3l-1 9.5l-7 0zM169 524l7.5 1.5l-2 8l-6.5 0zM176.5 525.5l4 .5l1 7l-7 .5zM180.5 526l8 0l-.5 7l-6.5 0zM198 524.5l5 1l-.5 6l-7-.5zM203 525.5l8.5 0l-1 6.5l-8-.5zM211.5 525.5l7 1l-2.5 4.5l-5.5 1zM218.5 526.5l6.5-2l-.5 8l-8.5-1.5zM239.5 525.5l5.5 2l.5 4.5l-7.5-.5zM161 533.5l7 0l0 4.5l-7 2zM168 533.5l6.5 0l0 4.5l-6.5 0zM174.5 533.5l7-.5l-.5 7l-6.5-2zM181.5 533l6.5 0l2 5l-9 2zM161 540l7-2l1.5 10l-8.5-1zM168 538l6.5 0l.5 9l-5.5 1zM190 538l5.5 2.5l-1 4.5l-7 2.5zM169.5 548l5.5-1l.5 5.5l-9.5 0zM175 547l8.5 1l-1 5.5l-7-1zM183.5 548l4-.5l1.5 4.5l-6.5 1.5zM211 545l7 .5l-1 7.5l-6.5-.5zM218 545.5l6 0l1.5 6.5l-8.5 1zM230 547.5l7.5-2l-.5 9.5l-4-1.5zM237.5 545.5l7.5 3l-1.5 4.5l-6.5 2zM161 553l5-.5l2 9l-7-1.5zM166 552.5l9.5 0l1 9.5l-8.5-.5zM175.5 552.5l7 1l0 5.5l-6 3zM182.5 553.5l6.5-1.5l-1.5 10l-5-3zM202 554.5l8.5-2l-1 6.5l-6.5-.5zM210.5 552.5l6.5 .5l1 9l-8.5-3zM225.5 552l7.5 1.5l-1.5 8.5l-9-2.5zM237 555l6.5-2l2 8.5l-6.5 1zM161 560l7 1.5l-.5 7l-6.5-2zM168 561.5l8.5 .5l.5 5.5l-9.5 1zM176.5 562l6-3l1 9l-6.5-.5zM182.5 559l5 3l2 5l-6 1zM218 562l4.5-2.5l1.5 9l-7-.5zM231.5 562l7.5 .5l.5 5.5l-8.5-1.5zM239 562.5l6.5-1l-.5 6.5l-5.5 0zM245.5 561.5l5.5-1l0 7l-6 .5zM161 566.5l6.5 2l-.5 7l-6 .5zM167.5 568.5l9.5-1l-.5 8l-9.5 0zM177 567.5l6.5 .5l-1.5 7l-5.5 .5zM183.5 568l6-1l-1.5 9.5l-6-1.5zM189.5 567l7.5 1.5l0 4.5l-9 3.5zM197 568.5l5.5 1l-1.5 5.5l-4-2zM209.5 568l7.5 0l-.5 5.5l-6.5 .5zM224 568.5l7-2l1.5 10l-9-3zM231 566.5l8.5 1.5l-.5 7.5l-6.5 1zM245 568l6-.5l0 8.5l-4.5 0zM161 576l6-.5l.5 5.5l-6.5 2zM176.5 575.5l5.5-.5l-.5 6l-8-1.5zM182 575l6 1.5l2 6l-8.5-1.5zM197 573l4 2l4 6l-9-1.5zM216.5 573.5l7 0l1 7l-5.5-.5zM161 583l6.5-2l1.5 9l-8-2zM167.5 581l6-1.5l0 7.5l-4.5 3zM173.5 579.5l8 1.5l-.5 8l-7.5-2zM210.5 583l8.5-3l-.5 9l-9 0zM219 580l5.5 .5l-.5 7l-5.5 1.5zM239 582.5l5-1l3 7l-10.5 1zM244 581.5l7 0l0 6.5l-4 .5zM161 588l8 2l.5 6l-8.5 1zM169 590l4.5-3l0 8l-4 1zM173.5 587l7.5 2l1.5 6.5l-9-.5zM181 589l7.5-1l0 6l-6 1.5zM188.5 588l9 2l0 3.5l-9 .5zM218.5 589l5.5-1.5l1.5 7l-10 2.5zM224 587.5l6.5-1l-1 7.5l-4 .5zM230.5 586.5l6 3l.5 5l-7.5-.5zM236.5 589.5l10.5-1l-3 8l-7-2zM169.5 596l4-1l2.5 7l-8.5 1.5zM182.5 595.5l6-1.5l1 8l-9.5 1zM188.5 594l9-.5l-2 9l-6-.5zM197.5 593.5l4.5 2.5l1.5 6l-8 .5zM202 596l8 1.5l-.5 6l-6-1.5zM210 597.5l5.5-.5l0 6l-6 .5zM225.5 594.5l4-.5l2.5 7.5l-9 0zM229.5 594l7.5 .5l2.5 6l-7.5 1zM161 600.5l6.5 3l1 7.5l-7.5-3zM167.5 603.5l8.5-1.5l-1 5.5l-6.5 3.5zM176 602l4 1l2 7l-7-2.5zM189.5 602l6 .5l.5 5.5l-5.5 1zM195.5 602.5l8-.5l-.5 7.5l-7-1.5zM223 601.5l9 0l-3 7l-5.5 2zM232 601.5l7.5-1l-1.5 8.5l-9-.5zM175 607.5l7 2.5l.5 8l-8.5 .5zM182 610l8.5-1l-1.5 7.5l-6.5 1.5zM215.5 611.5l8-1l1 7l-8 .5zM223.5 610.5l5.5-2l3 8l-7.5 1zM238 609l7-.5l1 9l-7-.5zM161 616.5l8-1.5l-1.5 9l-6.5-1.5zM169 615l5 3.5l-1 5l-5.5 .5zM174 618.5l8.5-.5l-2 5.5l-7.5 0zM182.5 618l6.5-1.5l1.5 6.5l-10 .5zM189 616.5l8-1l-1 6.5l-5.5 1zM216.5 618l8-.5l-.5 4.5l-8.5 2zM232 616.5l7 .5l.5 8l-8-1.5zM246 617.5l5-1.5l0 8l-6.5 .5zM161 622.5l6.5 1.5l-.5 5.5l-6 .5zM167.5 624l5.5-.5l3 8l-9-2zM173 623.5l7.5 0l3.5 8l-8 0zM180.5 623.5l10-.5l-.5 6.5l-6 2zM190.5 623l5.5-1l.5 7l-6.5 .5zM209 622l6.5 2l0 4.5l-4 1.5zM224 622l7.5 1.5l-1.5 5l-5 1zM161 630l6-.5l-1 8.5l-5 1.5zM167 629.5l9 2l0 5.5l-10 1zM176 631.5l8 0l-2.5 7l-5.5-1.5zM184 631.5l6-2l-.5 7l-8 2zM190 629.5l6.5-.5l-2 8.5l-5-1zM196.5 629l5.5 2.5l.5 7.5l-8-1.5zM215.5 628.5l9.5 1l-2 7.5l-5.5 2.5zM225 629.5l5-1l0 7l-7 1.5zM161 639.5l5-1.5l3.5 8.5l-8.5-3.5zM166 638l10-1l0 9l-6.5 .5zM176 637l5.5 1.5l2.5 5.5l-8 2zM181.5 638.5l8-2l1 7l-6.5 .5zM189.5 636.5l5 1l.5 8l-4.5-2zM202.5 639l8.5-2l-.5 7.5l-8-1zM211 637l6.5 2.5l0 6.5l-7-1.5zM223 637l7-1.5l0 9.5l-4-1zM161 643l8.5 3.5l-3 5.5l-5.5-1.5zM169.5 646.5l6.5-.5l0 7.5l-9.5-1.5zM176 646l8-2l-.5 6l-7.5 3.5zM184 644l6.5-.5l0 8.5l-7-2zM190.5 643.5l4.5 2l0 5.5l-4.5 1zM195 645.5l7.5-2l1 6.5l-8.5 1zM202.5 643.5l8 1l1.5 8.5l-8.5-3zM210.5 644.5l7 1.5l.5 5.5l-6 1.5zM161 650.5l5.5 1.5l1 7l-6.5-1.5zM166.5 652l9.5 1.5l-2.5 7l-6-1.5zM176 653.5l7.5-3.5l.5 8.5l-10.5 2zM183.5 650l7 2l-1.5 8l-5-1.5zM190.5 652l4.5-1l-.5 6.5l-5.5 2.5zM203.5 650l8.5 3l-2 5.5l-5 1.5zM212 653l6-1.5l-2.5 7l-5.5 0zM218 651.5l5.5 1.5l2.5 5l-10.5 .5zM223.5 653l7-1.5l1 6.5l-5.5 0zM237.5 650.5l9.5 2.5l-3.5 4l-4.5 2.5zM161 657.5l6.5 1.5l0 8l-6.5-1zM167.5 659l6 1.5l1 6l-7 .5zM173.5 660.5l10.5-2l-3 8.5l-6.5-.5zM184 658.5l5 1.5l-.5 6.5l-7.5 .5zM189 660l5.5-2.5l1.5 8l-7.5 1zM226 658l5.5 0l-1 9l-8-.5zM239 659.5l4.5-2.5l.5 9.5l-4-.5zM161 666l6.5 1l2.5 3.5l-9 1zM167.5 667l7-.5l-.5 7.5l-4-3.5zM174.5 666.5l6.5 .5l1.5 7l-8.5 0zM181 667l7.5-.5l1 6l-7 1.5zM188.5 666.5l7.5-1l0 8.5l-6.5-1.5zM196 665.5l6.5-.5l2 8.5l-8.5 .5zM222.5 666.5l8 .5l1 5l-6.5 0zM240 666l4 .5l1 4.5l-8.5 2.5zM244 666.5l7-.5l0 6l-6-1zM161 671.5l9-1l-1 7.5l-8-.5zM170 670.5l4 3.5l-1 6l-4-2zM174 674l8.5 0l1 6.5l-10.5-.5zM182.5 674l7-1.5l-2 6.5l-4 1.5zM204.5 673.5l4-2l3 6l-8 .5zM225 672l6.5 0l-.5 7.5l-6-.5zM231.5 672l5 1.5l0 7.5l-5.5-1.5zM236.5 673.5l8.5-2.5l-.5 9l-8 1zM245 671l6 1l0 8l-6.5 0zM161 677.5l8 .5l-3 7.5l-5 1zM173 680l10.5 .5l-1.5 8l-8-2.5zM183.5 680.5l4-1.5l.5 7.5l-6 2zM187.5 679l7 2l0 7.5l-6.5-2zM194.5 681l9-3l.5 6.5l-9.5 4zM203.5 678l8-.5l-.5 9.5l-7-2.5zM216 680.5l9-1.5l-2 8l-6.5-.5zM236.5 681l8-1l1.5 6l-7 1.5zM166 685.5l8 .5l.5 8l-5.5 1.5zM174 686l8 2.5l-1.5 6.5l-6-1zM182 688.5l6-2l3 6l-10.5 2.5zM188 686.5l6.5 2l1.5 4.5l-5-.5zM194.5 688.5l9.5-4l-.5 9l-7.5-.5zM204 684.5l7 2.5l-1 6l-6.5 .5zM211 687l5.5-.5l-1 7l-5.5-.5zM216.5 686.5l6.5 .5l2 6.5l-9.5 0zM223 687l7.5 1l-.5 7l-5-1.5zM180.5 695l10.5-2.5l-1 8.5l-7-1.5zM191 692.5l5 .5l.5 9l-6.5-1zM196 693l7.5 .5l1 7.5l-8 1zM203.5 693.5l6.5-.5l-1.5 9.5l-4-1.5zM210 693l5.5 .5l1.5 9l-8.5 0zM215.5 693.5l9.5 0l0 5l-8 4zM230 695l9.5-1l0 7l-7 1zM245.5 694l5.5 .5l0 6l-5.5-2zM176 700l7-.5l0 8l-7.5-.5zM183 699.5l7 1.5l-2 6l-5 .5zM190 701l6.5 1l1.5 5l-10 0zM204.5 701l4 1.5l2.5 6l-10 .5zM208.5 702.5l8.5 0l0 3.5l-6 2.5zM225 698.5l7.5 3.5l-3 5.5l-5.5-.5zM232.5 702l7-1l-1.5 6l-8.5 .5zM245.5 698.5l5.5 2l0 9l-5-3.5zM183 707.5l5-.5l-.5 9l-5.5 0zM188 707l10 0l-4 6l-6.5 3zM211 708.5l6-2.5l-1 8l-7.5 1.5zM217 706l7 1l-1.5 9l-6.5-2zM224 707l5.5 .5l3.5 6l-10.5 2.5zM229.5 707.5l8.5-.5l-.5 5.5l-4.5 1zM238 707l8-1l-2.5 8.5l-6-2zM216 714l6.5 2l0 4.5l-4.5 2.5zM222.5 716l10.5-2.5l-3.5 9l-7-2zM237.5 712.5l6 2l-.5 5.5l-6.5 2.5zM218 723l4.5-2.5l3 10l-6.5 0zM222.5 720.5l7 2l.5 6.5l-4.5 1.5zM229.5 722.5l7 0l.5 6.5l-7 0zM236.5 722.5l6.5-2.5l1.5 8.5l-7.5 .5zM225.5 730.5l4.5-1.5l-.5 8.5l-4-2.5zM230 729l7 0l2 7.5l-9.5 1zM237 729l7.5-.5l-1 9l-4.5-1zM244.5 728.5l6.5-2l0 8.5l-7.5 2.5zM225.5 735l4 2.5l.5 3.5l-4.5 0zM239 736.5l4.5 1l3 5l-8.5-.5zM243.5 737.5l7.5-2.5l0 8.5l-4.5-1zM230 741l8 1l-1 6.5l-5.5 .5zM238 742l8.5 .5l-1 6.5l-8.5-.5zM246.5 742.5l4.5 1l0 5l-5.5 .5zM245.5 749l5.5-.5l0 8.5l-4-2zM275 473l7-2.5l.5 7l-6-.5zM269 476l7.5 1l-1 6.5l-6.5-1.5zM276.5 477l6 .5l-2 5l-5 1zM288 476l6 .5l-1 5.5l-6 1.5zM294 476.5l3.5-.5l.5 7l-5-1zM251 494.5l6 1l-1 6l-5-.5zM251 501l5 .5l-.5 5.5l-4.5 1zM262 500.5l7 1l-1.5 7l-3 .5zM267.5 508.5l6.5-2l-.5 7l-4.5-.5zM280.5 514l6 .5l.5 3.5l-6 1.5zM268 519.5l6 .5l1.5 6l-8-2zM287 518l6.5 1l1 7l-7.5-1.5zM251 524l6.5 2.5l.5 3.5l-7 2.5zM264.5 524l3 0l0 7l-5-1zM267.5 531l7.5 1l-.5 5.5l-6.5 1zM256 538.5l8.5-1.5l-3 6l-3.5 2zM264.5 537l3.5 1.5l1.5 6l-8-1.5zM293 544l7-1l0 5l-5.5 2zM258 548.5l4 1l1.5 6.5l-6.5 0zM251 555l6 1l.5 4.5l-6.5 .5zM257 556l6.5 0l-2 5.5l-4-1zM291.5 557l7.5-1.5l-1 4.5l-5 .5zM257.5 560.5l4 1l0 6l-3 0zM269.5 562l5.5 .5l-.5 4.5l-5-1zM293 560.5l5-.5l2.5 9l-6.5-1zM269.5 566l5 1l.5 7.5l-7-1zM274.5 567l5.5-1l-.5 7l-4.5 1.5zM268 573.5l7 1l.5 4l-5.5 2.5zM256.5 578l7.5 .5l-1.5 8l-5-2zM275.5 578.5l5.5 2.5l.5 5.5l-5 .5zM257.5 584.5l5 2l-1 5l-5.5-.5zM299 584.5l2 1l0 7.5l-1.5-1.5zM251 593l5-2l1.5 6l-6.5 1zM275 593l6.5 0l0 3.5l-6 .5zM251 598l6.5-1l0 8l-6.5-1zM286 597.5l6-1.5l-.5 7.5l-3.5 .5zM292 596l7.5 0l-1 6l-7 1.5zM268 602.5l5.5-.5l2 8l-8-2zM287 608.5l7 .5l.5 7l-9-1.5zM258 620l5 0l.5 7l-6-1zM281 622.5l6-.5l0 6l-7 0zM269.5 626.5l6 1.5l-.5 6l-5.5 1zM287 634l7-1.5l.5 7.5l-8 .5zM294 632.5l3.5-.5l3 9l-6-1zM297.5 632l3.5 2.5l0 6l-.5 .5zM264.5 640.5l5.5-1.5l-.5 6l-5 0zM286.5 640.5l8-.5l-2.5 6.5l-5 .5zM294.5 640l6 1l-1.5 6l-7-.5zM287 647l5-.5l0 4.5l-3.5 1.5zM292 646.5l7 .5l0 5l-7-1zM299 647l2-1l0 4l-2 2zM281.5 652l7 .5l-.5 5.5l-6 1zM258.5 658.5l5.5 .5l-2 3l-5 1.5zM264 659l6-1l.5 5l-8.5-1zM282 659l6-1l-1 4.5l-6.5 2.5zM251 664l6-.5l-1.5 6.5l-4.5-1zM257 663.5l5-1.5l-.5 6l-6 2zM270.5 663l4.5 0l-1 8l-3.5-1zM251 669l4.5 1l0 5.5l-4.5-1.5zM255.5 670l6-2l2.5 8l-8.5-.5zM281 669.5l4.5 .5l.5 6l-6-2zM292.5 668l7 1l0 5.5l-5.5 .5zM251 674l4.5 1.5l3 6.5l-7.5 .5zM268 676l6 0l0 5.5l-5.5-1.5zM268.5 680l5.5 1.5l2.5 4.5l-9 2zM274 681.5l7.5-1.5l-2 6l-3 0zM281.5 680l5.5 2l0 4.5l-7.5-.5zM255.5 688l8-1.5l-1.5 7.5l-4.5-1zM263.5 686.5l4 1.5l.5 4l-6 2zM267.5 688l9-2l-.5 6l-8 0zM276.5 686l3 0l1.5 6.5l-5-.5zM279.5 686l7.5 .5l-.5 7.5l-5.5-1.5zM251 695l6.5-2l.5 7l-7 0zM268 692l8 0l.5 9l-6.5-2.5zM276 692l5 .5l-1 8l-3.5 .5zM281 692.5l5.5 1.5l2 5l-8.5 1.5zM298 694l3-1l0 7.5l-3-1zM251 700l7 0l-1.5 5.5l-5.5 1zM258 700l5.5 .5l.5 4l-7.5 1zM263.5 700.5l6.5-2l0 6l-6 0zM270 698.5l6.5 2.5l-1.5 5l-5-1.5zM276.5 701l3.5-.5l1 4l-6 1.5zM280 700.5l8.5-1.5l-2 6.5l-5.5-1zM256.5 705.5l7.5-1l-1.5 6l-6.5 .5zM270 704.5l5 1.5l0 4.5l-6.5 2.5zM286.5 705.5l6 .5l-1 5l-4.5 1zM300.5 706l.5-2l0 6l-1 2.5zM268.5 713l6.5-2.5l-.5 7l-4.5 1zM275 710.5l6.5 2.5l0 4.5l-7 0zM251 719l7.5-2l-.5 6l-7 .5zM251 723.5l7-.5l-2 5l-5 3zM258 723l6 1l0 5.5l-8-1.5zM251 731l5-3l2.5 8.5l-7.5-1.5zM251 747l4.5-.5l0 7.5l-4.5-1zM482 466l4 1l0 3.5l-4.5 2zM492 467l2.5 0l1 4.5l-5.5 1zM316.5 480.5l5.5 .5l0 6.5l-5.5 0zM322 481l3.5 0l1.5 6.5l-5 0zM325.5 481l5 1l.5 4.5l-4 1zM330.5 482l5-2l-.5 6.5l-4 0zM306 488l4.5-2l-.5 6.5l-4-2zM310.5 486l6 1.5l-1.5 2.5l-5 2.5zM316.5 487.5l5.5 0l-2 4l-5-1.5zM322 487.5l5 0l.5 5l-7.5-1zM327 487.5l4-1l.5 5.5l-4 .5zM331 486.5l4 0l1.5 6l-5-.5zM335 486.5l6 0l-.5 6l-4 0zM341 486.5l5.5 0l-1 4.5l-5 1.5zM306 490.5l4 2l1 4l-6 .5zM310 492.5l5-2.5l1.5 7.5l-5.5-1zM331.5 492l5 .5l-1 3l-3.5 2.5zM336.5 492.5l4 0l-.5 5l-4.5-2zM340.5 492.5l5-1.5l.5 5l-6 1.5zM466.5 491l4-.5l1.5 6l-6.5 1zM482.5 492.5l4.5-1l-2 6l-3.5-2.5zM316.5 497.5l4.5-2l1 5.5l-6 .5zM335.5 495.5l4.5 2l1.5 4.5l-5.5-1.5zM460 496l5.5 1.5l0 3.5l-5.5 .5zM465.5 497.5l6.5-1l.5 3.5l-7 1zM475 495l6.5 0l-.5 8l-6.5-2.5zM495.5 496l5.5 .5l-.5 3.5l-3.5 2zM501 496.5l4-.5l1 6l-5.5-2zM316 501.5l6-.5l-.5 4.5l-6 1zM322 501l5-.5l-.5 5.5l-5-.5zM327 500.5l5.5 2l-1 5l-5-1.5zM336 500.5l5.5 1.5l-1.5 3.5l-4.5 1zM440 503l7-1.5l0 4.5l-5-1zM451 501.5l5.5-1l0 5.5l-6 .5zM456.5 500.5l3.5 1l2 6l-5.5-1.5zM460 501.5l5.5-.5l1 6l-4.5 .5zM465.5 501l7-1l-1.5 5.5l-4.5 1.5zM481 503l5-1l1 3.5l-6 1.5zM310 507l5.5-.5l1.5 5.5l-7-.5zM375.5 508l5.5-1.5l-1.5 5.5l-4.5-1zM456.5 506l5.5 1.5l-1 2.5l-5 1zM462 507.5l4.5-.5l.5 3.5l-6-.5zM466.5 507l4.5-1.5l1.5 7l-5.5-2zM471 505.5l6 1l-1.5 4l-3 2zM487 505.5l5 1l-2.5 5.5l-4-1zM324.5 512l5.5-1.5l2 6l-6.5 1zM336.5 510.5l5.5 2.5l-1.5 4l-5.5-.5zM430 511.5l7-.5l-2.5 5.5l-4.5 0zM456 511l5-1l.5 5.5l-6.5 2.5zM461 510l6 .5l-1.5 5l-4 0zM475.5 510.5l6 1l0 5l-5.5-.5zM485.5 511l4 1l2.5 3.5l-6.5-.5zM325.5 517.5l6.5-1l-2.5 5.5l-4.5 0zM335 516.5l5.5 .5l1 5.5l-5.5-2zM340.5 517l6.5 .5l0 4l-5.5 1zM376 516.5l6-1.5l-1.5 7.5l-4.5-1zM439.5 517.5l7-1l-1.5 4l-2.5 0zM446.5 516.5l4.5 1l.5 4l-6.5-1zM461.5 515.5l4 0l-.5 5.5l-4 1zM470 516l6 0l-1 5.5l-2.5 .5zM485.5 515l6.5 .5l-.5 6l-6 .5zM341.5 522.5l5.5-1l-1.5 6l-5.5-2zM420 523l5-2l0 4.5l-4.5 1.5zM430.5 521.5l5.5 .5l.5 4l-4.5 1zM436 522l6.5-1.5l-2 7.5l-4-2zM442.5 520.5l2.5 0l1.5 5l-6 2.5zM445 520.5l6.5 1l.5 3.5l-5.5 .5zM451.5 521.5l4-1.5l1 5.5l-4.5-.5zM475 521.5l6 1.5l-.5 4l-4.5 1zM306 527l3.5-1l3 5l-5 1zM326 525l4 1l2 4.5l-6.5 .5zM336.5 526.5l3.5-1l0 6.5l-2.5 1zM350 527l6-.5l-.5 6.5l-5-1.5zM356 526.5l6 0l.5 6l-7 .5zM380 525.5l6 2.5l0 4.5l-4 .5zM410 528l5-2.5l.5 7.5l-6-.5zM415 525.5l5.5 1.5l0 3l-5 3zM420.5 527l4.5-1.5l.5 7l-5-2.5zM425 525.5l7 1.5l0 3.5l-6.5 2zM432 527l4.5-1l.5 6l-5-1.5zM436.5 526l4 2l0 4l-3.5 0zM446.5 525.5l5.5-.5l-2 6l-3 .5zM462.5 526.5l4.5 1l-2 4.5l-4.5-1.5zM467 527.5l3.5-.5l.5 5.5l-6-.5zM470.5 527l5.5 1l0 2l-5 2.5zM487.5 527.5l2-1.5l.5 5.5l-3-1zM365.5 530.5l5.5 0l-1.5 7l-2.5-1.5zM376 532l6 1l.5 2.5l-5.5 .5zM386 532.5l4-2l1 5.5l-5.5 1zM409.5 532.5l6 .5l0 4.5l-5-1zM415.5 533l5-3l.5 5.5l-5.5 2zM420.5 530l5 2.5l1 3.5l-5.5-.5zM432 530.5l5 1.5l-1.5 3.5l-4.5 1zM437 532l3.5 0l1.5 3l-6.5 .5zM440.5 532l6.5-.5l-.5 4.5l-4.5-1zM450 531l5-.5l0 5.5l-5.5-.5zM455 530.5l5.5 0l1 5.5l-6.5 0zM471 532.5l5-2.5l-1 7l-5-.5zM476 530l6.5 1l-2.5 4l-5 2zM487 530.5l3 1l1 4.5l-6 1zM490 531.5l7-1l-2 7l-4-1.5zM336.5 535.5l4 1.5l-.5 5l-4-1zM355 535.5l5-.5l-.5 7l-2.5-2zM426.5 536l4.5 .5l.5 6l-6.5-1zM442 535l4.5 1l.5 5l-6 0zM446.5 536l3-.5l2.5 6l-5-.5zM449.5 535.5l5.5 .5l.5 5l-3.5 .5zM461.5 536l3.5 .5l0 4.5l-4.5 .5zM465 536.5l5 0l2 3.5l-7 1zM470 536.5l5 .5l1 5l-4-2zM491 536l4 1.5l-.5 5l-3 0zM336 541l4 1l.5 4.5l-5-1zM375.5 541.5l4.5-1.5l0 6l-4.5 .5zM397 541.5l3.5-.5l-1 5.5l-4-1zM415.5 542l6.5-1.5l-2.5 6l-2.5 1.5zM422 540.5l3 1l.5 5.5l-6-.5zM452 541.5l3.5-.5l1.5 5l-5.5-.5zM460.5 541.5l4.5-.5l2 6l-5.5 0zM465 541l7-1l-1.5 6.5l-3.5 .5zM335.5 545.5l5 1l1 6.5l-5-1zM399.5 546.5l6-1l0 7.5l-3-2zM425.5 547l4 .5l1 2.5l-3.5 1zM437 546.5l5-1l-.5 4.5l-5.5 1.5zM467 547l3.5-.5l1 6l-5.5 0zM355.5 551l5 1l-.5 3.5l-5.5 1.5zM402.5 551l3 2l1.5 3.5l-7-.5zM411 552.5l5-.5l-1 5.5l-3.5 0zM427 551l3.5-1l1 6.5l-6 1zM436 551.5l5.5-1.5l0 6.5l-5-1.5zM441.5 550l5 1l.5 6l-5.5-.5zM452 552.5l5-.5l0 4.5l-6.5-1zM301 555.5l6 1l.5 3.5l-6.5 .5zM335.5 555.5l4.5 2l-.5 3l-2 1zM421.5 555l4 2.5l1.5 4.5l-5 .5zM431.5 556.5l5-1.5l0 6.5l-4 1zM436.5 555l5 1.5l.5 6.5l-5.5-1.5zM450.5 555.5l6.5 1l-1.5 5l-5-.5zM317 561.5l3.5-1l-1 5l-3.5 1zM337.5 561.5l2-1l2 5l-5 .5zM381 560.5l5.5 0l-.5 4.5l-6 .5zM415 560.5l7 2l-.5 2.5l-4.5 1.5zM427 562l5.5 .5l-1.5 5l-5.5 0zM432.5 562.5l4-1l-.5 6l-5 0zM442 563l4.5-1.5l0 4.5l-4.5 1zM446.5 561.5l4-.5l0 6l-4-1zM450.5 561l5 .5l2 4l-7 1.5zM461.5 562l5-1.5l-.5 6l-5.5-.5zM316 566.5l3.5-1l0 6l-2.5 0zM380 565.5l6-.5l1.5 7l-7-2zM400 566.5l5.5 .5l0 5l-5 0zM425.5 567.5l5.5 0l1 4l-7 1.5zM457.5 565.5l3 .5l1.5 5l-5.5 1.5zM460.5 566l5.5 .5l-1 4.5l-3 0zM400.5 572l5 0l1 4l-6.5-.5zM440.5 572l5 0l-.5 4l-4 1zM456.5 572.5l5.5-1.5l0 5l-6-.5zM462 571l3 0l.5 5.5l-3.5-.5zM310 576l6 0l0 5l-5 .5zM340 577l7 .5l-1.5 3.5l-4 2zM347 577.5l4-.5l-.5 5.5l-5-1.5zM354.5 576.5l7.5 .5l-2.5 3.5l-4 2zM375.5 577.5l7 .5l-1.5 3.5l-6 0zM385.5 577l4.5 .5l2 3.5l-6.5 .5zM397 577.5l3-2l2 6.5l-7.5 0zM400 575.5l6.5 .5l-1.5 5.5l-3 .5zM410 576l7 1l0 4l-6.5 0zM417 577l5-1l-1.5 4.5l-3.5 .5zM430.5 577l7-1l-1 5l-4.5 1zM445 576l6.5 1.5l0 3l-6.5 0zM456 575.5l6 .5l-1 7l-3.5-2zM319.5 583l8-2l-2.5 6l-5 .5zM341.5 583l4-2l0 6l-4.5-1zM366 581l4.5 .5l-.5 6l-4-1.5zM375 581.5l6 0l0 6l-4.5-1zM381 581.5l4.5 0l1.5 6l-6 0zM394.5 582l7.5 0l-.5 5l-6 0zM405 581.5l5.5-.5l1 5.5l-5.5 1zM417 581l3.5-.5l1 5l-5.5 1zM432 582l4.5-1l.5 6l-5.5-1.5zM436.5 581l6 1l-2.5 4.5l-3 .5zM442.5 582l2.5-1.5l.5 4.5l-5.5 1.5zM445 580.5l6.5 0l-1.5 5.5l-4.5-1zM451.5 580.5l6 .5l-.5 5.5l-7-.5zM457.5 581l3.5 2l.5 3.5l-4.5 0zM301 586l5.5 .5l-1 6l-4.5 0zM306.5 586.5l3.5 1l.5 4l-5 1zM325 587l6-2l-.5 5.5l-3.5 1.5zM331 585l4 2.5l0 3l-4.5 0zM391 585.5l4.5 1.5l1.5 5.5l-6.5-.5zM401.5 587l4.5 .5l1 4l-7-1zM411.5 586.5l4.5 0l-1 3.5l-3 1zM445.5 585l4.5 1l0 5l-4 .5zM450 586l7 .5l-2 5l-5-.5zM457 586.5l4.5 0l-2 4.5l-4.5 .5zM301 592.5l4.5 0l-.5 3l-4 2zM315 591l5.5 0l1 5l-7 1zM335 590.5l7 .5l0 5l-6.5 2zM366 591l4 1.5l.5 3.5l-6-.5zM412 591l3-1l1.5 6l-4.5 1.5zM415 590l6 2l-.5 3.5l-4 .5zM301 597.5l4-2l1 7l-5-1.5zM311.5 595.5l3 1.5l.5 5.5l-4-2zM314.5 597l7-1l-2 4.5l-4.5 2zM346 597l4 0l2.5 5.5l-8-1zM361.5 595.5l3 0l2.5 6l-5.5-1zM370.5 596l5 1l1.5 5.5l-7.5-1.5zM390 595l5 1l0 6.5l-3.5-.5zM412 597.5l4.5-1.5l.5 6l-6.5 .5zM440.5 596l6 2l0 4l-5 0zM315 602.5l4.5-2l2 6.5l-6-1zM330 600.5l5 1l1 3.5l-4.5 2zM367 601.5l2.5-.5l3 5l-6.5 1zM395 602.5l6-1l-1 6.5l-3.5-1.5zM401 601.5l5-1l-.5 5l-5.5 2.5zM406 600.5l4.5 2l1.5 3l-6.5 0zM427 600.5l2.5 .5l2 4.5l-6.5 2zM437 602.5l4.5-.5l-.5 5l-5-1.5zM441.5 602l5 0l.5 6l-6-1zM451 601.5l6 1l-1 4.5l-4.5 0zM336 605l5.5 .5l0 7.5l-5.5-2.5zM372.5 606l4.5-.5l-1.5 6.5l-5 0zM387 608l5-3l-1.5 5.5l-3.5 0zM396.5 606.5l3.5 1.5l.5 3l-4.5 1zM436 605.5l5 1.5l-1 3.5l-4 2zM462 607.5l3-2l1.5 5l-6.5 2zM375.5 612l5.5 0l-1 4l-3.5 1.5zM415.5 611.5l5-1.5l0 5l-4 1zM430.5 611l5.5 1.5l-1 4l-5-.5zM436 612.5l4-2l1 6l-6 0zM446 612.5l5-1.5l0 5.5l-5 0zM456.5 611.5l3.5 1l1.5 3l-5 1.5zM301 617l4.5-1.5l.5 7l-5-.5zM316.5 616l5.5 0l-1 5l-4-1zM335.5 616l5 .5l1 5.5l-4-.5zM362 616l3.5 1l1 4.5l-5 0zM365.5 617l4.5 0l2.5 5.5l-6-1zM380 616l6.5-.5l-1 7l-4-2zM396 615.5l6 2.5l-1.5 3.5l-3 1zM402 618l4.5-2.5l-1 4.5l-5 1.5zM410 617.5l6.5-1.5l-.5 4.5l-5.5 2zM416.5 616l4-1l1.5 8l-6-2.5zM420.5 615l7 1l-1 4.5l-4.5 2.5zM427.5 616l2.5 0l1 6.5l-4.5-2zM430 616l5 .5l.5 5.5l-4.5 .5zM441 616.5l5 0l-.5 5.5l-4-1zM326 623l5-2.5l-1 6.5l-4.5-.5zM346.5 622.5l5-1l0 5l-6.5-1zM351.5 621.5l5 0l0 5.5l-5-.5zM400.5 621.5l5-1.5l1 7l-4.5-.5zM405.5 620l5 2.5l0 5l-4-.5zM426.5 620.5l4.5 2l.5 3l-5.5 0zM441.5 621l4 1l0 4l-5 2zM460 622l4.5-.5l.5 5.5l-3-1zM306 628l6-1.5l0 4l-5 1zM321 627.5l4.5-1l.5 5l-5.5 0zM325.5 626.5l4.5 .5l.5 5l-4.5-.5zM335.5 626l5 0l-.5 6l-4.5-1.5zM351.5 626.5l5 .5l0 5.5l-4.5-2zM356.5 627l4.5 0l0 4l-4.5 1.5zM369.5 627.5l5.5-2.5l1 6l-4 1.5zM382.5 626l4.5-1l0 7l-6 .5zM406.5 627l4 .5l1.5 3.5l-7 1zM410.5 627.5l6-1l-1.5 5.5l-3-1zM426 625.5l5.5 0l-1 7l-4-2zM435 625l5.5 3l1.5 2.5l-7 1zM440.5 628l5-2l.5 4l-4 .5zM445.5 626l5.5 1l-.5 6l-4.5-3zM451 627l6-2l-1 5.5l-5.5 2.5zM301 631.5l6 0l-.5 5l-5.5 0zM326 631.5l4.5 .5l-.5 3.5l-3 2zM335.5 630.5l4.5 1.5l.5 5.5l-5-.5zM345 631.5l7-1l-1 6.5l-4-1zM381 632.5l6-.5l-.5 3.5l-6 1.5zM395 631l5-.5l.5 4.5l-5.5 2zM405 632l7-1l-2.5 6l-5-1.5zM415 632l6-1l0 6l-4-1.5zM426.5 630.5l4 2l-1 4.5l-3.5-2zM435 631.5l7-1l0 5.5l-6 1.5zM442 630.5l4-.5l1 5l-5 1zM446 630l4.5 3l1 4l-4.5-2zM450.5 633l5.5-2.5l-.5 5l-4 1.5zM306.5 636.5l4 .5l1.5 4.5l-5 1zM310.5 637l6-1l-.5 5l-4 .5zM316.5 636l5.5 .5l0 5l-6-.5zM322 636.5l5 1l-2 4.5l-3-.5zM327 637.5l3-2l0 7l-5-.5zM361.5 637l5.5-1l-1 6l-3.5 .5zM371 635.5l3.5 2l.5 3.5l-3.5 .5zM380.5 637l6-1.5l-1 6.5l-4 .5zM390 635.5l5 1.5l2 4l-7 .5zM400.5 635l4 .5l2.5 5l-7 2zM417 635.5l4 1.5l1 4l-7.5 .5zM421 637l5-2l1.5 7l-5.5-1zM426 635l3.5 2l2 4l-4 1zM436 637.5l6-1.5l-2.5 6.5l-4.5-.5zM442 636l5-1l-2 7.5l-5.5 0zM447 635l4.5 2l-.5 3.5l-6 2zM301 641.5l6 1l-2 5l-4-1zM307 642.5l5-1l0 5.5l-7 .5zM325 642l5 .5l1 2.5l-5 1zM330 642.5l5.5-2l-1 7l-3.5-2.5zM339.5 642l7.5 .5l-2.5 2.5l-4.5 2.5zM347 642.5l3-1l2 4l-7.5-.5zM371.5 641.5l3.5-.5l2 6l-6 0zM381.5 642.5l4-.5l-.5 3.5l-4.5 .5zM385.5 642l4.5-.5l0 6l-5-2zM390 641.5l7-.5l-2 5.5l-5 1zM414.5 641.5l7.5-.5l-2 5.5l-2.5-1zM431.5 641l3.5 1l2 3l-7.5 1zM435 642l4.5 .5l1.5 5l-4-2.5zM439.5 642.5l5.5 0l2 2.5l-6 2.5zM301 646.5l4 1l1.5 3.5l-5.5 1zM312 647l4 0l1 4l-6 1zM316 647l4.5 0l1 4l-4.5 0zM331 645l3.5 2.5l1 3.5l-5 1zM340 647.5l4.5-2.5l3 6.5l-5.5-.5zM344.5 645l7.5 .5l-.5 6.5l-4-.5zM357 646.5l5-1l-1 6l-6.5 .5zM385 645.5l5 2l.5 2.5l-4.5 .5zM406.5 647.5l5.5-1l-1 4l-4.5 1zM420 646.5l5.5-1l1.5 6l-7.5-.5zM429.5 646l7.5-1l-1 5.5l-5.5 1.5zM437 645l4 2.5l0 2.5l-5 .5zM325 652.5l5.5-.5l-.5 5.5l-2.5-.5zM347.5 651.5l4 .5l.5 6l-5-.5zM351.5 652l3 0l1.5 6l-4 0zM354.5 652l6.5-.5l1 6l-6 .5zM365.5 652.5l4.5-1.5l1.5 6.5l-6-1zM417 652l2.5-1l1.5 6.5l-4.5-2.5zM427 651.5l3.5 .5l-.5 3.5l-4-.5zM327.5 657l2.5 .5l-.5 4l-3.5-1zM337 658l3-2.5l0 7.5l-4-2.5zM352 658l4 0l0 3.5l-4.5 .5zM356 658l6-.5l-2 2.5l-4 1.5zM376 657.5l5-1l.5 4l-5.5 1.5zM381 656.5l4.5-1l-.5 5l-3.5 0zM385.5 655.5l6 1.5l0 4.5l-6.5-1zM421 657.5l5-2.5l-.5 6.5l-4.5 1.5zM426 655l4 .5l1.5 4.5l-6 1.5zM329.5 661.5l6.5-1l1 6.5l-6-1.5zM336 660.5l4 2.5l2 2l-5 2zM360 660l5 1l2 4l-5 3zM365 661l7.5 1.5l-2 4l-3.5-1.5zM372.5 662.5l3.5-.5l1.5 3.5l-7 1zM381.5 660.5l3.5 0l1 5.5l-6-.5zM385 660.5l6.5 1l.5 5.5l-6-1zM391.5 661.5l4 1l1 3l-4.5 1.5zM410 662.5l5.5-2.5l2 8l-7-2.5zM415.5 660l5.5 3l1 5l-4.5 0zM421 663l4.5-1.5l1.5 4l-5 2.5zM306.5 667.5l5.5-1.5l0 4l-5 1.5zM321.5 666.5l4-.5l-.5 5l-3.5-1zM331 665.5l6 1.5l-2.5 4l-2 .5zM337 667l5-2l-2.5 6.5l-5-.5zM347 667.5l4-1l.5 4.5l-6 1zM362 668l5-3l-2 6.5l-4.5 .5zM367 665l3.5 1.5l.5 5l-6 0zM370.5 666.5l7-1l-1.5 6.5l-5-.5zM386 666l6 1l0 5.5l-7-2zM401.5 667l4.5 0l0 4l-3.5 2zM410.5 665.5l7 2.5l-1 4l-5-.5zM417.5 668l4.5 0l0 3l-5.5 1zM312 670l3.5 1l2 5.5l-6.5-.5zM321.5 670l3.5 1l.5 5.5l-4 1zM325 671l7.5 .5l-2.5 5.5l-4.5-.5zM332.5 671.5l2-.5l2.5 5.5l-7 .5zM351.5 671l5.5 .5l-1 5.5l-4-.5zM360.5 672l4.5-.5l1.5 5.5l-6-1zM365 671.5l6 0l-1 4.5l-3.5 1zM371 671.5l5 .5l1.5 5l-7.5-1zM376 672l5-1.5l1 5l-4.5 1.5zM381 670.5l4 0l.5 5l-3.5 0zM385 670.5l7 2l-1.5 4l-5-1zM392 672.5l3-2.5l1.5 7l-6-.5zM416.5 672l5.5-1l-2 6l-3-1.5zM330 677l7-.5l-2 6.5l-5.5-1zM337 676.5l4 0l1 6l-7 .5zM341 676.5l3.5 1l2 5.5l-4.5-.5zM382 675.5l3.5 0l0 4.5l-4.5 2zM385.5 675.5l5 1l-.5 5.5l-4.5-2zM390.5 676.5l6 .5l-1.5 4l-5 1zM405.5 675.5l6.5 1l-1 5.5l-4.5-.5zM412 676.5l5-1l.5 5.5l-6.5 1zM342 682.5l4.5 .5l0 3l-6.5 2zM346.5 683l4.5-1.5l.5 6l-5-1.5zM361.5 682l5 0l0 3.5l-4.5 .5zM366.5 682l5.5-1l0 6.5l-5.5-2zM372 681l3.5-.5l.5 5l-4 2zM385.5 680l4.5 2l.5 4.5l-4-1zM411 682l6.5-1l-1.5 4l-4 .5zM417.5 681l4 0l.5 6l-6-2zM306 686l5 .5l.5 5.5l-5-1.5zM340 688l6.5-2l-1.5 5.5l-4 0zM346.5 686l5 1.5l.5 4.5l-7-.5zM386.5 685.5l4 1l0 4l-4.5 0zM412 685.5l4-.5l-1 7.5l-5-1zM416 685l6 2l0 3l-7 2.5zM329.5 690.5l7 2.5l0 2l-4.5 2.5zM341 691.5l4 0l2 5l-7-.5zM345 691.5l7 .5l-1.5 3l-3.5 1.5zM356 690.5l5 1l1.5 5l-7-.5zM366 691l5 1.5l1.5 2.5l-8 1.5zM371 692.5l4.5 .5l-.5 2.5l-2.5-.5zM396.5 692.5l5.5 0l-2 4.5l-3.5-1zM410 691.5l5 1l0 4l-5 1zM415 692.5l7-2.5l0 7.5l-7-1zM340 696l7 .5l-1 4l-6 .5zM347 696.5l3.5-1.5l-.5 5.5l-4 0zM350.5 695l5 1l2 4l-7.5 .5zM362.5 696.5l2 0l3 5l-5.5 1.5zM375 695.5l5.5 2l-.5 3.5l-3.5 .5zM410 697.5l5-1l1.5 5.5l-6-1zM415 696.5l7 1l-1.5 5l-4-.5zM301 702.5l4.5-1l1.5 5.5l-6 1zM330.5 702.5l4-2l2 7.5l-4.5-2.5zM340 701l6-.5l-1 5.5l-4 0zM371.5 703l5-1.5l.5 4.5l-6.5 0zM376.5 701.5l3.5-.5l1 5l-4 0zM396.5 702.5l5 0l-1.5 4l-4 .5zM401.5 702.5l4-1l.5 5l-6 0zM416.5 702l4 .5l0 5l-4.5-.5zM420.5 702.5l5 .5l0 3.5l-5 1zM425.5 703l6.5-2.5l-1 6.5l-5.5-.5zM307 707l4-.5l.5 6.5l-5-1zM311 706.5l5.5 1.5l0 2.5l-5 2.5zM321 707.5l6-.5l.5 5.5l-8 0zM327 707l5-1.5l0 4.5l-4.5 2.5zM332 705.5l4.5 2.5l-1.5 4l-3-2zM336.5 708l4.5-2l-.5 4.5l-5.5 1.5zM400 706.5l6 0l1 4.5l-7 .5zM406 706.5l4-.5l.5 5l-3.5 0zM410 706l6 1l1 3.5l-6.5 .5zM416 707l4.5 .5l1.5 5l-5-2zM311.5 713l5-2.5l-1 7l-5-1.5zM319.5 712.5l8 0l-1.5 4l-5.5-.5zM327.5 712.5l4.5-2.5l-1.5 5.5l-4.5 1zM332 710l3 2l1.5 3l-6 .5zM335 712l5.5-1.5l-.5 7l-3.5-2.5zM407 711l3.5 0l-.5 5l-3.5 .5zM417 710.5l5 2l-2 3l-4.5 1zM422 712.5l5.5-1l-2 5l-5.5-1zM427.5 711.5l3.5-1l-.5 5.5l-5 .5zM400.5 716l6 .5l1 5.5l-7-.5zM406.5 716.5l3.5-.5l1.5 4.5l-4 1.5zM410 716l5.5 .5l1 5l-5-1zM415.5 716.5l4.5-1l1 5.5l-4.5 .5zM420 715.5l5.5 1l2 6l-6.5-1.5zM430.5 716l5 0l-.5 5.5l-3.5 1zM400.5 721.5l7 .5l-.5 4l-7 .5zM407.5 722l4-1.5l-.5 6.5l-4-1zM416.5 721.5l4.5-.5l-.5 7l-6-2zM435 721.5l7.5 1l-2 3.5l-3.5-1zM407 726l4 1l-1.5 5.5l-4.5-2zM420.5 728l5-2.5l1.5 5.5l-5-.5zM425.5 725.5l4.5 1l1 4.5l-4 0zM430 726.5l7-1.5l-1 5.5l-5 .5zM437 725l3.5 1l2 6.5l-6.5-2zM409.5 732.5l6 0l1 3.5l-5 0zM415.5 732.5l6.5-2l-2 7l-3.5-1.5zM427 731l4 0l-1 5.5l-5 0zM431 731l5-.5l.5 7l-6.5-1zM436 730.5l6.5 2l-1 3l-5 2zM416.5 736l3.5 1.5l1 2.5l-5 1zM420 737.5l5-1l1.5 4.5l-5.5-1zM425 736.5l5 0l0 5.5l-3.5-1zM430 736.5l6.5 1l0 3.5l-6.5 1zM436.5 737.5l5-2l-1.5 6.5l-3.5-1zM416 741l5-1l1.5 5.5l-5 1.5zM421 740l5.5 1l.5 6.5l-4.5-2zM426.5 741l3.5 1l.5 5.5l-3.5 0zM430 742l6.5-1l.5 4l-6.5 2.5zM436.5 741l3.5 1l.5 5l-3.5-2zM427 747.5l3.5 0l0 3l-4 2zM430.5 747.5l6.5-2.5l-1.5 5.5l-5 0zM437 745l3.5 2l-.5 5l-4.5-1.5zM417 751l3 1.5l2 3l-7 2zM420 752.5l6.5 0l-.5 3l-4 0zM426.5 752.5l4-2l-.5 6.5l-4-1.5zM430.5 750.5l5 0l1 6l-6.5 .5zM422 755.5l4 0l.5 5.5l-5.5 1.5z" fill="#fff" stroke="#8a8a8a" stroke-width="0.5"/><path d="M44.5 442.5l8 1l3 11.5l-10.5-5.5zM52.5 443.5l13.5 .5l-4.5 11l-6 0zM66 444l8.5-.5l3 7l-16 4.5zM95 452.5l14 2l-3.5 9.5l-11.5 2zM43 463.5l9.5 .5l-.5 8.5l-8.5 1zM94 466l11.5-2l4 7.5l-10.5 4.5zM105.5 464l16.5 1l-4.5 7l-8-.5zM129 465l10.5-3l3 12.5l-15-2zM152 462l9 3.5l0 8l-6.5 3.5zM31.5 473.5l12 0l1.5 9.5l-14.5 5.5zM43.5 473.5l8.5-1l1 15l-8-4.5zM63.5 475.5l11.5-.5l-2 10.5l-6.5-1zM75 475l10-1.5l3.5 10.5l-15.5 1.5zM99 476l10.5-4.5l1 12l-11.5 3zM53 487.5l13.5-3l-2 14.5l-9.5-1zM142.5 485l8.5 1l4 10.5l-15 3zM31 497l11.5 1l2 11l-11-3.5zM89 499l7.5-2l.5 13.5l-13.5-4.5zM96.5 497l11.5-2.5l0 13.5l-11 2.5zM108 494.5l12 1l-2.5 13l-9.5-.5zM129 498l11 1.5l2 8l-11-1.5zM17.5 509l16-3.5l-4.5 15.5l-9.5-.5zM83.5 506l13.5 4.5l2 6.5l-11.5 0zM43.5 520.5l7.5-2.5l.5 9.5l-7 1zM64 519.5l11-1.5l2 12l-15 1zM75 518l12.5-1l-4 14.5l-6.5-1.5zM105.5 521l14-2l.5 12l-12.5-1.5zM51.5 527.5l10.5 3.5l4 10.5l-13.5 0zM62 531l15-1l-2 11.5l-9 0zM29 542l14 1l1.5 8l-11-1.5zM43 543l9.5-1.5l.5 9l-8.5 .5zM52.5 541.5l13.5 0l-.5 8l-12.5 1zM85.5 542.5l13 0l-2 11.5l-13-3zM9 549l9 5l2 11.5l-11-4zM44.5 551l8.5-.5l2 15l-11-1zM96.5 554l10-1.5l2 8.5l-9 2.5zM55 565.5l11.5 0l.5 8l-14.5-2.5zM87 559.5l12.5 4l-1 11.5l-14.5-.5zM108.5 561l13-1.5l-5 12.5l-7 0zM143 564.5l7.5-5l1.5 13l-8.5 4zM150.5 559.5l10.5 .5l0 13l-9-.5zM42.5 574.5l10-3.5l-2.5 16l-8.5-2zM98.5 575l11-3l-4.5 11l-8.5 3zM116.5 572l13 3.5l-.5 8l-10.5 2zM66 583.5l9-1.5l-.5 15.5l-8 0zM96.5 586l8.5-3l0 10.5l-10.5 1zM105 583l13.5 2.5l-2 10.5l-11.5-2.5zM74.5 597.5l9-2l4 11l-10 0zM150.5 620l10.5-1.5l0 7l-9 4zM155 638l6 .5l0 13.5l-9-3.5zM116.5 674.5l14-4l1 15.5l-11.5-1zM161 468.5l7.5 1l0 6.5l-7.5 1zM168.5 469.5l5 .5l.5 5.5l-5.5 .5zM188 469l7.5 1l1 8.5l-6-1.5zM222 471l8-2l-1 6.5l-4.5 1zM244 469.5l7 1.5l0 4.5l-6-1zM161 477l7.5-1l-1.5 8.5l-6-2zM168.5 476l5.5-.5l1 7.5l-8 1.5zM224.5 476.5l4.5-1l1 6.5l-5.5 2.5zM229 475.5l9.5 3l-1.5 5l-7-1.5zM184 482.5l6.5-.5l.5 7.5l-9.5 2zM190.5 482l7.5 3.5l-2.5 6.5l-4.5-2.5zM224.5 484.5l5.5-2.5l1 8.5l-6-2zM174 488.5l7.5 3l-1 5l-7 2.5zM191 489.5l4.5 2.5l1 6.5l-7 .5zM195.5 492l6.5-2l.5 7.5l-6 1zM209.5 490.5l7.5 1.5l-1.5 7l-4-3zM225 488.5l6 2l.5 8l-9 0zM231 490.5l5.5 1l.5 7.5l-5.5-.5zM245 491.5l6 0l0 6l-7-1zM167 497l6.5 2l1 4l-8 1.5zM173.5 499l7-2.5l2 10l-8-3.5zM211.5 496l4 3l3 6l-7-.5zM215.5 499l7-.5l3.5 7.5l-7.5-1zM244 496.5l7 1l0 6.5l-5.5-.5zM166.5 504.5l8-1.5l-.5 8.5l-7.5-1.5zM182.5 506.5l7.5-3l-.5 7.5l-8-.5zM190 503.5l8-.5l-2 8l-6.5 0zM202.5 504l9 .5l-3.5 6.5l-5-1.5zM245.5 503.5l5.5 .5l0 7.5l-6.5-1.5zM189.5 511l6.5 0l.5 6.5l-9.5 .5zM217 512.5l6.5-1.5l0 5.5l-6.5 2.5zM223.5 511l6-.5l0 7.5l-6-1.5zM239.5 511.5l5-1.5l-1.5 8l-5.5 .5zM244.5 510l6.5 1.5l0 7l-8-.5zM161 519l5.5-2l2.5 7l-8 3zM196.5 517.5l8-.5l-1.5 8.5l-5-1zM209.5 519l7.5 0l1.5 7.5l-7-1zM229.5 518l8 .5l2 7l-7.5 1.5zM237.5 518.5l5.5-.5l2 9.5l-5.5-2zM188.5 526l9.5-1.5l-2.5 6.5l-7.5 2zM225 524.5l7 2.5l-1 4l-6.5 1.5zM232 527l7.5-1.5l-1.5 6l-7-.5zM188 533l7.5-2l0 9.5l-5.5-2.5zM245.5 532l5.5 1l0 6l-6.5-.5zM174.5 538l6.5 2l2.5 8l-8.5-1zM181 540l9-2l-2.5 9.5l-4 .5zM244.5 538.5l6.5 .5l0 6.5l-6 3zM161 547l8.5 1l-3.5 4.5l-5 .5zM187.5 547.5l7-2.5l2 9l-7.5-2zM224 545.5l6 2l3 6l-7.5-1.5zM189 552l7.5 2l.5 5.5l-9.5 2.5zM217 553l8.5-1l-3 7.5l-4.5 2.5zM233 553.5l4 1.5l2 7.5l-7.5-.5zM243.5 553l7.5 1.5l0 6l-5.5 1zM187.5 562l9.5-2.5l0 9l-7.5-1.5zM197 559.5l6-1l-.5 11l-5.5-1zM203 558.5l6.5 .5l0 9l-7 1.5zM209.5 559l8.5 3l-1 6l-7.5 0zM222.5 559.5l9 2.5l-.5 4.5l-7 2zM202.5 569.5l7-1.5l.5 6l-9 1zM217 568l7 .5l-.5 5l-7 0zM167 575.5l9.5 0l-3 4l-6 1.5zM188 576.5l9-3.5l-1 6.5l-6 3zM210 574l6.5-.5l2.5 6.5l-8.5 3zM223.5 573.5l9 3l-3.5 6l-4.5-2zM232.5 576.5l6.5-1l0 7l-10 0zM239 575.5l7.5 .5l-2.5 5.5l-5 1zM246.5 576l4.5 0l0 5.5l-7 0zM181.5 581l8.5 1.5l-1.5 5.5l-7.5 1zM190 582.5l6-3l1.5 10.5l-9-2zM224.5 580.5l4.5 2l1.5 4l-6.5 1zM229 582.5l10 0l-2.5 7l-6-3zM209.5 589l9 0l-3 8l-5.5 .5zM247 588.5l4-.5l0 9l-7-.5zM161 597l8.5-1l-2 7.5l-6.5-3zM173.5 595l9 .5l-2.5 7.5l-4-1zM215.5 597l10-2.5l-2.5 7l-7.5 1.5zM237 594.5l7 2l-.5 4.5l-4-.5zM244 596.5l7 .5l0 7.5l-7.5-3.5zM180 603l9.5-1l1 7l-8.5 1zM239.5 600.5l4 .5l1.5 7.5l-7 .5zM243.5 601l7.5 3.5l0 6l-6-2zM161 608l7.5 3l.5 4l-8 1.5zM168.5 611l6.5-3.5l-1 11l-5-3.5zM190.5 609l5.5-1l1 7.5l-8 1zM196 608l7 1.5l1 5l-7 1zM209 608.5l6.5 3l1 6.5l-5.5-1zM245 608.5l6 2l0 5.5l-5 1.5zM211 617l5.5 1l-1 6l-6.5-2zM239 617l7 .5l-1.5 7l-5 .5zM238.5 629l7 2.5l-.5 5.5l-6.5-1zM194.5 637.5l8 1.5l0 4.5l-7.5 2zM217.5 646l8.5-2l-2.5 9l-5.5-1.5zM215.5 658.5l10.5-.5l-3.5 8.5l-6.5-1zM231.5 658l7.5 1.5l1 6.5l-9.5 1zM243.5 657l7.5 2l0 7l-7 .5zM216 665.5l6.5 1l2.5 5.5l-8.5 .5zM230.5 667l9.5-1l-3.5 7.5l-5-1.5zM196 674l8.5-.5l-1 4.5l-9 3zM169 678l4 2l1 6l-8-.5zM174.5 694l6 1l2.5 4.5l-7 .5zM196.5 702l8-1l-3.5 8l-3-2zM217 702.5l8-4l-1 8.5l-7-1zM239.5 701l6-2.5l.5 7.5l-8 1zM233 713.5l4.5-1l-1 10l-7 0zM219 730.5l6.5 0l0 4.5l-7 2zM237 748.5l8.5 .5l1.5 6l-8.5 2zM269.5 467l4.5-3l1 9l-6-2.5zM251 470l7.5 .5l-1.5 6l-6 .5zM258.5 470.5l3-.5l2 9l-6.5-2.5zM261.5 470l7.5 .5l0 5.5l-5.5 3zM269 470.5l6 2.5l1.5 4l-7.5-1zM251 477l6-.5l-1.5 6.5l-4.5-.5zM257 476.5l6.5 2.5l-2 5l-6-1zM263.5 479l5.5-3l0 6l-7.5 2zM282.5 477.5l5.5-1.5l-1 7.5l-6.5-1zM297.5 476l3.5 2l0 6.5l-3-1.5zM251 482.5l4.5 .5l3 6l-7.5-.5zM255.5 483l6 1l.5 6l-3.5-1zM261.5 484l7.5-2l-.5 8.5l-6.5-.5zM280.5 482.5l6.5 1l-1 7l-4.5-1zM287 483.5l6-1.5l-.5 7.5l-6.5 1zM293 482l5 1l0 6l-5.5 .5zM298 483l3 1.5l0 5.5l-3-1zM251 488.5l7.5 .5l-1.5 6.5l-6-1zM258.5 489l3.5 1l2 6.5l-7-1zM281.5 489.5l4.5 1l0 4.5l-4.5-.5zM286 490.5l6.5-1l1.5 5.5l-8 0zM292.5 489.5l5.5-.5l-.5 5l-3.5 1zM298 489l3 1l0 4.5l-3.5-.5zM257 495.5l7 1l-2 4l-6 1zM286 495l8 0l-.5 5.5l-7.5 1.5zM294 495l3.5-1l1.5 8.5l-5.5-2zM297.5 494l3.5 .5l0 8.5l-2-.5zM256 501.5l6-1l2.5 8.5l-9-2zM269 501.5l5-.5l0 5.5l-6.5 2zM282 500.5l4 1.5l1 6l-5-.5zM286 502l7.5-1.5l-1.5 5.5l-5 2zM293.5 500.5l5.5 2l-1 3.5l-6 0zM299 502.5l2 .5l0 3.5l-3-.5zM251 508l4.5-1l1 7.5l-5.5 .5zM255.5 507l9 2l0 4.5l-8 1zM264.5 509l3-.5l1.5 4.5l-4.5 .5zM274 506.5l8 1l-1.5 6.5l-7-.5zM282 507.5l5 .5l-.5 6.5l-6-.5zM287 508l5-2l1.5 8l-7 .5zM292 506l6 0l2 6l-6.5 2zM298 506l3 .5l0 7l-1-1.5zM251 515l5.5-.5l1.5 5.5l-7 0zM264.5 513.5l4.5-.5l-1 6.5l-6.5-.5zM269 513l4.5 .5l.5 6.5l-6-.5zM273.5 513.5l7 .5l.5 5.5l-7 .5zM286.5 514.5l7-.5l0 5l-6.5-1zM293.5 514l6.5-2l-2 7.5l-4.5-.5zM300 512l1 1.5l0 6l-3 0zM251 520l7 0l-.5 6.5l-6.5-2.5zM258 520l3.5-1l3 5l-7 2.5zM261.5 519l6.5 .5l-.5 4.5l-3 0zM274 520l7-.5l0 7.5l-5.5-1zM281 519.5l6-1.5l0 6.5l-6 2.5zM293.5 519l4.5 .5l.5 7l-4-.5zM298 519.5l3 0l0 5l-2.5 2zM257.5 526.5l7-2.5l-2 6l-4.5 0zM275.5 526l5.5 1l1 3l-7 2zM281 527l6-2.5l-.5 8.5l-4.5-3zM287 524.5l7.5 1.5l-1.5 7l-6.5 0zM294.5 526l4 .5l.5 5l-6 1.5zM298.5 526.5l2.5-2l0 6l-2 1zM251 532.5l7-2.5l-2 8.5l-5-.5zM258 530l4.5 0l2 7l-8.5 1.5zM262.5 530l5 1l.5 7.5l-3.5-1.5zM282 530l4.5 3l.5 5.5l-4.5-2.5zM286.5 533l6.5 0l-1 4l-5 1.5zM293 533l6-1.5l-.5 4.5l-6.5 1zM299 531.5l2-1l0 6l-2.5-.5zM251 538l5 .5l2 6.5l-7-.5zM268 538.5l6.5-1l1 5l-6 2zM274.5 537.5l8-1.5l-3 8.5l-4-2zM282.5 536l4.5 2.5l-1 5.5l-6.5 .5zM287 538.5l5-1.5l1 7l-7 0zM292 537l6.5-1l1.5 7l-7 1zM298.5 536l2.5 .5l0 6l-1 .5zM251 544.5l7 .5l0 3.5l-7 1.5zM258 545l3.5-2l.5 6.5l-4-1zM261.5 543l8 1.5l-.5 4l-7 1zM269.5 544.5l6-2l.5 7.5l-7-1.5zM275.5 542.5l4 2l.5 3.5l-4 2zM279.5 544.5l6.5-.5l-.5 4.5l-5.5-.5zM286 544l7 0l1.5 6l-9-1.5zM300 543l1-.5l0 5.5l-1 0zM251 550l7-1.5l-1 7.5l-6-1zM262 549.5l7-1l-1 8l-4.5-.5zM269 548.5l7 1.5l.5 6l-8.5 .5zM276 550l4-2l0 7.5l-3.5 .5zM280 548l5.5 .5l0 5.5l-5.5 1.5zM285.5 548.5l9 1.5l-3 7l-6-3zM294.5 550l5.5-2l-1 7.5l-7.5 1.5zM300 548l1 0l0 8l-2-.5zM263.5 556l4.5 .5l1.5 5.5l-8-.5zM268 556.5l8.5-.5l-1.5 6.5l-5.5-.5zM276.5 556l3.5-.5l2 4.5l-7 2.5zM280 555.5l5.5-1.5l3 9l-6.5-3zM299 555.5l2 .5l0 6l-3-2zM261.5 561.5l8 .5l0 4l-8 1.5zM275 562.5l7-2.5l-2 6l-5.5 1zM282 560l6.5 3l-2 3l-6.5 0zM288.5 563l4.5-2.5l1 7.5l-7.5-2zM298 560l3 2l0 4.5l-.5 2.5zM251 566l7.5 1.5l-2.5 7.5l-5-1zM258.5 567.5l3 0l2.5 5l-8 2.5zM261.5 567.5l8-1.5l-1.5 7.5l-4-1zM280 566l6.5 0l1.5 8l-8.5-1zM286.5 566l7.5 2l0 5.5l-6 .5zM294 568l6.5 1l0 4.5l-6.5 0zM256 575l8-2.5l0 6l-7.5-.5zM264 572.5l4 1l2 7.5l-6-2.5zM275 574.5l4.5-1.5l1.5 8l-5.5-2.5zM279.5 573l8.5 1l-2.5 6.5l-4.5 .5zM288 574l6-.5l-2 6l-6.5 1zM294 573.5l6.5 0l-.5 6.5l-8-.5zM300.5 573.5l.5 1.5l0 4l-1 1zM251 578l5.5 0l1 6.5l-6.5 1.5zM264 578.5l6 2.5l-.5 3.5l-7 2zM281 581l4.5-.5l0 4l-4 2zM285.5 580.5l6.5-1l1 5.5l-7.5-.5zM292 579.5l8 .5l-1 4.5l-6 .5zM300 580l1-1l0 6.5l-2-1zM251 586l6.5-1.5l-1.5 6.5l-5 2zM262.5 586.5l7-2l-2 7l-6 0zM276.5 587l5-.5l0 6.5l-6.5 0zM281.5 586.5l4-2l2.5 8l-6.5 .5zM285.5 584.5l7.5 .5l.5 5.5l-5.5 2zM293 585l6-.5l.5 7l-6-1zM261.5 591.5l6 0l1 7.5l-5.5-1zM281.5 593l6.5-.5l-2 5l-4.5-1zM288 592.5l5.5-2l-1.5 5.5l-6 1.5zM293.5 590.5l6 1l0 4.5l-7.5 0zM299.5 591.5l1.5 1.5l0 5l-1.5-2zM257.5 597l5.5 1l1.5 6l-7 1zM268.5 599l7-2l-2 5l-5.5 .5zM275.5 597l6-.5l-1 7l-7-1.5zM281.5 596.5l4.5 1l2 6.5l-7.5-.5zM299.5 596l1.5 2l0 5.5l-2.5-1.5zM251 604l6.5 1l1 6l-7.5-.5zM257.5 605l7-1l-2.5 4.5l-3.5 2.5zM273.5 602l7 1.5l-1 7.5l-4-1zM280.5 603.5l7.5 .5l-1 4.5l-7.5 2.5zM288 604l3.5-.5l2.5 5.5l-7-.5zM291.5 603.5l7-1.5l1.5 7.5l-6-.5zM298.5 602l2.5 1.5l0 7l-1-1zM251 610.5l7.5 .5l0 3.5l-7.5 2.5zM258.5 611l3.5-2.5l1 6.5l-4.5-.5zM262 608.5l5.5-.5l2.5 8.5l-7-1.5zM267.5 608l8 2l0 6.5l-5.5 0zM275.5 610l4 1l1.5 3.5l-5.5 2zM279.5 611l7.5-2.5l-1.5 6l-4.5 0zM294 609l6 .5l-1.5 7l-4-.5zM300 609.5l1 1l0 6l-2.5 0zM251 617l7.5-2.5l-.5 5.5l-7 2.5zM258.5 614.5l4.5 .5l0 5l-5 0zM263 615l7 1.5l-2 3.5l-5 0zM270 616.5l5.5 0l-.5 6l-7-2.5zM281 614.5l4.5 0l1.5 7.5l-6 .5zM285.5 614.5l9 1.5l-1 5l-6.5 1zM294.5 616l4 .5l.5 4.5l-5.5 0zM298.5 616.5l2.5 0l0 4.5l-2 0zM268 620l7 2.5l.5 5.5l-6-1.5zM287 622l6.5-1l1 6l-7.5 1zM293.5 621l5.5 0l-.5 5l-4 1zM299 621l2 0l0 5l-2.5 0zM280 628l7 0l0 6l-7.5-1.5zM287 628l7.5-1l-.5 5.5l-7 1.5zM294.5 627l4-1l-1 6l-3.5 .5zM298.5 626l2.5 0l0 8.5l-3.5-2.5zM279.5 632.5l7.5 1.5l-.5 6.5l-6.5-1zM251 638l4.5 2l1.5 4l-6 2zM270 639l5-1l.5 8l-6-1zM280 639.5l6.5 1l.5 6.5l-5.5-2.5zM300.5 641l.5-.5l0 5.5l-2 1zM281.5 644.5l5.5 2.5l1.5 5.5l-7-.5zM264.5 650.5l5.5 0l0 7.5l-6 1zM270 650.5l5 2.5l0 3.5l-5 1.5zM251 658.5l7.5 0l-1.5 5l-6 .5zM262 662l8.5 1l0 7l-9-2zM270.5 670l3.5 1l0 5l-6 0zM274 671l7-1.5l-1 4.5l-6 2zM286 676l8-1l-.5 6.5l-6.5 .5zM251 682.5l7.5-.5l-3 6l-4.5 0zM251 688l4.5 0l2 5l-6.5 2zM257.5 693l4.5 1l1.5 6.5l-5.5-.5zM262 694l6-2l2 6.5l-6.5 2zM275 706l6-1.5l.5 8.5l-6.5-2.5zM281 704.5l5.5 1l.5 6.5l-5.5 1zM482 461l2.5-.5l1.5 6.5l-4-1zM484.5 460.5l6.5 2l1 4.5l-6 0zM491 462.5l4.5-.5l-1 5l-2.5 0zM495.5 462l4-.5l2 4l-7 1.5zM477 466l5 0l-.5 6.5l-4.5-1zM486 467l6 0l-2 5.5l-4-2zM494.5 467l7-1.5l-1 7l-5-1zM477 471.5l4.5 1l0 4l-5 1zM481.5 472.5l4.5-2l-1 4.5l-3.5 1.5zM486 470.5l4 2l1 5l-6-2.5zM490 472.5l5.5-1l1.5 6l-6 0zM495.5 471.5l5 1l1.5 3.5l-5 1.5zM476.5 477.5l5-1l-1 4l-6-.5zM481.5 476.5l3.5-1.5l1.5 6l-6-.5zM485 475l6 2.5l-1 3l-3.5 .5zM491 477.5l6 0l0 3l-7 0zM497 477.5l5-1.5l-2 4.5l-3 0zM502 476l3.5 0l0 5.5l-5.5-1zM301 481l4.5 .5l.5 6.5l-5-.5zM305.5 481.5l5 .5l0 4l-4.5 2zM310.5 482l6-1.5l0 7l-6-1.5zM474.5 480l6 .5l.5 7.5l-5.5-1.5zM480.5 480.5l6 .5l-.5 5l-5 2zM486.5 481l3.5-.5l0 4.5l-4 1zM490 480.5l7 0l-2 7l-5-2.5zM497 480.5l3 0l2 6.5l-7 .5zM301 487.5l5 .5l0 2.5l-5-.5zM346.5 486.5l6-1l-2 6l-5-.5zM475.5 486.5l5.5 1.5l1.5 4.5l-6-2zM481 488l5-2l1 5.5l-4.5 1zM486 486l4-1l1 6.5l-4 0zM490 485l5 2.5l1 3.5l-5 .5zM495 487.5l7-.5l-2 4l-4 0zM510.5 487.5l2.5-.5l0 5.5l-3.5-1.5zM301 490l5 .5l-1 6.5l-4 .5zM315 490l5 1.5l1 4l-4.5 2zM320 491.5l7.5 1l-1 3l-5.5 0zM327.5 492.5l4-.5l.5 6l-5.5-2.5zM470.5 490.5l6 0l-1.5 4.5l-3 1.5zM476.5 490.5l6 2l-1 2.5l-6.5 0zM487 491.5l4 0l1 5.5l-7 .5zM491 491.5l5-.5l-.5 5l-3.5 1zM496 491l4 0l1 5.5l-5.5-.5zM311 496.5l5.5 1l-.5 4l-5.5 1zM321 495.5l5.5 0l.5 5l-5 .5zM326.5 495.5l5.5 2.5l.5 4.5l-5.5-2zM332 498l3.5-2.5l.5 5l-3.5 2zM340 497.5l6-1.5l0 4l-4.5 2zM361.5 497l6 0l-3 5l-3.5-.5zM446 496l4 1.5l1 4l-4 0zM450 497.5l6-1.5l.5 4.5l-5.5 1zM456 496l4 0l0 5.5l-3.5-1zM472 496.5l3-1.5l-.5 5.5l-2-.5zM481.5 495l3.5 2.5l1 4.5l-5 1zM485 497.5l7-.5l-1 3l-5 2zM492 497l3.5-1l1.5 6l-6-2zM310.5 502.5l5.5-1l-.5 5l-5.5 .5zM332.5 502.5l3.5-2l-.5 6l-4 1zM341.5 502l4.5-2l-.5 5.5l-5.5 0zM361 501.5l3.5 .5l.5 4l-4-1zM364.5 502l7-1.5l.5 6l-7-.5zM371.5 500.5l5.5 2l-1.5 5.5l-3.5-1.5zM447 501.5l4 0l-.5 5l-3.5-.5zM472.5 500l2 .5l2.5 6l-6-1zM474.5 500.5l6.5 2.5l0 4l-4-.5zM486 502l5-2l1 6.5l-5-1zM491 500l6 2l-1 5l-4-.5zM326.5 506l5 1.5l-1.5 3l-5.5 1.5zM331.5 507.5l4-1l1 4l-6.5 0zM335.5 506.5l4.5-1l2 7.5l-5.5-2.5zM340 505.5l5.5 0l.5 6l-4 1.5zM345.5 505.5l6.5-.5l0 6.5l-6 0zM352 505l3 1l0 6.5l-3-1zM355 506l6-1l0 7l-6 .5zM361 505l4 1l1.5 4.5l-5.5 1.5zM365 506l7 .5l-2 6l-3.5-2zM372 506.5l3.5 1.5l-.5 3l-5 1.5zM435 507l7-2l-1 7l-4-1zM442 505l5 1l-1.5 6l-4.5 0zM447 506l3.5 .5l0 3.5l-5 2zM450.5 506.5l6-.5l-.5 5l-5.5-1zM477 506.5l4 .5l.5 4.5l-6-1zM481 507l6-1.5l-1.5 5.5l-4 .5zM310 511.5l7 .5l-.5 4.5l-6 1.5zM317 512l5.5 1l-1 2.5l-5 1zM322.5 513l2-1l1 5.5l-4-2zM330 510.5l6.5 0l-1.5 6l-3 0zM342 513l4-1.5l1 6l-6.5-.5zM346 511.5l6 0l0 4.5l-5 1.5zM352 511.5l3 1l2.5 4l-5.5-.5zM355 512.5l6-.5l1 6l-4.5-1.5zM361 512l5.5-1.5l-1 4.5l-3.5 3zM366.5 510.5l3.5 2l.5 3l-5-.5zM370 512.5l5-1.5l1 5.5l-5.5-1zM375 511l4.5 1l2.5 3l-6 1.5zM379.5 512l5.5 0l2 4l-5-1zM437 511l4 1l-1.5 5.5l-5-1zM441 512l4.5 0l1 4.5l-7 1zM445.5 512l5-2l.5 7.5l-4.5-1zM450.5 510l5.5 1l-1 7l-4-.5zM467 510.5l5.5 2l-2.5 3.5l-4.5-.5zM472.5 512.5l3-2l.5 5.5l-6 0zM481.5 511.5l4-.5l0 4l-4 1.5zM301 516l3.5 .5l1 5l-4.5 .5zM304.5 516.5l6 1.5l.5 4.5l-5.5-1zM310.5 518l6-1.5l.5 6l-6 0zM316.5 516.5l5-1l0 6l-4.5 1zM321.5 515.5l4 2l-.5 4.5l-3.5-.5zM332 516.5l3 0l1 4l-6.5 1.5zM347 517.5l5-1.5l-.5 4l-4.5 1.5zM352 516l5.5 .5l-1 6.5l-5-3zM357.5 516.5l4.5 1.5l-.5 2.5l-5 2.5zM362 518l3.5-3l0 6l-4-.5zM365.5 515l5 .5l-1 5.5l-4 0zM370.5 515.5l5.5 1l0 5l-6.5-.5zM382 515l5 1l0 4.5l-6.5 2zM430 516.5l4.5 0l1.5 5.5l-5.5-.5zM434.5 516.5l5 1l3 3l-6.5 1.5zM451 517.5l4 .5l.5 2l-4 1.5zM455 518l6.5-2.5l-.5 6.5l-5.5-2zM465.5 515.5l4.5 .5l2.5 6l-7.5-1zM476 516l5.5 .5l-.5 6.5l-6-1.5zM481.5 516.5l4-1.5l0 7l-4.5 1zM301 522l4.5-.5l.5 5.5l-5-.5zM305.5 521.5l5.5 1l-1.5 3.5l-3.5 1zM311 522.5l6 0l-1 3.5l-6.5 0zM317 522.5l4.5-1l-.5 4l-5 .5zM329.5 522l6.5-1.5l.5 6l-6.5-.5zM336 520.5l5.5 2l-1.5 3l-3.5 1zM347 521.5l4.5-1.5l-1.5 7l-4.5 .5zM351.5 520l5 3l-.5 3.5l-6 .5zM356.5 523l5-2.5l.5 6l-6 0zM361.5 520.5l4 .5l-.5 4.5l-3 1zM365.5 521l4 0l1.5 5.5l-6-1zM369.5 521l6.5 .5l1 4.5l-6 .5zM376 521.5l4.5 1l-.5 3l-3 .5zM380.5 522.5l6.5-2l-1 7.5l-6-2.5zM417 522.5l3 .5l.5 4l-5.5-1.5zM425 521l5.5 .5l1.5 5.5l-7-1.5zM455.5 520l5.5 2l1.5 4.5l-6-1zM461 522l4-1l2 6.5l-4.5-1zM465 521l7.5 1l-2 5l-3.5 .5zM472.5 522l2.5-.5l1 6.5l-5.5-1zM481 523l4.5-1l2 5.5l-7-.5zM485.5 522l6-.5l-2 4.5l-2 1.5zM301 526.5l5 .5l1.5 5l-6.5-1.5zM309.5 526l6.5 0l-.5 7l-3-2zM316 526l5-.5l-1 7l-4.5 .5zM321 525.5l5-.5l-.5 6l-5.5 1.5zM330 526l6.5 .5l1 6.5l-5.5-2.5zM340 525.5l5.5 2l-.5 3.5l-5 1zM345.5 527.5l4.5-.5l.5 4.5l-5.5-.5zM362 526.5l3-1l.5 5l-3 2zM365 525.5l6 1l0 4l-5.5 0zM371 526.5l6-.5l-1 6l-5-1.5zM377 526l3-.5l2 7.5l-6-1zM386 528l4-.5l0 3l-4 2zM440.5 528l6-2.5l.5 6l-6.5 .5zM452 525l4.5 .5l-1.5 5l-5 .5zM456.5 525.5l6 1l-2 4l-5.5 0zM476 528l4.5-1l2 4l-6.5-1zM480.5 527l7 .5l-.5 3l-4.5 .5zM489.5 526l6 .5l1.5 4l-7 1zM301 530.5l6.5 1.5l-1 4.5l-5.5 1zM307.5 532l5-1l-3 5l-3 .5zM312.5 531l3 2l1 2.5l-7 .5zM315.5 533l4.5-.5l1.5 4.5l-5-1.5zM320 532.5l5.5-1.5l1.5 6.5l-5.5-.5zM325.5 531l6.5-.5l0 5.5l-5 1.5zM332 530.5l5.5 2.5l-1 2.5l-4.5 .5zM337.5 533l2.5-1l.5 5l-4-1.5zM340 532l5-1l0 6.5l-4.5-.5zM345 531l5.5 .5l2 5l-7.5 1zM350.5 531.5l5 1.5l-.5 2.5l-2.5 1zM355.5 533l7-.5l-2.5 2.5l-5 .5zM362.5 532.5l3-2l1.5 5.5l-7-1zM382 533l4-.5l-.5 4.5l-3-1.5zM425.5 532.5l6.5-2l-1 6l-4.5-.5zM447 531.5l3-.5l-.5 4.5l-3 .5zM460.5 530.5l4.5 1.5l0 4.5l-3.5-.5zM465 532l6 .5l-1 4l-5 0zM482.5 531l4.5-.5l-2 6.5l-5-2zM497 530.5l4 .5l.5 4l-6.5 2.5zM301 537.5l5.5-1l-1.5 5.5l-4-.5zM306.5 536.5l3-.5l1 5.5l-5.5 .5zM309.5 536l7-.5l-.5 6l-5.5 0zM316.5 535.5l5 1.5l0 4l-5.5 .5zM321.5 537l5.5 .5l0 3l-5.5 .5zM327 537.5l5-1.5l0 5l-5-.5zM332 536l4.5-.5l-.5 5.5l-4 0zM352.5 536.5l2.5-1l2 4.5l-5.5 1.5zM360 535l7 1l-1.5 4.5l-6 1.5zM377 536l5.5-.5l-2.5 4.5l-4.5 1.5zM382.5 535.5l3 1.5l.5 5l-6-2zM405.5 536l5 .5l.5 4.5l-6 .5zM410.5 536.5l5 1l0 4.5l-4.5-1zM415.5 537.5l5.5-2l1 5l-6.5 1.5zM421 535.5l5.5 .5l-1.5 5.5l-3-1zM431 536.5l4.5-1l.5 7l-4.5 0zM435.5 535.5l6.5-.5l-1 6l-5 1.5zM455 536l6.5 0l-1 5.5l-5-.5zM475 537l5-2l0 5.5l-4 1.5zM480 535l5 2l2.5 3l-7.5 .5zM485 537l6-1l.5 6.5l-4-2.5zM301 541.5l4 .5l0 4l-4 1.5zM305 542l5.5-.5l0 4.5l-5.5 0zM310.5 541.5l5.5 0l.5 4.5l-6 0zM316 541.5l5.5-.5l-.5 5l-4.5 0zM321.5 541l5.5-.5l-2 5.5l-4 0zM327 540.5l5 .5l-1 6l-6-1zM332 541l4 0l-.5 4.5l-4.5 1.5zM346.5 542.5l5-1l-1 6.5l-5.5-.5zM351.5 541.5l5.5-1.5l-2 6.5l-4.5 1.5zM357 540l2.5 2l1.5 5l-6-.5zM359.5 542l6-1.5l1.5 5l-6 1.5zM380 540l6 2l.5 5l-6.5-1zM400.5 541l4.5 .5l.5 4l-6 1zM405 541.5l6-.5l1 5.5l-6.5-1zM411 541l4.5 1l1.5 6l-5-1.5zM425 541.5l6.5 1l-2 5l-4-.5zM431.5 542.5l4.5 0l1 4l-7.5 1zM436 542.5l5-1.5l1 4.5l-5 1zM441 541l6 0l.5 4.5l-5.5 0zM447 541l5 .5l-.5 4l-4 0zM455.5 541l5 .5l1 5.5l-4.5-1zM472 540l4 2l1.5 4l-7 .5zM476 542l4-1.5l1 4.5l-3.5 1zM480 540.5l7.5-.5l-1.5 6l-5-1zM301 547.5l4-1.5l1 5l-5-1zM305 546l5.5 0l.5 5.5l-5-.5zM310.5 546l6 0l.5 5.5l-6 0zM316.5 546l4.5 0l.5 5.5l-4.5 0zM321 546l4 0l.5 4.5l-4 1zM325 546l6 1l.5 3.5l-6 0zM331 547l4.5-1.5l1 6.5l-5-1.5zM340.5 546.5l4.5 1l1.5 4l-5 1.5zM345 547.5l5.5 .5l0 2l-4 1.5zM350.5 548l4.5-1.5l.5 4.5l-5-1zM355 546.5l6 .5l-.5 5l-5-1zM361 547l6-1.5l-2 5.5l-4.5 1zM367 545.5l5 1.5l-.5 3.5l-6.5 .5zM372 547l3.5-.5l1.5 4.5l-5.5-.5zM375.5 546.5l4.5-.5l2.5 6l-5.5-1zM386.5 547l5.5 0l-1 5.5l-4.5-2zM392 547l3.5-1.5l0 6.5l-4.5 .5zM395.5 545.5l4 1l3 4.5l-7 1zM405.5 545.5l6.5 1l-1 6l-5.5 .5zM417 548l2.5-1.5l1.5 5.5l-5 0zM419.5 546.5l6 .5l1.5 4l-6 1zM429.5 547.5l7.5-1l-1 5l-5.5-1.5zM442 545.5l5.5 0l-1 5.5l-5-1zM451.5 545.5l5.5 .5l0 6l-5 .5zM457 546l4.5 1l-2 5.5l-2.5-.5zM461.5 547l5.5 0l-1 5.5l-6.5 0zM470.5 546.5l7-.5l-2.5 5.5l-3.5 1zM301 550l5 1l1 5.5l-6-1zM306 551l5 .5l-1 5l-3 0zM311 551.5l6 0l0 4.5l-7 .5zM317 551.5l4.5 0l.5 4.5l-5 0zM321.5 551.5l4-1l1 4.5l-4.5 1zM331.5 550.5l5 1.5l-1 3.5l-4 0zM336.5 552l5 1l-1.5 4.5l-4.5-2zM341.5 553l5-1.5l-.5 6l-6 0zM360.5 552l4.5-1l2 6.5l-7-2zM365 551l6.5-.5l-1.5 6l-3 1zM371.5 550.5l5.5 .5l0 6.5l-7-1zM377 551l5.5 1l-2.5 4l-3 1.5zM382.5 552l4-1.5l0 7l-6.5-1.5zM386.5 550.5l4.5 2l1 5l-5.5 0zM391 552.5l4.5-.5l1 5l-4.5 .5zM395.5 552l7-1l-2.5 5l-3.5 1zM405.5 553l5.5-.5l.5 5l-4.5-1zM416 552l5 0l.5 3l-6.5 2.5zM421 552l6-1l-1.5 6.5l-4-2.5zM430.5 550l5.5 1.5l.5 3.5l-5 1.5zM446.5 551l5.5 1.5l-1.5 3l-3.5 1.5zM457 552l2.5 .5l2 5l-4.5-1zM459.5 552.5l6.5 0l-1 3.5l-3.5 1.5zM466 552.5l5.5 0l-.5 3l-6 .5zM307 556.5l3 0l1 5l-3.5-1.5zM310 556.5l7-.5l0 5.5l-6 0zM317 556l5 0l-1.5 4.5l-3.5 1zM322 556l4.5-1l-.5 5.5l-5.5 0zM326.5 555l5 .5l-1 7l-4.5-2zM331.5 555.5l4 0l2 6l-7 1zM340 557.5l6 0l0 5l-6.5-2zM354.5 557l5.5-1.5l1.5 5l-6.5 .5zM360 555.5l7 2l-1 4l-4.5-1zM367 557.5l3-1l2.5 6.5l-6.5-1.5zM370 556.5l7 1l-1 3.5l-3.5 2zM377 557.5l3-1.5l1 4.5l-5 .5zM380 556l6.5 1.5l0 3l-5.5 0zM386.5 557.5l5.5 0l-2.5 5l-3-2zM392 557.5l4.5-.5l1 4l-8 1.5zM396.5 557l3.5-1l1.5 4l-4 1zM407 556.5l4.5 1l-1.5 3.5l-4.5 .5zM411.5 557.5l3.5 0l0 3l-5 .5zM415 557.5l6.5-2.5l.5 7.5l-7-2zM447 557l3.5-1.5l0 5.5l-4 .5zM457 556.5l4.5 1l0 4.5l-6-.5zM461.5 557.5l3.5-1.5l1.5 4.5l-5 1.5zM301 560.5l6.5-.5l-1.5 6l-5 1.5zM307.5 560l3.5 1.5l.5 5l-5.5-.5zM311 561.5l6 0l-1 5l-4.5 0zM320.5 560.5l5.5 0l-.5 5.5l-6-.5zM326 560.5l4.5 2l-.5 4l-4.5-.5zM330.5 562.5l7-1l-1 4.5l-6.5 .5zM339.5 560.5l6.5 2l1 3.5l-5.5-.5zM346 562.5l4-1l0 6l-3-1.5zM350 561.5l5-.5l0 6l-5 .5zM355 561l6.5-.5l-1.5 6.5l-5 0zM361.5 560.5l4.5 1l-1 6l-5-.5zM366 561.5l6.5 1.5l-2.5 4l-5 .5zM372.5 563l3.5-2l-1 5.5l-5 .5zM376 561l5-.5l-1 5l-5 1zM386.5 560.5l3 2l2.5 4.5l-6-2zM389.5 562.5l8-1.5l-2 6l-3.5 0zM397.5 561l4-1l-1.5 6.5l-4.5 .5zM401.5 560l4 1.5l0 5.5l-5.5-.5zM405.5 561.5l4.5-.5l0 5.5l-4.5 .5zM410 561l5-.5l2 6l-7 0zM422 562.5l5-.5l-1.5 5.5l-4-2.5zM436.5 561.5l5.5 1.5l0 4l-6 .5zM455.5 561.5l6 .5l-1 4l-3-.5zM301 567.5l5-1.5l0 6l-5-2zM306 566l5.5 .5l-1.5 6l-4-.5zM311.5 566.5l4.5 0l1 5l-7 1zM319.5 565.5l6 .5l.5 6.5l-6.5-1zM325.5 566l4.5 .5l0 5l-4 1zM330 566.5l6.5-.5l.5 6l-7-.5zM336.5 566l5-.5l.5 7l-5-.5zM341.5 565.5l5.5 .5l-1 5.5l-4 1zM347 566l3 1.5l1 3.5l-5 .5zM350 567.5l5-.5l0 4.5l-4-.5zM355 567l5 0l2.5 5.5l-7.5-1zM360 567l5 .5l1.5 3.5l-4 1.5zM365 567.5l5-.5l.5 4l-4 0zM370 567l5-.5l2 4.5l-6.5 0zM375 566.5l5-1l.5 4.5l-3.5 1zM386 565l6 2l-.5 5l-4 0zM392 567l3.5 0l1.5 5l-5.5 0zM395.5 567l4.5-.5l.5 5.5l-3.5 0zM405.5 567l4.5-.5l.5 6l-5-.5zM410 566.5l7 0l-1 4l-5.5 2zM417 566.5l4.5-1.5l-1 5.5l-4.5 0zM421.5 565l4 2.5l-.5 5.5l-4.5-2.5zM431 567.5l5 0l-1 4l-3 0zM436 567.5l6-.5l-1.5 5l-5.5-.5zM442 567l4.5-1l-1 6l-5 0zM446.5 566l4 1l1 5.5l-6-.5zM450.5 567l7-1.5l-1 7l-5 0zM301 570l5 2l.5 5.5l-5.5-2.5zM306 572l4 .5l0 3.5l-3.5 1.5zM310 572.5l7-1l-1 4.5l-6 0zM317 571.5l2.5 0l1 6l-4.5-1.5zM319.5 571.5l6.5 1l.5 4l-6 1zM326 572.5l4-1l0 4.5l-3.5 .5zM330 571.5l7 .5l-1 3.5l-6 .5zM337 572l5 .5l-2 4.5l-4-1.5zM342 572.5l4-1l1 6l-7-.5zM346 571.5l5-.5l0 6l-4 .5zM351 571l4 .5l-.5 5l-3.5 .5zM355 571.5l7.5 1l-.5 4.5l-7.5-.5zM362.5 572.5l4-1.5l.5 4.5l-5 1.5zM366.5 571l4 0l0 7l-3.5-2.5zM370.5 571l6.5 0l-1.5 6.5l-5 .5zM377 571l3.5-1l2 8l-7-.5zM380.5 570l7 2l-2 5l-3 1zM387.5 572l4 0l-1.5 5.5l-4.5-.5zM391.5 572l5.5 0l0 5.5l-7 0zM397 572l3.5 0l-.5 3.5l-3 2zM405.5 572l5 .5l-.5 3.5l-3.5 0zM410.5 572.5l5.5-2l1 6.5l-7-1zM416 570.5l4.5 0l1.5 5.5l-5 1zM420.5 570.5l4.5 2.5l1.5 2.5l-4.5 .5zM425 573l7-1.5l-1.5 5.5l-4-1.5zM432 571.5l3 0l2.5 4.5l-7 1zM435 571.5l5.5 .5l.5 5l-3.5-1zM445.5 572l6 .5l0 5l-6.5-1.5zM301 575l5.5 2.5l-.5 3.5l-5 0zM306.5 577.5l3.5-1.5l1 5.5l-5-.5zM316 576l4.5 1.5l-1 5.5l-3.5-2zM320.5 577.5l6-1l1 4.5l-8 2zM326.5 576.5l3.5-.5l2.5 5.5l-5-.5zM330 576l6-.5l0 4.5l-3.5 1.5zM351 577l3.5-.5l1 6l-5 0zM362 577l5-1.5l-1 5.5l-6.5-.5zM367 575.5l3.5 2.5l0 3.5l-4.5-.5zM382.5 578l3-1l0 4.5l-4.5 0zM390 577.5l7 0l-2.5 4.5l-2.5-1zM406.5 576l3.5 0l.5 5l-5.5 .5zM422 576l4.5-.5l-1.5 7l-4.5-2zM426.5 575.5l4 1.5l1.5 5l-7 .5zM437.5 576l3.5 1l1.5 5l-6-1zM441 577l4-1l0 4.5l-2.5 1.5zM301 581l5 0l.5 5.5l-5.5-.5zM306 581l5 .5l-1 6l-3.5-1zM311 581.5l5-.5l0 5l-6 1.5zM327.5 581l5 .5l-1.5 3.5l-6 2zM332.5 581.5l3.5-1.5l-1 7.5l-4-2.5zM336 580l5.5 3l-.5 3l-6 1.5zM345.5 581l5 1.5l.5 5l-5.5-.5zM350.5 582.5l5 0l-.5 3.5l-4 1.5zM355.5 582.5l4-2l1.5 6l-6-.5zM359.5 580.5l6.5 .5l0 5l-5 .5zM370.5 581.5l4.5 0l1.5 5l-6.5 1zM385.5 581.5l6.5-.5l-1 4.5l-4 2zM392 581l2.5 1l1 5l-4.5-1.5zM402 582l3-.5l1 6l-4.5-.5zM410.5 581l6.5 0l-1 5.5l-4.5 0zM420.5 580.5l4.5 2l2 3l-5.5 0zM425 582.5l7-.5l-.5 3.5l-4.5 0zM310 587.5l6-1.5l-1 5l-4.5 .5zM316 586l4 1.5l.5 3.5l-5.5 0zM320 587.5l5-.5l2 5l-6.5-1zM335 587.5l6-1.5l1 5l-7-.5zM341 586l4.5 1l1 5l-4.5-1zM345.5 587l5.5 .5l.5 4.5l-5 0zM361 586.5l5-.5l0 5l-4-1zM366 586l4 1.5l0 5l-4-1.5zM370 587.5l6.5-1l-1 5.5l-5.5 .5zM376.5 586.5l4.5 1l-.5 5l-5-.5zM381 587.5l6 0l.5 4.5l-7 .5zM387 587.5l4-2l-.5 6.5l-3 0zM395.5 587l6 0l-1.5 3.5l-3 2zM406 587.5l5.5-1l.5 4.5l-5 .5zM427 585.5l4.5 0l0 6.5l-5 .5zM305.5 592.5l5-1l1 4l-6.5 0zM310.5 591.5l4.5-.5l-.5 6l-3-1.5zM320.5 591l6.5 1l-1 5l-4.5-1zM327 592l3.5-1.5l1 5l-5.5 1.5zM330.5 590.5l4.5 0l.5 7.5l-4-2.5zM342 591l4.5 1l-.5 5l-4-1zM346.5 592l5 0l-1.5 5l-4 0zM351.5 592l5.5-1.5l-1 6l-6 .5zM357 590.5l5-.5l-.5 5.5l-5.5 1zM362 590l4 1l-1.5 4.5l-3 0zM370 592.5l5.5-.5l0 5l-5-1zM375.5 592l5 .5l2 3.5l-7 1zM380.5 592.5l7-.5l-1.5 4.5l-3.5-.5zM387.5 592l3 0l-.5 3l-4 1.5zM390.5 592l6.5 .5l-2 3.5l-5-1zM397 592.5l3-2l1 6.5l-6-1zM400 590.5l7 1l-1 6l-5-.5zM407 591.5l5-.5l0 6.5l-6 0zM426.5 592.5l5-.5l0 4.5l-5 1zM305 595.5l6.5 0l-.5 5l-5 2zM321.5 596l4.5 1l-.5 6l-6-2.5zM326 597l5.5-1.5l-1.5 5l-4.5 2.5zM331.5 595.5l4 2.5l-.5 3.5l-5-1zM335.5 598l6.5-2l-1.5 6.5l-5.5-1zM342 596l4 1l-1.5 4.5l-4 1zM350 597l6-.5l-.5 4l-3 2zM356 596.5l5.5-1l0 5l-6 0zM364.5 595.5l6 .5l-1 5l-2.5 .5zM375.5 597l7-1l-1.5 7l-4-.5zM382.5 596l3.5 .5l-1 3.5l-4 3zM386 596.5l4-1.5l1.5 7l-6.5-2zM395 596l6 1l0 4.5l-6 1zM401 597l5 .5l0 3l-5 1zM406 597.5l6 0l-1.5 5l-4.5-2zM416.5 596l4-.5l.5 5l-4 1.5zM426.5 597.5l5-1l-2 4.5l-2.5-.5zM431.5 596.5l4 0l1.5 6l-7.5-1.5zM446.5 598l5-1l-.5 4.5l-4.5 .5zM301 601l5 1.5l1 5l-6-.5zM306 602.5l5-2l0 6.5l-4 .5zM311 600.5l4 2l.5 3.5l-4.5 1zM319.5 600.5l6 2.5l1 4.5l-5-.5zM325.5 603l4.5-2.5l1.5 6.5l-5 .5zM335 601.5l5.5 1l1 3l-5.5-.5zM340.5 602.5l4-1l2 5.5l-5-1.5zM344.5 601.5l8 1l-3 3.5l-3 1zM352.5 602.5l3-2l.5 4.5l-6.5 1zM355.5 600.5l6 0l-.5 7l-5-2.5zM361.5 600.5l5.5 1l-1 5.5l-5 .5zM369.5 601l7.5 1.5l0 3l-4.5 .5zM377 602.5l4 .5l-.5 5l-3.5-2.5zM381 603l4-3l2 8l-6.5 0zM385 600l6.5 2l.5 3l-5 3zM391.5 602l3.5 .5l1.5 4l-4.5-1.5zM410.5 602.5l6.5-.5l-.5 4.5l-4.5-1zM417 602l4-1.5l.5 7l-5-1zM421 600.5l6 0l-2 7l-3.5 0zM446.5 602l4.5-.5l.5 5.5l-4.5 1zM301 607l6 .5l-.5 4l-5.5-.5zM307 607.5l4-.5l1 5.5l-5.5-1zM311 607l4.5-1l.5 5l-4 1.5zM315.5 606l6 1l1 4l-6.5 0zM321.5 607l5 .5l-.5 5l-3.5-1.5zM326.5 607.5l5-.5l-1 4l-4.5 1.5zM331.5 607l4.5-2l0 5.5l-5.5 .5zM341.5 605.5l5 1.5l.5 3.5l-5.5 2.5zM346.5 607l3-1l0 6l-2.5-1.5zM349.5 606l6.5-1l-1.5 6l-5 1zM356 605l5 2.5l1.5 5l-8-1.5zM361 607.5l5-.5l-.5 3.5l-3 2zM366 607l6.5-1l-2 6l-5-1.5zM377 605.5l3.5 2.5l.5 4l-5.5 0zM380.5 608l6.5 0l0 2.5l-6 1.5zM392 605l4.5 1.5l-.5 5.5l-5.5-1.5zM400 608l5.5-2.5l1 7l-6-1.5zM405.5 605.5l6.5 0l-1 7l-4.5 0zM412 605.5l4.5 1l-1 5l-4.5 1zM421.5 607.5l3.5 0l.5 5l-5-2.5zM425 607.5l6.5-2l-1 5.5l-5 1.5zM431.5 605.5l4.5 0l0 7l-5.5-1.5zM441 607l6 1l-1 4.5l-6-2zM447 608l4.5-1l-.5 4l-5 1.5zM456 607l6 .5l-2 5l-3.5-1zM301 611l5.5 .5l-1 4l-4.5 1.5zM306.5 611.5l5.5 1l-2 4l-4.5-1zM312 612.5l4-1.5l.5 5l-6.5 .5zM316 611l6.5 0l-.5 5l-5.5 0zM322.5 611l3.5 1.5l0 5.5l-4-2zM330.5 611l5.5-.5l-.5 5.5l-5 .5zM336 610.5l5.5 2.5l-1 3.5l-5-.5zM341.5 613l5.5-2.5l0 7.5l-6.5-1.5zM347 610.5l2.5 1.5l2.5 5l-5 1zM349.5 612l5-1l1 5l-3.5 1zM354.5 611l8 1.5l-.5 3.5l-6.5 0zM362.5 612.5l3-2l0 6.5l-3.5-1zM365.5 610.5l5 1.5l-.5 5l-4.5 0zM370.5 612l5 0l1 5.5l-6.5-.5zM381 612l6-1.5l-.5 5l-6.5 .5zM387 610.5l3.5 0l1.5 7l-5.5-2zM390.5 610.5l5.5 1.5l0 3.5l-4 2zM396 612l4.5-1l1.5 7l-6-2.5zM400.5 611l6 1.5l0 3l-4.5 2.5zM406.5 612.5l4.5 0l-1 5l-3.5-2zM411 612.5l4.5-1l1 4.5l-6.5 1.5zM425.5 612.5l5-1.5l-.5 5l-2.5 0zM440 610.5l6 2l0 4l-5 0zM460 612.5l6.5-2l-.5 6l-4.5-1zM305.5 615.5l4.5 1l1.5 4.5l-5.5 1.5zM310 616.5l6.5-.5l.5 4l-5.5 1zM322 616l4 2l0 5l-5-2zM330.5 616.5l5-.5l2 5.5l-6.5-1zM340.5 616.5l6.5 1.5l-.5 4.5l-5-.5zM352 617l3.5-1l1 5.5l-5 0zM355.5 616l6.5 0l-.5 5.5l-5 0zM370 617l6.5 .5l-.5 3l-3.5 2zM376.5 617.5l3.5-1.5l1.5 4.5l-5.5 0zM386.5 615.5l5.5 2l-2 4l-4.5 1zM392 617.5l4-2l1.5 7l-7.5-1zM406.5 615.5l3.5 2l.5 5l-5-2.5zM446 616.5l5 0l-1 5l-4.5 .5zM451 616.5l5.5 .5l1 5.5l-7.5-1zM461.5 615.5l4.5 1l-1.5 5l-4.5 .5zM301 622l5 .5l0 5.5l-5-2.5zM306 622.5l5.5-1.5l.5 5.5l-6 1.5zM311.5 621l5.5-1l-2 7.5l-3-1zM317 620l4 1l0 6.5l-6 0zM321 621l5 2l-.5 3.5l-4.5 1zM331 620.5l6.5 1l-2 4.5l-5.5 1zM337.5 621.5l4 .5l-1 4l-5 0zM341.5 622l5 .5l-1.5 3l-4.5 .5zM356.5 621.5l5 0l-.5 5.5l-4.5 0zM361.5 621.5l5 0l0 4.5l-5.5 1zM366.5 621.5l6 1l-3 5l-3-1.5zM372.5 622.5l3.5-2l-1 4.5l-5.5 2.5zM376 620.5l5.5 0l1 5.5l-7.5-1zM381.5 620.5l4 2l1.5 2.5l-4.5 1zM385.5 622.5l4.5-1l1.5 5.5l-4.5-2zM390 621.5l7.5 1l-1.5 4l-4.5 .5zM397.5 622.5l3-1l1.5 5l-6 0zM410.5 622.5l5.5-2l.5 6l-6 1zM416 620.5l6 2.5l-.5 3.5l-5 0zM450 621.5l7.5 1l-.5 2.5l-6 2zM301 625.5l5 2.5l1 3.5l-6 0zM312 626.5l3 1l1.5 3.5l-4.5-.5zM315 627.5l6 0l-.5 4l-4-.5zM340.5 626l4.5-.5l0 6l-5 .5zM345 625.5l6.5 1l.5 4l-7 1zM361 627l5.5-1l1 6l-6.5-1zM366.5 626l3 1.5l2.5 5l-4.5-.5zM375 625l7.5 1l-1.5 6.5l-5-1.5zM387 625l4.5 2l-.5 4.5l-4 .5zM391.5 627l4.5-.5l-1 4.5l-4 .5zM396 626.5l6 0l-2 4l-5 .5zM402 626.5l4.5 .5l-1.5 5l-5-1.5zM416.5 626.5l5 0l-.5 4.5l-6 1zM421.5 626.5l4.5-1l.5 5l-5.5 .5zM431.5 625.5l3.5-.5l0 6.5l-4.5 1zM457 625l5 1l0 6l-6-1.5zM307 631.5l5-1l-1.5 6.5l-4-.5zM312 630.5l4.5 .5l0 5l-6 1zM320.5 631.5l5.5 0l1 6l-5-1zM330.5 632l5-1.5l0 6.5l-5.5-1.5zM340 632l5-.5l2 4.5l-6.5 1.5zM352 630.5l4.5 2l-.5 4.5l-5 0zM356.5 632.5l4.5-1.5l.5 6l-5.5 0zM361 631l6.5 1l-.5 4l-5.5 1zM367.5 632l4.5 .5l-1 3l-4 .5zM372 632.5l4-1.5l-1.5 6.5l-3.5-2zM376 631l5 1.5l-.5 4.5l-6 .5zM387 632l4-.5l-1 4l-3.5 0zM391 631.5l4-.5l0 6l-5-1.5zM400 630.5l5 1.5l-.5 3.5l-4-.5zM412 631l3 1l2 3.5l-7.5 1.5zM421 631l5.5-.5l-.5 4.5l-5 2zM430.5 632.5l4.5-1l1 6l-6.5-.5zM301 636.5l5.5 0l.5 6l-6-1zM330 635.5l5.5 1.5l0 3.5l-5.5 2zM335.5 637l5 .5l-1 4.5l-4-1.5zM340.5 637.5l6.5-1.5l0 6.5l-7.5-.5zM347 636l4 1l-1 4.5l-3 1zM351 637l5 0l0 3.5l-6 1zM356 637l5.5 0l1 5.5l-6.5-2zM367 636l4-.5l.5 6l-5.5 .5zM374.5 637.5l6-.5l1 5.5l-6.5-1.5zM386.5 635.5l3.5 0l0 6l-4.5 .5zM395 637l5.5-2l-.5 7.5l-3-1.5zM409.5 637l7.5-1.5l-2.5 6l-3.5-.5zM429.5 637l6.5 .5l-1 4.5l-3.5-1zM335.5 640.5l4 1.5l.5 5.5l-5.5 0zM350 641.5l6-1l1 6l-5-1zM356 640.5l6.5 2l-.5 3l-5 1zM362.5 642.5l3.5-.5l0 5l-4-1.5zM366 642l5.5-.5l-.5 5.5l-5 0zM375 641l6.5 1.5l-1 3.5l-3.5 1zM407 640.5l4 .5l1 5.5l-5.5 1zM411 641l3.5 .5l3 4l-5.5 1zM422 641l5.5 1l-2 3.5l-5.5 1zM427.5 642l4-1l-2 5l-4-.5zM334.5 647.5l5.5 0l2 3.5l-6.5 0zM352 645.5l5 1l-2.5 5.5l-3 0zM377 647l3.5-1l.5 5.5l-6 1.5zM380.5 646l4.5-.5l1 5l-5 1zM390 647.5l5-1l.5 5.5l-5-2zM412 646.5l5.5-1l-.5 6.5l-6-1.5zM417.5 645.5l2.5 1l-.5 4.5l-2.5 1zM425.5 645.5l4 .5l1 6l-3.5-.5zM321.5 651l3.5 1.5l2.5 4.5l-5-1.5zM330.5 652l5-1l1.5 7l-7-.5zM335.5 651l6.5 0l-2 4.5l-3 2.5zM342 651l5.5 .5l-.5 6l-7-2zM361 651.5l4.5 1l0 4l-3.5 1zM375 653l6-1.5l0 5l-5 1zM381 651.5l5-1l-.5 5l-4.5 1zM386 650.5l4.5-.5l1 7l-6-1.5zM390.5 650l5 2l0 4l-4 1zM395.5 652l5-1l1.5 4l-6.5 1zM430.5 652l5.5-1.5l-.5 5.5l-5.5-.5zM330 657.5l7 .5l-1 2.5l-6.5 1zM340 655.5l7 2l-1.5 2.5l-5.5 3zM402 655l4 1l-1 6.5l-4-1.5zM416.5 655l4.5 2.5l0 5.5l-5.5-3zM326 660.5l3.5 1l1.5 4l-5.5 .5zM345.5 660l6 2l-.5 4.5l-4 1zM351.5 662l4.5-.5l1 6l-6-1zM376 662l5.5-1.5l-1.5 5l-2.5 0zM325.5 666l5.5-.5l1.5 6l-7.5-.5zM377.5 665.5l2.5 0l1 5l-5 1.5zM380 665.5l6 .5l-1 4.5l-4 0zM396.5 665.5l5 1.5l1 6l-7.5-3zM406 667l4.5-1.5l1 6l-5.5-.5zM334.5 671l5 .5l1.5 5l-4 0zM339.5 671.5l6 .5l-1 5.5l-3.5-1zM345.5 672l6-1l.5 5.5l-7.5 1zM357 671.5l3.5 .5l0 4l-4.5 1zM321.5 677.5l4-1l-.5 4l-4.5 1.5zM325.5 676.5l4.5 .5l-.5 5l-4.5-1.5zM344.5 677.5l7.5-1l-1 5l-4.5 1.5zM396.5 677l5 .5l0 3l-6.5 .5zM417 675.5l3 1.5l1.5 4l-4 0zM320.5 682l4.5-1.5l2.5 6l-6 0zM405.5 688l6.5-2.5l-2 6l-4.5-.5zM336.5 693l4.5-1.5l-1 4.5l-3.5-1zM390.5 690.5l6 2l0 3.5l-5 1zM422 697.5l3.5-1l0 6.5l-5-.5zM334.5 700.5l5.5 .5l1 5l-4.5 2zM380 701l6.5-.5l-1.5 5l-4 .5zM390.5 700.5l6 2l-.5 4.5l-4.5 0zM405.5 701.5l5-.5l-.5 5l-4 .5zM410.5 701l6 1l-.5 5l-6-1zM396 707l4-.5l0 5l-3.5 1zM420.5 707.5l5-1l2 5l-5.5 1zM425.5 706.5l5.5 .5l0 3.5l-3.5 1zM316.5 710.5l3 2l1 3.5l-5 1.5zM400 711.5l7-.5l-.5 5.5l-6-.5zM410.5 711l6.5-.5l-1.5 6l-5.5-.5zM431 710.5l6 1.5l-1.5 4l-5 0zM425.5 716.5l5-.5l1 6.5l-4 0zM411.5 720.5l5 1l-2 4.5l-3.5 1zM421 721l6.5 1.5l-2 3l-5 2.5zM431.5 722.5l3.5-1l2 3.5l-7 1.5zM411 727l3.5-1l1 6.5l-6 0zM414.5 726l6 2l1.5 2.5l-6.5 2zM422 730.5l5 .5l-2 5.5l-5 1zM415 757.5l7-2l-1 7l-6 0zM426 755.5l4 1.5l2 5.5l-5.5-1.5z" fill="#c9c9c9" stroke="#8a8a8a" stroke-width="0.5"/><path d="M28.5 450l16.5-.5l-2 14l-11.5-1.5zM84.5 454l10.5-1.5l-1 13.5l-6 0zM85 473.5l14 2.5l0 10.5l-10.5-2.5zM109.5 471.5l8 .5l4 15.5l-11-4zM117.5 472l10 .5l3.5 10.5l-9.5 4.5zM127.5 472.5l15 2l0 10.5l-11.5-2zM30.5 488.5l14.5-5.5l-2.5 15l-11.5-1zM18.5 495l12.5 2l2.5 8.5l-16 3.5zM33.5 505.5l11 3.5l-1 11.5l-14.5 .5zM19.5 520.5l9.5 .5l4 7l-13.5 4.5zM29 521l14.5-.5l1 8l-11.5-.5zM9 530.5l10.5 2l2.5 5l-13 5zM19.5 532.5l13.5-4.5l-4 14l-7-4.5zM33 528l11.5 .5l-1.5 14.5l-14-1zM120 531l11.5-2.5l-4 13.5l-10.5-3zM9 542.5l13-5l-4 16.5l-9-5zM129 583.5l13 1l.5 13l-13 .5zM184 476l6.5 1l0 5l-6.5 .5zM190.5 477l6 1.5l1.5 7l-7.5-3.5zM238.5 478.5l6.5-4l1.5 9l-9.5 0zM198 485.5l4-1l0 5.5l-6.5 2zM202 484.5l9.5-2l-2 8l-7.5-.5zM211.5 482.5l4.5 0l1 9.5l-7.5-1.5zM216 482.5l8.5 2l.5 4l-8 3.5zM230 482l7 1.5l-.5 8l-5.5-1zM237 483.5l9.5 0l-1.5 8l-8.5 0zM217 492l8-3.5l-2.5 10l-7 .5zM161 498l6-1l-.5 7.5l-5.5 2zM217 519l6.5-2.5l1.5 8l-6.5 2zM223.5 516.5l6 1.5l2.5 9l-7-2.5zM195.5 531l7 .5l-1 7.5l-6 1.5zM202.5 531.5l8 .5l.5 6l-9.5 1zM210.5 532l5.5-1l2.5 8l-7.5-1zM216 531l8.5 1.5l-1 7.5l-5-1zM224.5 532.5l6.5-1.5l-.5 9l-7 0zM231 531l7 .5l1.5 8l-9 .5zM238 531.5l7.5 .5l-1 6.5l-5 1zM195.5 540.5l6-1.5l1 7.5l-8-1.5zM201.5 539l9.5-1l0 7l-8.5 1.5zM211 538l7.5 1l-.5 6.5l-7-.5zM218.5 539l5 1l.5 5.5l-6 0zM223.5 540l7 0l-.5 7.5l-6-2zM230.5 540l9-.5l-2 6l-7.5 2zM239.5 539.5l5-1l.5 10l-7.5-3zM194.5 545l8 1.5l-.5 8l-5.5-.5zM202.5 546.5l8.5-1.5l-.5 7.5l-8.5 2zM245 548.5l6-3l0 9l-7.5-1.5zM231.5 623.5l8 1.5l-1 4l-8.5-.5zM239.5 625l5-.5l1 7l-7-2.5zM244.5 624.5l6.5-.5l0 7.5l-5.5 0zM230 628.5l8.5 .5l0 7l-8.5-.5zM245.5 631.5l5.5 0l0 5l-6 .5zM230 635.5l8.5 .5l1.5 10l-10-1zM238.5 636l6.5 1l-1.5 7.5l-3.5 1.5zM245 637l6-.5l0 9l-7.5-1zM240 646l3.5-1.5l3.5 8.5l-9.5-2.5zM243.5 644.5l7.5 1l0 8l-4-.5zM247 653l4 .5l0 5.5l-7.5-2zM269 482l6.5 1.5l-.5 5l-6.5 2zM275.5 483.5l5-1l1 7l-6.5-1zM262 490l6.5 .5l1.5 6l-6 0zM268.5 490.5l6.5-2l1 5.5l-6 2.5zM275 488.5l6.5 1l0 5l-5.5-.5zM264 496.5l6 0l-1 5l-7-1zM270 496.5l6-2.5l-2 7l-5 .5zM276 494l5.5 .5l.5 6l-8 .5zM281.5 494.5l4.5 .5l0 7l-4-1.5zM274 501l8-.5l0 7l-8-1zM256.5 514.5l8-1l-3 5.5l-3.5 1zM267.5 524l8 2l-.5 6l-7.5-1zM270 581l5.5-2.5l1 8.5l-7-2.5zM269.5 584.5l7 2.5l-1.5 6l-7.5-1.5zM267.5 591.5l7.5 1.5l.5 4l-7 2zM275.5 616.5l5.5-2l0 8l-6 0zM251 622.5l7-2.5l-.5 6l-6.5 3zM263 620l5 0l1.5 6.5l-6 .5zM275 622.5l6 0l-1 5.5l-4.5 0zM251 629l6.5-3l-2 9l-4.5-1.5zM257.5 626l6 1l-2 5l-6 3zM263.5 627l6-.5l0 8.5l-8-3zM275.5 628l4.5 0l-.5 4.5l-4.5 1.5zM251 633.5l4.5 1.5l0 5l-4.5-2zM255.5 635l6-3l3 8.5l-9-.5zM261.5 632l8 3l.5 4l-5.5 1.5zM269.5 635l5.5-1l0 4l-5 1zM275 634l4.5-1.5l.5 7l-5-1.5zM255.5 640l9 .5l0 4.5l-7.5-1zM275 638l5 1.5l1.5 5l-6 1.5zM251 646l6-2l1 6l-7 2zM257 644l7.5 1l0 5.5l-6.5-.5zM264.5 645l5 0l.5 5.5l-5.5 0zM269.5 645l6 1l-.5 7l-5-2.5zM275.5 646l6-1.5l0 7.5l-6.5 1zM251 652l7-2l.5 8.5l-7.5 0zM258 650l6.5 .5l-.5 8.5l-5.5-.5zM275 653l6.5-1l.5 7l-7-2.5zM500 480.5l5.5 1l2 5l-5.5 .5zM505.5 481.5l5-.5l0 6.5l-3-1zM502 487l5.5-.5l-2 4l-5.5 .5zM507.5 486.5l3 1l-1 3.5l-4-.5zM345.5 491l5 .5l1 4.5l-5.5 0zM350.5 491.5l6-1l.5 6.5l-5.5-1zM500 491l5.5-.5l-.5 5.5l-4 .5zM505.5 490.5l4 .5l1.5 5l-6 0zM301 497.5l4-.5l1 4l-5-1zM305 497l6-.5l-.5 6l-4.5-1.5zM346 496l5.5 0l-1 5.5l-4.5-1.5zM351.5 496l5.5 1l0 5.5l-6.5-1zM357 497l4.5 0l-.5 4.5l-4 1zM301 500l5 1l0 5l-5 1zM306 501l4.5 1.5l-.5 4.5l-4-1zM346 500l4.5 1.5l1.5 3.5l-6.5 .5zM350.5 501.5l6.5 1l-2 3.5l-3-1zM357 502.5l4-1l0 3.5l-6 1zM301 507l5-1l.5 6l-5.5 1zM306 506l4 1l0 4.5l-3.5 .5zM315.5 506.5l6-1l1 7.5l-5.5-1zM321.5 505.5l5 .5l-2 6l-2 1zM301 513l5.5-1l-2 4.5l-3.5-.5zM306.5 512l3.5-.5l.5 6.5l-6-1.5zM321.5 521.5l3.5 .5l1 3l-5 .5zM325 522l4.5 0l.5 4l-4-1z" fill="#a4d8ec" stroke="#8a8a8a" stroke-width="0.5"/><path d="M45 483l8 4.5l2 10.5l-12.5 0zM66.5 484.5l6.5 1l2 11.5l-10.5 2zM87.5 517l11.5 0l.5 14l-16 .5zM99.5 531l8-1.5l1 10l-10 3zM107.5 529.5l12.5 1.5l-3 8l-8.5 .5zM22 537.5l7 4.5l4.5 7.5l-15.5 4.5zM196.5 554l5.5 .5l1 4l-6 1zM239.5 568l5.5 0l1.5 8l-7.5-.5zM201 575l9-1l.5 9l-5.5-2zM196 579.5l9 1.5l-1.5 7l-6 2zM205 581l5.5 2l-1 6l-6-1zM197.5 590l6-2l-1.5 8l-4.5-2.5zM203.5 588l6 1l.5 8.5l-8-1.5zM203.5 602l6 1.5l-.5 5l-6 1zM209.5 603.5l6-.5l0 8.5l-6.5-3zM215.5 603l7.5-1.5l.5 9l-8 1zM203 609.5l6-1l2 8.5l-7-2.5zM229 608.5l9 .5l1 8l-7-.5zM197 615.5l7-1l-2.5 8l-5.5-.5zM204 614.5l7 2.5l-2 5l-7.5 .5zM224.5 617.5l7.5-1l-.5 7l-7.5-1.5zM196 622l5.5 .5l.5 9l-5.5-2.5zM201.5 622.5l7.5-.5l2.5 8l-9.5 1.5zM215.5 624l8.5-2l1 7.5l-9.5-1zM202 631.5l9.5-1.5l-.5 7l-8.5 2zM211.5 630l4-1.5l2 11l-6.5-2.5zM217.5 639.5l5.5-2.5l3 7l-8.5 2zM226 644l4 1l.5 6.5l-7 1.5zM230 645l10 1l-2.5 4.5l-7 1zM195 651l8.5-1l1.5 10l-10.5-2.5zM230.5 651.5l7-1l1.5 9l-7.5-1.5zM194.5 657.5l10.5 2.5l-2.5 5l-6.5 .5zM205 660l5-1.5l-1 8l-6.5-1.5zM210 658.5l5.5 0l.5 7l-7 1zM202.5 665l6.5 1.5l-.5 5l-4 2zM209 666.5l7-1l.5 7l-8-1zM189.5 672.5l6.5 1.5l-1.5 7l-7-2zM208.5 671.5l8 1l-.5 8l-4.5-3zM216.5 672.5l8.5-.5l0 7l-9 1.5zM211.5 677.5l4.5 3l.5 6l-5.5 .5zM225 679l6 .5l-.5 8.5l-7.5-1zM231 679.5l5.5 1.5l2.5 6.5l-8.5 .5zM230.5 688l8.5-.5l.5 6.5l-9.5 1zM225 693.5l5 1.5l2.5 7l-7.5-3.5zM239.5 694l6 0l0 4.5l-6 2.5zM246 706l5 3.5l0 4.5l-7.5 .5zM243.5 714.5l7.5-.5l0 8.5l-8-2.5zM243 720l8 2.5l0 4l-6.5 2zM229.5 737.5l9.5-1l-1 5.5l-8-1zM275 532l7-2l.5 6l-8 1.5zM251 561l6.5-.5l1 7l-7.5-1.5zM251 574l5 1l.5 3l-5.5 0zM263 598l5.5 1l-.5 3.5l-3.5 1.5zM264.5 604l3.5-1.5l-.5 5.5l-5.5 .5zM261.5 668l9 2l-2.5 6l-4 0zM255.5 675.5l8.5 .5l-1 4l-4.5 2zM264 676l4 0l.5 4l-5.5 0zM251 706.5l5.5-1l-.5 5.5l-5 1.5zM264 704.5l6 0l-1.5 8.5l-6-2.5zM251 712.5l5-1.5l2.5 6l-7.5 2zM256 711l6.5-.5l.5 5.5l-4.5 1zM262.5 710.5l6 2.5l1.5 5.5l-7-2.5zM258.5 717l4.5-1l1 8l-6-1zM263 716l7 2.5l.5 5.5l-6.5 0zM325.5 550.5l6 0l0 5l-5-.5zM441.5 556.5l5.5 .5l-.5 4.5l-4.5 1.5zM316 581l3.5 2l.5 4.5l-4-1.5zM427.5 722.5l4 0l-1.5 4l-4.5-1z" fill="#0d6e27" stroke="#8a8a8a" stroke-width="0.5"/><path d="M61.5 455l16-4.5l-.5 16l-11.5-5.5zM77.5 450.5l7 3.5l3.5 12l-11 .5zM52 472.5l11.5 3l3 9l-13.5 3zM73 485.5l15.5-1.5l.5 15l-14-2zM9 518.5l10.5 2l0 12l-10.5-2zM20 565.5l14-.5l-2.5 8l-12-2zM31.5 573l11 1.5l-1 10.5l-13-3.5zM118 652l12.5 .5l-.5 11l-9-4.5zM316.5 708l4.5-.5l-1.5 5l-3-2z" fill="#cfe8b9" stroke="#8a8a8a" stroke-width="0.5"/><path d="M121.5 559.5l11 5.5l-3 10.5l-13-3.5zM245 527.5l6-2.5l0 8l-5.5-1zM285.5 554l6 3l1.5 3.5l-4.5 2.5zM300.5 569l.5-2.5l0 8.5l-.5-1.5zM365.5 540.5l5.5 1.5l1 5l-5-1.5zM425.5 557.5l6-1l1 6l-5.5-.5zM351 587.5l4-1.5l2 4.5l-5.5 1.5zM355 586l6 .5l1 3.5l-5 .5z" fill="#1a82a8" stroke="#8a8a8a" stroke-width="0.5"/><path d="M244.5 680l6.5 0l0 5.5l-5 .5zM239 687.5l7-1.5l-.5 8l-6 0zM246 686l5-.5l0 9l-5.5-.5zM256 591l5.5 .5l1.5 6.5l-5.5-1zM288.5 652.5l3.5-1.5l.5 6l-4.5 1zM292 651l7 1l-1.5 5.5l-5-.5zM299 652l2-2l0 8.5l-3.5-1zM270 658l5-1.5l0 6.5l-4.5 0zM275 656.5l7 2.5l-1.5 6l-5.5-2zM288 658l4.5-1l0 5.5l-5.5 0zM292.5 657l5 .5l2 5.5l-7-.5zM297.5 657.5l3.5 1l0 4l-1.5 .5zM275 663l5.5 2l.5 4.5l-7 1.5zM280.5 665l6.5-2.5l-1.5 7.5l-4.5-.5zM287 662.5l5.5 0l0 5.5l-7 2zM292.5 662.5l7 .5l0 6l-7-1zM299.5 663l1.5-.5l0 8l-1.5-1.5zM285.5 670l7-2l1.5 7l-8 1zM299.5 669l1.5 1.5l0 5.5l-1.5-1.5zM274 676l6-2l1.5 6l-7.5 1.5zM280 674l6 2l1 6l-5.5-2zM294 675l5.5-.5l-.5 7l-5.5 0zM299.5 674.5l1.5 1.5l0 6l-2-.5zM258.5 682l4.5-2l.5 6.5l-8 1.5zM263 680l5.5 0l-1 8l-4-1.5zM287 682l6.5-.5l1 7.5l-7.5-2.5zM293.5 681.5l5.5 0l0 4.5l-4.5 3zM299 681.5l2 .5l0 4l-2 0zM287 686.5l7.5 2.5l-1 5.5l-7-.5zM294.5 689l4.5-3l-1 8l-4.5 .5zM299 686l2 0l0 7l-3 1zM286.5 694l7 .5l1 6.5l-6-2zM293.5 694.5l4.5-.5l0 5.5l-3.5 1.5zM288.5 699l6 2l-2 5l-6-.5zM294.5 701l3.5-1.5l2.5 6.5l-8 0zM298 699.5l3 1l0 3.5l-.5 2zM292.5 706l8 0l-.5 6.5l-8.5-1.5zM371 530.5l5 1.5l1 4l-7.5 1.5zM340.5 537l4.5 .5l1.5 5l-6.5-.5zM345 537.5l7.5-1l-1 5l-5 1zM367 536l2.5 1.5l1.5 4.5l-5.5-1.5zM369.5 537.5l7.5-1.5l-1.5 5.5l-4.5 .5zM340 542l6.5 .5l-1.5 5l-4.5-1zM371 542l4.5-.5l0 5l-3.5 .5zM412 546.5l5 1.5l-1 4l-5 .5zM447.5 545.5l4 0l.5 7l-5.5-1.5zM346.5 551.5l4-1.5l.5 6.5l-5 1zM350.5 550l5 1l-1 6l-3.5-.5zM346 557.5l5-1l-1 5l-4 1zM351 556.5l3.5 .5l.5 4l-5 .5zM400 556l7 .5l-1.5 5l-4-1.5zM451.5 572.5l5 0l-.5 3l-4.5 2zM336 575.5l4 1.5l1.5 6l-5.5-3zM370.5 578l5-.5l-.5 4l-4.5 0zM451.5 577.5l4.5-2l1.5 5.5l-6-.5zM416 586.5l5.5-1l-.5 6.5l-6-2zM421.5 585.5l5.5 0l-.5 7l-5.5-.5zM431.5 585.5l5.5 1.5l-2 3.5l-3.5 1.5zM437 587l3-.5l1 6l-6-2zM440 586.5l5.5-1.5l.5 6.5l-5 1zM421 592l5.5 .5l0 5l-6-2zM431.5 592l3.5-1.5l.5 6l-4 0zM435 590.5l6 2l-.5 3.5l-5 .5zM441 592.5l5-1l.5 6.5l-6-2zM446 591.5l4-.5l1.5 6l-5 1zM450 591l5 .5l.5 4.5l-4 1zM455 591.5l4.5-.5l.5 5.5l-4.5-.5zM420.5 595.5l6 2l.5 3l-6 0zM435.5 596.5l5-.5l1 6l-4.5 .5zM451.5 597l4-1l1.5 6.5l-6-1zM455.5 596l4.5 .5l2.5 4.5l-5.5 1.5zM429.5 601l7.5 1.5l-1 3l-4.5 0zM457 602.5l5.5-1.5l-.5 6.5l-6-.5zM416.5 606.5l5 1l-1 2.5l-5 1.5zM451.5 607l4.5 0l.5 4.5l-5.5-.5zM326 612.5l4.5-1.5l0 5.5l-4.5 1.5zM420.5 610l5 2.5l2 3.5l-7-1zM451 611l5.5 .5l0 5.5l-5.5-.5zM326 618l4.5-1.5l.5 4l-5 2.5zM347 618l5-1l-.5 4.5l-5 1zM435 616.5l6 0l.5 4.5l-6 1zM456.5 617l5-1.5l-1.5 6.5l-2.5 .5zM422 623l4.5-2.5l-.5 5l-4.5 1zM431 622.5l4.5-.5l-.5 3l-3.5 .5zM435.5 622l6-1l-1 7l-5.5-3zM445.5 622l4.5-.5l1 5.5l-5.5-1zM457.5 622.5l2.5-.5l2 4l-5-1zM330 627l5.5-1l0 4.5l-5 1.5zM316.5 631l4 .5l1.5 5l-5.5-.5zM404.5 635.5l5 1.5l1.5 4l-4-.5zM312 641.5l4-.5l0 6l-4 0zM316 641l6 .5l-1.5 5.5l-4.5 0zM322 641.5l3 .5l1 4l-5.5 1zM397 641l3 1.5l2 5l-7-1zM400 642.5l7-2l-.5 7l-4.5 0zM305 647.5l7-.5l-1 5l-4.5-1zM320.5 647l5.5-1l-1 6.5l-3.5-1.5zM326 646l5-1l-.5 7l-5.5 .5zM362 645.5l4 1.5l-.5 5.5l-4.5-1zM366 647l5 0l-1 4l-4.5 1.5zM371 647l6 0l-2 6l-5-2zM395 646.5l7 1l-1.5 3.5l-5 1zM402 647.5l4.5 0l0 4l-6-.5zM301 652l5.5-1l0 5.5l-5.5-.5zM306.5 651l4.5 1l0 3.5l-4.5 1zM311 652l6-1l-1 5.5l-5-1zM317 651l4.5 0l1 4.5l-6.5 1zM370 651l5 2l1 4.5l-4.5 0zM400.5 651l6 .5l-.5 4.5l-4-1zM406.5 651.5l4.5-1l.5 6l-5.5-.5zM411 650.5l6 1.5l-.5 3l-5 1.5zM419.5 651l7.5 .5l-1 3.5l-5 2.5zM301 656l5.5 .5l0 5l-5.5 0zM306.5 656.5l4.5-1l1 7l-5.5-1zM311 655.5l5 1l1 5l-5 1zM316 656.5l6.5-1l-.5 6.5l-5-.5zM322.5 655.5l5 1.5l-1.5 3.5l-4 1.5zM347 657.5l5 .5l-.5 4l-6-2zM362 657.5l3.5-1l-.5 4.5l-5-1zM365.5 656.5l6 1l1 5l-7.5-1.5zM371.5 657.5l4.5 0l0 4.5l-3.5 .5zM391.5 657l4-1l0 6.5l-4-1zM395.5 656l6.5-1l-1 6l-5.5 1.5zM406 656l5.5 .5l-1.5 6l-5 0zM411.5 656.5l5-1.5l-1 5l-5.5 2.5zM301 661.5l5.5 0l0 6l-5.5 0zM306.5 661.5l5.5 1l0 3.5l-5.5 1.5zM312 662.5l5-1l0 6l-5-1.5zM317 661.5l5 .5l-.5 4.5l-4.5 1zM322 662l4-1.5l-.5 5.5l-4 .5zM340 663l5.5-3l1.5 7.5l-5-2.5zM356 661.5l4-1.5l2 8l-5-.5zM395.5 662.5l5.5-1.5l.5 6l-5-1.5zM401 661l4 1.5l1 4.5l-4.5 0zM405 662.5l5 0l.5 3l-4.5 1.5zM301 667.5l5.5 0l.5 4l-6 .5zM312 666l5 1.5l-1.5 3.5l-3.5-1zM317 667.5l4.5-1l0 3.5l-6 1zM342 665l5 2.5l-1.5 4.5l-6-.5zM351 666.5l6 1l0 4l-5.5-.5zM357 667.5l5 .5l-1.5 4l-3.5-.5zM392 667l4.5-1.5l-1.5 4.5l-3 2.5zM301 672l6-.5l-1.5 5.5l-4.5-1.5zM307 671.5l5-1.5l-1 6l-5.5 1zM315.5 671l6-1l0 7.5l-4-1zM395 670l7.5 3l-1 4.5l-5-.5zM402.5 673l3.5-2l-.5 4.5l-4 2zM406 671l5.5 .5l.5 5l-6.5-1zM411.5 671.5l5 .5l.5 3.5l-5 1zM301 675.5l4.5 1.5l1 3.5l-5.5 0zM305.5 677l5.5-1l0 5l-4.5-.5zM311 676l6.5 .5l-1.5 6l-5-1.5zM317.5 676.5l4 1l-1 4.5l-4.5 .5zM352 676.5l4 .5l1 4.5l-6 0zM356 677l4.5-1l1 6l-4.5-.5zM360.5 676l6 1l0 5l-5 0zM366.5 677l3.5-1l2 5l-5.5 1zM370 676l7.5 1l-2 3.5l-3.5 .5zM377.5 677l4.5-1.5l-1 6.5l-5.5-1.5zM401.5 677.5l4-2l1 6l-5-1zM301 680.5l5.5 0l-.5 5.5l-5 0zM306.5 680.5l4.5 .5l0 5.5l-5-.5zM311 681l5 1.5l.5 4l-5.5 0zM316 682.5l4.5-.5l1 4.5l-5 0zM325 680.5l4.5 1.5l2.5 5l-4.5-.5zM329.5 682l5.5 1l0 2.5l-3 1.5zM335 683l7-.5l-2 5.5l-5-2.5zM351 681.5l6 0l-.5 5l-5 1zM357 681.5l4.5 .5l.5 4l-5.5 .5zM375.5 680.5l5.5 1.5l-.5 3.5l-4.5 0zM381 682l4.5-2l1 5.5l-6 0zM390 682l5-1l2 4l-6.5 1.5zM395 681l6.5-.5l-.5 5.5l-4-1zM401.5 680.5l5 1l-1 6.5l-4.5-2zM406.5 681.5l4.5 .5l1 3.5l-6.5 2.5zM301 686l5 0l.5 4.5l-5.5 2.5zM311 686.5l5.5 0l0 4.5l-5 1zM316.5 686.5l5 0l.5 5l-5.5-.5zM321.5 686.5l6 0l-2 5l-3.5 0zM327.5 686.5l4.5 .5l-2.5 3.5l-4 1zM332 687l3-1.5l1.5 7.5l-7-2.5zM335 685.5l5 2.5l1 3.5l-4.5 1.5zM351.5 687.5l5-1l-.5 4l-4 1.5zM356.5 686.5l5.5-.5l-1 5.5l-5-1zM362 686l4.5-.5l-.5 5.5l-5 .5zM366.5 685.5l5.5 2l-1 5l-5-1.5zM372 687.5l4-2l-.5 7.5l-4.5-.5zM376 685.5l4.5 0l-.5 6.5l-4.5 1zM380.5 685.5l6 0l-.5 5l-6 1.5zM390.5 686.5l6.5-1.5l-.5 7.5l-6-2zM397 685l4 1l1 6.5l-5.5 0zM401 686l4.5 2l0 3l-3.5 1.5zM301 693l5.5-2.5l-1 5.5l-4.5 0zM306.5 690.5l5 1.5l-1 3.5l-5 .5zM311.5 692l5-1l-1 4l-5 .5zM316.5 691l5.5 .5l-2 5l-4.5-1.5zM322 691.5l3.5 0l0 5l-5.5 0zM325.5 691.5l4-1l2.5 7l-6.5-1zM352 692l4-1.5l-.5 5.5l-5-1zM361 691.5l5-.5l-1.5 5.5l-2 0zM375.5 693l4.5-1l.5 5.5l-5.5-2zM380 692l6-1.5l.5 7.5l-6-.5zM386 690.5l4.5 0l1 6.5l-5 1zM402 692.5l3.5-1.5l-.5 5l-5 1zM405.5 691l4.5 .5l0 6l-5-1.5zM301 696l4.5 0l0 5.5l-4.5 1zM305.5 696l5-.5l0 5.5l-5 .5zM310.5 695.5l5-.5l1 7.5l-6-1.5zM315.5 695l4.5 1.5l1.5 4l-5 2zM320 696.5l5.5 0l-.5 5.5l-3.5-1.5zM325.5 696.5l6.5 1l-1.5 5l-5.5-.5zM332 697.5l4.5-2.5l-2 5.5l-4 2zM336.5 695l3.5 1l0 5l-5.5-.5zM355.5 696l7 .5l-.5 6.5l-4.5-3zM364.5 696.5l8-1.5l-1 8l-4-1.5zM372.5 695l2.5 .5l1.5 6l-5 1.5zM380.5 697.5l6 .5l0 2.5l-6.5 .5zM386.5 698l5-1l-1 3.5l-4 0zM391.5 697l5-1l0 6.5l-6-2zM396.5 696l3.5 1l1.5 5.5l-5 0zM400 697l5-1l.5 5.5l-4 1zM405 696l5 1.5l.5 3.5l-5 .5zM305.5 701.5l5-.5l.5 5.5l-4 .5zM310.5 701l6 1.5l0 5.5l-5.5-1.5zM316.5 702.5l5-2l-.5 7l-4.5 .5zM321.5 700.5l3.5 1.5l2 5l-6 .5zM325 702l5.5 .5l1.5 3l-5 1.5zM301 708l6-1l-.5 5l-5.5 0z" fill="#c4380f" stroke="#8a8a8a" stroke-width="0.5"/>
<path d="M32.4,472.8 L38.7,475.4 L41.1,483.2 L53.6,485.7 L67.6,485.6 L72.9,485.9 L90.0,489.5M96.2,454.1 L90.0,484.4 L90.0,489.5M90.0,489.5 L92.4,496.1 L83.6,509.2 L83.6,516.7 L79.4,537.0M17.1,522.2 L132.0,546.2M53.5,531.4 L45.2,567.3 L85.2,626.1M85.2,626.1 L88.5,635.5 L81.0,645.5 L79.3,653.8M105.6,542.0 L93.1,613.6 L86.7,613.8 L85.2,626.1M95.0,602.7 L278.7,617.9M142.0,609.7 L133.1,679.5M148.2,560.8 L142.0,609.7M132.0,546.2 L130.3,558.3 L211.2,566.7M104.1,455.7 L101.8,467.4 L103.6,473.8 L111.5,481.4 L113.1,486.5 L109.6,496.9 L115.0,500.3 L117.0,509.3 L124.7,515.4 L132.6,515.4 L136.4,516.0M137.3,510.0 L132.0,546.2M137.3,510.0 L197.1,516.8M200.9,468.9 L193.2,565.4M211.2,566.7 L208.2,616.0M210.4,579.0 L272.2,580.9M199.1,615.4 L198.7,621.6 L194.3,677.2 L158.7,674.1M198.7,621.6 L227.3,623.2 L226.3,647.2 L234.1,649.5 L240.8,653.4 L250.6,656.2 L259.4,658.2 L270.3,656.4 L280.4,659.6M198.0,505.4 L261.5,508.3M256.4,471.6 L258.1,484.8 L259.5,500.4 L261.5,508.3 L262.3,516.1 L262.1,537.9M195.1,541.0 L244.0,543.7 L252.7,546.3 L262.0,550.1M260.8,537.9 L262.0,550.1M262.1,537.9 L307.9,537.3M262.0,550.1 L265.9,562.4 L267.9,573.7M267.9,573.7 L307.5,572.8M299.0,498.8 L297.6,507.3 L294.4,514.6 L293.7,522.5 L300.7,526.6 L307.9,537.3 L313.5,549.3 L315.3,561.5 L307.5,572.8 L308.1,583.9 L319.5,593.3 L330.6,616.2 L326.1,628.9 L322.8,641.5 L314.6,654.3 L313.4,666.7 L314.6,679.1 L310.0,691.6M272.2,580.9 L278.7,592.0 L278.8,617.9 L278.7,624.1M278.7,624.1 L321.4,622.9 L319.6,629.2 L326.1,628.9M280.6,624.1 L280.7,637.7 L280.4,659.6 L284.8,667.4M284.8,667.4 L313.4,666.7M284.8,667.4 L285.0,679.8 L290.1,692.2 L288.6,704.6 L287.4,708.3M310.0,691.6 L329.0,690.8 L331.6,700.9M313.5,549.3 L338.7,547.8M341.7,556.7 L344.2,590.6 L344.0,596.8 L340.9,605.7M344.7,556.5 L366.1,554.6 L378.2,554.1M366.0,555.4 L369.1,587.2M330.6,616.2 L340.9,605.7 L345.5,604.1 L354.7,602.2 L364.1,591.4 L369.1,587.2 L380.0,591.1 L390.6,593.6 L397.0,585.3 L404.3,576.9 L406.1,564.2M406.0,563.8 L403.8,547.2M327.6,622.6 L341.9,620.5 L401.9,614.6M382.9,616.9 L397.8,606.4 L397.8,603.3 L390.6,593.6M320.9,641.6 L378.9,637.2M378.9,637.2 L386.1,630.2 L395.0,623.0 L401.9,614.6M402.0,615.2 L456.8,606.8M341.3,640.4 L342.1,652.8 L342.0,690.1 L343.0,697.4M366.5,638.4 L373.0,664.0 L376.0,671.2 L377.1,687.3M377.1,687.3 L350.7,689.5 L352.3,698.4M377.1,687.3 L378.8,690.8 L405.9,687.8 L413.5,686.9M390.7,636.0 L400.9,647.2 L405.9,655.4 L416.8,669.6M378.9,637.2 L390.7,636.0M390.7,636.0 L397.2,632.7 L410.2,631.1 L413.2,635.6 L423.8,634.1 L436.8,644.1M397.8,606.4 L406.9,602.8 L415.5,596.6 L419.1,588.5 L428.3,580.9 L433.1,576.4M433.1,576.4 L426.2,573.7 L417.5,576.3 L417.1,573.6M407.6,575.0 L450.5,568.1M407.6,575.0 L406.0,563.8M433.1,576.4 L440.4,580.2 L442.5,587.3 L449.6,589.8M450.5,568.1 L453.3,583.5 L460.1,582.2M410.0,543.0 L410.5,546.3 L449.2,539.8 L456.6,546.5M456.6,546.5 L464.5,549.4M456.6,546.5 L453.8,556.5 L457.9,563.2 L453.2,567.9M459.4,500.5 L463.3,517.1 L465.7,527.2 L465.4,536.0 L466.0,547.8 L466.7,548.9M475.0,497.2 L475.5,503.3 L471.9,515.3 L472.7,526.0M465.7,527.5 L486.2,523.0M465.5,536.3 L480.3,533.1 L482.2,541.8M484.0,532.4 L487.1,537.0M477.7,492.9 L486.9,518.2M313.4,499.5 L325.6,506.1 L338.2,516.1" fill="none" stroke="#5a5a5a" stroke-width="0.6"/>
</g>
<path d="M35.6,41.5 L40.0,44.5 L45.0,44.0 L48.8,38.7 L60.4,41.5 L71.9,45.0 L80.0,47.3 L100.0,52.0 L120.0,56.0 L138.5,59.0 L157.0,62.0 L175.0,64.6 L194.0,66.8 L212.0,68.3 L231.0,69.5 L249.0,70.0 L271.0,70.0 L272.0,65.0 L274.5,65.0 L277.5,74.0 L289.0,75.0 L300.0,78.5 L305.0,77.8 L313.8,78.6 L320.8,77.8 L326.0,77.0 L334.6,80.4 L343.0,83.8 L350.0,87.3 L355.4,90.8 L360.5,94.2 L367.5,98.5 L372.7,102.0 L377.9,104.6 L381.3,111.5 L384.5,120.0 L384.6,128.5 L381.5,137.7 L378.5,143.8 L383.0,148.5 L387.7,145.4 L395.4,142.3 L404.6,137.7 L409.0,133.0 L412.3,128.5 L412.3,122.3 L418.5,120.8 L427.7,118.5 L432.3,113.0 L433.8,108.5 L437.0,103.8 L444.0,99.0 L450.0,95.5 L455.0,95.0 L460.8,92.7 L466.5,90.4 L472.3,88.0 L474.6,84.6 L476.9,78.8 L478.0,73.0 L479.2,66.1 L482.7,58.1 L488.5,58.1 L491.9,56.9 L494.2,59.2 L496.5,67.3 L498.8,73.0 L502.3,75.4 L505.7,78.8 L509.2,82.3 L506.9,84.6 L503.4,88.0 L498.8,92.7 L494.2,97.3 L489.6,100.8 L486.1,104.2 L485.0,110.0 L486.1,115.7 L486.5,119.0 L490.6,122.0 L496.0,130.2 L490.6,133.0 L483.8,134.2 L475.8,138.3 L470.4,142.3 L465.0,147.7 L463.6,153.0 L463.6,158.5 L462.3,163.8 L459.6,169.2 L458.3,174.6 L457.0,181.3 L455.6,188.0 L456.2,196.0 L458.5,202.7 L463.0,210.4 L461.5,216.5 L457.0,222.7 L450.8,227.3 L444.6,235.0 L438.5,239.6 L433.8,244.2 L429.2,250.4 L424.6,255.0 L420.0,259.6 L417.0,265.8 L415.4,273.5 L415.4,281.2 L417.0,287.0 L420.0,290.8 L423.8,296.5 L427.7,304.2 L431.5,312.0 L435.4,319.6 L438.3,325.4 L439.2,331.0 L438.3,338.0 L436.3,342.7 L433.5,346.5 L429.6,349.4 L423.8,352.3 L419.0,353.3 L416.2,354.0 L418.0,351.5 L424.0,349.0 L428.7,343.7 L426.7,340.8 L422.0,338.0 L418.0,334.0 L414.2,330.2 L411.3,325.4 L407.5,321.5 L404.6,316.7 L403.7,312.0 L402.7,307.1 L398.8,302.3 L396.0,298.0 L392.0,294.0 L384.6,293.3 L380.8,296.0 L377.0,298.0 L373.0,296.0 L369.2,293.3 L363.5,291.3 L357.7,292.3 L352.0,293.3 L344.2,294.2 L339.4,298.0 L338.5,303.8 L336.5,309.6 L330.8,307.7 L323.0,309.6 L315.4,307.7 L307.7,303.8 L300.0,303.8 L295.0,302.5 L285.0,304.0 L277.5,307.5 L267.5,312.5 L260.0,319.2 L255.4,322.3 L250.8,327.0 L249.2,333.0 L249.2,340.8 L250.8,348.5 L246.2,347.7 L238.5,345.4 L232.3,340.8 L227.7,331.5 L223.0,325.4 L218.5,317.7 L215.4,311.5 L210.8,305.4 L206.2,302.3 L200.0,300.8 L195.4,302.3 L192.3,305.4 L189.2,308.5 L185.0,306.5 L180.5,302.0 L176.2,296.0 L173.0,290.0 L170.0,285.4 L165.4,279.2 L160.8,274.6 L157.7,270.8 L143.8,271.5 L142.3,273.0 L136.2,274.6 L130.0,273.0 L119.2,271.5 L110.6,269.8 L105.4,265.5 L95.0,260.3 L84.6,255.0 L76.8,250.8 L76.0,249.0 L63.8,246.4 L53.5,244.7 L52.5,239.6 L49.8,234.2 L47.1,228.8 L41.7,224.8 L36.3,220.8 L31.0,216.7 L26.9,212.7 L25.6,207.3 L22.9,199.2 L20.2,191.0 L18.8,183.0 L17.5,176.3 L16.2,169.6 L14.8,165.6 L12.1,157.5 L10.8,148.0 L11.4,140.0 L12.7,131.5 L15.0,124.6 L16.7,117.7 L17.3,108.5 L20.8,103.8 L24.2,96.9 L27.7,87.7 L31.1,78.5 L33.4,70.4 L34.6,60.0 L35.0,53.0 L34.4,46.0 Z" transform="translate(1,405.5)" fill="none" stroke="#777" stroke-width="0.7"/>
<ellipse cx="27" cy="626.0" rx="3" ry="1" fill="#fff" stroke="#777" stroke-width="0.4"/><ellipse cx="32.5" cy="627.5" rx="2.5" ry="1" fill="#fff" stroke="#777" stroke-width="0.4"/><ellipse cx="37.5" cy="628.3" rx="2" ry="1" fill="#fff" stroke="#777" stroke-width="0.4"/><ellipse cx="32.5" cy="635.5" rx="1" ry="1" fill="#fff" stroke="#777" stroke-width="0.4"/><ellipse cx="38" cy="639.0" rx="1" ry="1.3" fill="#fff" stroke="#777" stroke-width="0.4"/><ellipse cx="42" cy="643.5" rx="1" ry="1.6" fill="#fff" stroke="#777" stroke-width="0.4"/><ellipse cx="34" cy="642.0" rx="0.8" ry="0.8" fill="#fff" stroke="#777" stroke-width="0.4"/><g fill="#2350ab" stroke="#132a6e" stroke-width="0.9"><circle cx="483.8" cy="526.5" r="9.3"/><circle cx="463.8" cy="550.0" r="9"/><circle cx="50.0" cy="461.0" r="8.5"/><circle cx="339.5" cy="557.5" r="8.5"/><circle cx="455.0" cy="562.5" r="8"/><circle cx="271.2" cy="707.5" r="7.5"/><circle cx="56.0" cy="465.0" r="7"/><circle cx="44.5" cy="485.0" r="7"/><circle cx="354.5" cy="626.2" r="7"/><circle cx="318.2" cy="598.8" r="6.5"/><circle cx="257.5" cy="541.2" r="6"/><circle cx="377.5" cy="546.0" r="6"/><circle cx="426.2" cy="530.0" r="6"/><circle cx="383.8" cy="575.5" r="6"/><circle cx="380.0" cy="546.2" r="6"/><circle cx="393.8" cy="556.2" r="6"/><circle cx="467.5" cy="543.8" r="6"/><circle cx="381.2" cy="652.0" r="6"/><circle cx="407.5" cy="699.5" r="6"/><circle cx="408.8" cy="717.5" r="6"/><circle cx="437.0" cy="741.0" r="6"/><circle cx="45.0" cy="629.0" r="5.5"/><circle cx="265.0" cy="568.0" r="5.5"/><circle cx="371.2" cy="587.5" r="5.5"/><circle cx="410.5" cy="566.2" r="5.5"/><circle cx="239.2" cy="710.0" r="5.5"/><circle cx="414.5" cy="690.0" r="5.5"/><circle cx="52.0" cy="469.0" r="5"/><circle cx="295.5" cy="533.8" r="5"/><circle cx="462.5" cy="546.2" r="5"/><circle cx="52.0" cy="632.0" r="5"/><circle cx="50.0" cy="627.0" r="5"/><circle cx="442.5" cy="576.2" r="5"/><circle cx="428.8" cy="617.5" r="5"/><circle cx="256.2" cy="670.0" r="5"/><circle cx="355.0" cy="631.0" r="5"/><circle cx="437.0" cy="733.0" r="5"/><circle cx="108.5" cy="651.0" r="5"/><circle cx="288.0" cy="523.8" r="4.5"/><circle cx="323.0" cy="544.5" r="4.5"/><circle cx="19.0" cy="576.0" r="4.5"/><circle cx="183.0" cy="583.8" r="4.5"/><circle cx="305.5" cy="563.0" r="4.5"/><circle cx="323.2" cy="572.0" r="4.5"/><circle cx="382.5" cy="625.0" r="4.5"/><circle cx="440.0" cy="580.0" r="4.5"/><circle cx="427.5" cy="592.5" r="4.5"/><circle cx="412.5" cy="630.0" r="4.5"/><circle cx="323.8" cy="640.5" r="4.5"/><circle cx="357.0" cy="643.0" r="4.5"/><circle cx="370.0" cy="638.0" r="4.5"/><circle cx="398.8" cy="638.0" r="4.5"/><circle cx="425.0" cy="657.5" r="4.5"/><circle cx="420.5" cy="710.5" r="4.5"/><circle cx="53.0" cy="647.5" r="4.5"/><circle cx="438.8" cy="528.8" r="4"/><circle cx="415.0" cy="535.5" r="4"/><circle cx="470.0" cy="543.8" r="4"/><circle cx="148.8" cy="615.0" r="4"/><circle cx="322.5" cy="545.0" r="4"/><circle cx="355.0" cy="581.2" r="4"/><circle cx="278.0" cy="595.5" r="4"/><circle cx="361.2" cy="599.5" r="4"/><circle cx="440.0" cy="562.5" r="4"/><circle cx="438.8" cy="597.0" r="4"/><circle cx="398.8" cy="636.2" r="4"/><circle cx="357.5" cy="658.0" r="4"/><circle cx="272.5" cy="675.8" r="4"/><circle cx="412.5" cy="631.2" r="4"/><circle cx="406.2" cy="712.5" r="4"/><circle cx="110.0" cy="656.0" r="4"/><circle cx="22.0" cy="581.0" r="3.5"/><circle cx="369.2" cy="637.5" r="3.5"/><circle cx="250.2" cy="731.3" r="3.5"/><circle cx="114.2" cy="665.0" r="3.5"/><circle cx="35.0" cy="501.2" r="3"/><circle cx="91.2" cy="471.2" r="3"/><circle cx="160.8" cy="509.2" r="3"/><circle cx="255.8" cy="524.0" r="3"/><circle cx="297.5" cy="501.8" r="3"/><circle cx="335.0" cy="543.8" r="3"/><circle cx="495.0" cy="493.0" r="3"/><circle cx="485.0" cy="510.0" r="3"/><circle cx="469.5" cy="513.8" r="3"/><circle cx="30.0" cy="615.0" r="3"/><circle cx="42.5" cy="613.0" r="3"/><circle cx="62.5" cy="635.8" r="3"/><circle cx="122.5" cy="557.5" r="3"/><circle cx="183.8" cy="573.8" r="3"/><circle cx="149.5" cy="587.0" r="3"/><circle cx="162.0" cy="637.5" r="3"/><circle cx="250.0" cy="637.5" r="3"/><circle cx="286.8" cy="563.8" r="3"/><circle cx="307.0" cy="583.8" r="3"/><circle cx="323.8" cy="585.0" r="3"/><circle cx="330.0" cy="583.0" r="3"/><circle cx="348.8" cy="574.2" r="3"/><circle cx="363.0" cy="563.8" r="3"/><circle cx="376.2" cy="555.0" r="3"/><circle cx="300.0" cy="597.0" r="3"/><circle cx="300.0" cy="600.5" r="3"/><circle cx="283.0" cy="628.0" r="3"/><circle cx="323.8" cy="637.5" r="3"/><circle cx="432.0" cy="571.8" r="3"/><circle cx="450.0" cy="600.0" r="3"/><circle cx="412.5" cy="605.0" r="3"/><circle cx="448.8" cy="618.8" r="3"/><circle cx="443.8" cy="623.8" r="3"/><circle cx="406.2" cy="625.0" r="3"/><circle cx="251.2" cy="691.2" r="3"/><circle cx="247.0" cy="700.0" r="3"/><circle cx="301.2" cy="647.0" r="3"/><circle cx="327.0" cy="703.0" r="3"/><circle cx="343.8" cy="693.8" r="3"/><circle cx="386.2" cy="678.8" r="3"/><circle cx="386.2" cy="691.2" r="3"/><circle cx="405.0" cy="653.0" r="3"/><circle cx="390.0" cy="662.5" r="3"/><circle cx="419.5" cy="665.5" r="3"/><circle cx="413.8" cy="706.2" r="3"/><circle cx="437.5" cy="728.8" r="3"/><circle cx="419.2" cy="733.5" r="3"/><circle cx="246.3" cy="700.0" r="3"/></g>
<text x="485.6" y="221.1" font-size="7" text-anchor="middle" fill="#222">N</text>
<path d="M485.6 225.5L487.5 242L485.6 242Z" fill="#111"/>
<path d="M485.6 225.5L485.6 242L483.70000000000005 242Z" fill="#e8e8e8" stroke="#888" stroke-width="0.3"/>
<path d="M483.6 245.5L486.8 243L486.20000000000005 245.5L487.6 247.0L484.6 249L485.20000000000005 247.0Z" fill="#111"/>
<path d="M485.6 249.5L485.6 270.3L483.6 270.3Z" fill="#111"/>
<path d="M485.6 249.5L487.6 270.3L485.6 270.3Z" fill="#e8e8e8" stroke="#888" stroke-width="0.3"/>
<text x="484.3" y="621.9000000000001" font-size="7" text-anchor="middle" fill="#222">N</text>
<path d="M484.3 626.8L486.2 640L484.3 640Z" fill="#111"/>
<path d="M484.3 626.8L484.3 640L482.40000000000003 640Z" fill="#e8e8e8" stroke="#888" stroke-width="0.3"/>
<path d="M482.3 643.75L485.5 641.5L484.90000000000003 643.75L486.3 645.25L483.3 647L483.90000000000003 645.25Z" fill="#111"/>
<path d="M484.3 647.5L484.3 665.3L482.3 665.3Z" fill="#111"/>
<path d="M484.3 647.5L486.3 665.3L484.3 665.3Z" fill="#e8e8e8" stroke="#888" stroke-width="0.3"/>
<rect x="123.0" y="378.9" width="7.5" height="2.6" fill="#111"/><rect x="130.5" y="378.9" width="5.6" height="2.6" fill="#ddd"/><rect x="136.2" y="378.9" width="7.5" height="2.6" fill="#111"/><rect x="143.7" y="378.9" width="5.6" height="2.6" fill="#ddd"/><rect x="149.3" y="378.9" width="26.3" height="2.6" fill="#111"/><rect x="175.6" y="378.9" width="26.3" height="2.6" fill="#ddd"/><rect x="201.9" y="378.9" width="26.3" height="2.6" fill="#111"/><rect x="123" y="378.9" width="105.19999999999999" height="2.6" fill="none" stroke="#111" stroke-width="0.5"/><text x="123.0" y="374.6" font-size="7" text-anchor="middle" fill="#222">0</text><text x="136.2" y="374.6" font-size="7" text-anchor="middle" fill="#222">75</text><text x="149.3" y="374.6" font-size="7" text-anchor="middle" fill="#222">150</text><text x="175.6" y="374.6" font-size="7" text-anchor="middle" fill="#222">300</text><text x="201.9" y="374.6" font-size="7" text-anchor="middle" fill="#222">450</text><text x="228.2" y="374.6" font-size="7" text-anchor="middle" fill="#222">600</text><text x="231.7" y="381.1" font-size="7" fill="#222">Miles</text>
<rect x="211.7" y="821.1" width="7.5" height="2.6" fill="#111"/><rect x="219.2" y="821.1" width="5.6" height="2.6" fill="#ddd"/><rect x="224.8" y="821.1" width="7.5" height="2.6" fill="#111"/><rect x="232.2" y="821.1" width="5.6" height="2.6" fill="#ddd"/><rect x="237.8" y="821.1" width="26.2" height="2.6" fill="#111"/><rect x="264.0" y="821.1" width="26.2" height="2.6" fill="#ddd"/><rect x="290.1" y="821.1" width="26.2" height="2.6" fill="#111"/><rect x="211.7" y="821.1" width="104.60000000000002" height="2.6" fill="none" stroke="#111" stroke-width="0.5"/><text x="211.7" y="817.9" font-size="7" text-anchor="middle" fill="#222">0</text><text x="224.8" y="817.9" font-size="7" text-anchor="middle" fill="#222">75</text><text x="237.8" y="817.9" font-size="7" text-anchor="middle" fill="#222">150</text><text x="264.0" y="817.9" font-size="7" text-anchor="middle" fill="#222">300</text><text x="290.1" y="817.9" font-size="7" text-anchor="middle" fill="#222">450</text><text x="316.3" y="817.9" font-size="7" text-anchor="middle" fill="#222">600</text><text x="319.8" y="824.4" font-size="7" fill="#222">Miles</text>
<g stroke="#777" stroke-width="0.6">
<rect x="9.3" y="325.4" width="22.7" height="10.8" fill="#fcdcdb"/>
<rect x="9.3" y="341.2" width="22.7" height="11" fill="#f3938a"/>
<rect x="9.3" y="357" width="22.7" height="11" fill="#dc4c3e"/>
<rect x="9.3" y="372.6" width="22.7" height="11.2" fill="#b50a0f"/>
<rect x="12.4" y="697.3" width="19.2" height="9.7" fill="#c8300f"/>
<rect x="12.4" y="712.8" width="19.2" height="11.6" fill="#bfe3f5"/>
<rect x="12.4" y="730.8" width="19.2" height="10.9" fill="#1a7fa8"/>
<rect x="12.4" y="748" width="19.2" height="9.8" fill="#c6e6b4"/>
<rect x="12.4" y="762.4" width="19.2" height="10.4" fill="#0b6e26"/>
<rect x="12.4" y="779.3" width="19.2" height="10.4" fill="#cccccc"/>
<rect x="12.4" y="816.2" width="19.2" height="10.4" fill="#fff"/>
</g>
<circle cx="20.8" cy="302.3" r="2.4" fill="#2d5aa5" stroke="#15204a" stroke-width="1"/>
<g fill="#2350ab" stroke="#132a6e" stroke-width="0.9">
<circle cx="149.8" cy="789.2" r="2.2"/><circle cx="149.8" cy="801.7" r="5.6"/><circle cx="149.8" cy="818.5" r="8"/></g>
<rect x="0.6" y="0.6" width="518.8" height="834.65" fill="none" stroke="#2a2a2a" stroke-width="1.2"/>
</svg>
<div class="t" style="left:9.6px;top:7.7px;font-size:13.4px;font-weight:bold;-webkit-text-stroke:0.35px #000;color:#000">A</div><div class="t" style="left:102.7px;top:23.8px;font-size:10.45px;">Distribution of clinical trial sites and county mortality rates for NHL</div><div class="t" style="left:10.4px;top:402.3px;font-size:13.6px;font-weight:bold;-webkit-text-stroke:0.35px #000;color:#000">B</div><div class="t" style="left:69.6px;top:417.1px;font-size:10.55px;">Frequency of clinical trial participation for NHL and counties with higher mortality</div><div class="t" style="left:165.8px;top:430.0px;font-size:10.45px;">rates and racial minority representation</div><div class="t" style="left:10px;top:282.9px;font-size:7.0px;">Clinical trial sites</div><div class="t" style="left:35.4px;top:294.6px;font-size:7.0px;">Cancer centers</div><div class="t" style="left:35.4px;top:302.9px;font-size:7.0px;">or hospitals</div><div class="t" style="left:10px;top:313.5px;font-size:7.1px;">Mortality rates</div><div class="t" style="left:35.7px;top:327.1px;font-size:7.0px;">3.88 - 7.45</div><div class="t" style="left:35.7px;top:343.1px;font-size:7.0px;">7.46 - 8.49</div><div class="t" style="left:35.7px;top:358.7px;font-size:7.0px;">8.50 - 9.43</div><div class="t" style="left:35.7px;top:374.4px;font-size:7.0px;">9.44 - 15.77</div><div class="t" style="left:13px;top:677.1px;font-size:7.0px;">Counties with higher mortality</div><div class="t" style="left:13px;top:684.6px;font-size:7.0px;">rates and racial representation</div><div class="t" style="left:36.2px;top:697.7px;font-size:7.0px;">African Americans</div><div class="t" style="left:36.2px;top:710.4px;font-size:7.0px;">American Indians/Alaska</div><div class="t" style="left:36.2px;top:717.5px;font-size:7.0px;">Natives</div><div class="t" style="left:36.2px;top:728.8px;font-size:7.0px;">Asians, Native Hawaiians,</div><div class="t" style="left:36.2px;top:736.0px;font-size:7.0px;">and Other Pacific Islanders</div><div class="t" style="left:36.2px;top:748.4px;font-size:7.0px;">Two or more minorities</div><div class="t" style="left:36.2px;top:763.7px;font-size:7.0px;">Hispanic persons</div><div class="t" style="left:36.2px;top:776.8px;font-size:7.0px;">No minority group</div><div class="t" style="left:36.2px;top:784.4px;font-size:7.0px;">highly represented</div><div class="t" style="left:13px;top:796.5px;font-size:7.0px;">Counties with lower</div><div class="t" style="left:13px;top:804.5px;font-size:7.0px;">mortality rates than US</div><div class="t" style="left:36.2px;top:817.2px;font-size:7.0px;">Mortality rate &lt;8.31</div><div class="t" style="left:124.2px;top:765.4px;font-size:7.0px;">Frequency of participation</div><div class="t" style="left:124.2px;top:773.7px;font-size:7.0px;">by clinical trial sites</div><div class="t" style="left:161.9px;top:785.6px;font-size:7.0px;">1</div><div class="t" style="left:161.9px;top:798.7px;font-size:7.0px;">5</div><div class="t" style="left:160.5px;top:815.4px;font-size:7.0px;">10</div>
</body></html>
